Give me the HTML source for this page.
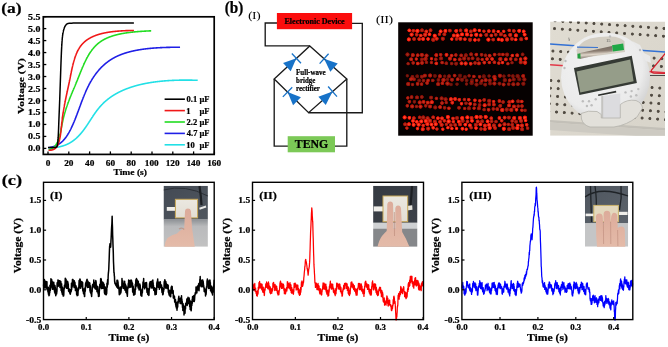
<!DOCTYPE html>
<html><head><meta charset="utf-8"><style>
html,body{margin:0;padding:0;background:#fff;width:668px;height:347px;overflow:hidden}
svg{display:block;filter:blur(0.35px)}
text{font-family:"Liberation Serif",serif;stroke:#000;stroke-width:0.22px}
</style></head><body>
<svg width="668" height="347" viewBox="0 0 668 347">
<rect width="668" height="347" fill="#fff"/>
<polyline points="48.34,147.74 48.59,147.75 48.83,147.75 49.08,147.76 49.32,147.76 49.57,147.76 49.81,147.76 50.05,147.76 50.29,147.76 50.53,147.76 50.76,147.75 51.00,147.75 51.24,147.74 51.47,147.73 51.70,147.73 51.94,147.72 52.17,147.71 52.40,147.70 52.63,147.69 52.86,147.67 53.08,147.66 53.31,147.64 53.53,147.63 53.76,147.61 53.98,147.59 54.21,147.58 54.43,147.56 54.65,147.54 54.87,147.51 55.09,147.49 55.30,147.47 55.52,147.44 55.74,147.42 55.95,147.39 56.16,147.37 56.38,147.34 56.59,147.31 56.80,147.28 57.01,147.25 57.22,147.22 57.43,147.18 57.64,147.15 57.84,147.11 58.05,147.08 58.25,147.04 58.46,147.01 58.66,146.97 58.86,146.93 59.06,146.89 59.26,146.85 59.46,146.81 59.66,146.76 59.86,146.72 60.06,146.68 60.25,146.63 60.45,146.58 60.64,146.54 60.84,146.49 61.03,146.44 61.22,146.39 61.41,146.34 61.60,146.29 61.79,146.24 61.98,146.18 62.17,146.13 62.35,146.08 62.54,146.02 62.72,145.97 62.91,145.91 63.09,145.85 63.27,145.79 63.45,145.73 63.64,145.67 63.82,145.61 64.00,145.55 64.17,145.49 64.35,145.42 64.53,145.36 64.71,145.30 64.88,145.23 65.06,145.16 65.23,145.10 65.40,145.03 65.58,144.96 65.75,144.89 65.92,144.82 66.09,144.75 66.26,144.68 66.43,144.60 66.59,144.53 66.76,144.46 66.93,144.38 67.09,144.31 67.26,144.23 67.42,144.15 67.59,144.08 67.75,144.00 67.91,143.92 68.07,143.84 68.23,143.76 68.39,143.68 68.55,143.60 68.71,143.52 68.87,143.43 69.03,143.35 69.19,143.26 69.34,143.18 69.50,143.09 69.65,143.01 69.81,142.92 69.96,142.83 70.11,142.74 70.26,142.65 70.41,142.56 70.57,142.47 70.72,142.38 70.87,142.29 71.01,142.20 71.16,142.11 71.31,142.01 71.46,141.92 71.60,141.82 71.75,141.73 71.89,141.63 72.04,141.54 72.18,141.44 72.33,141.34 72.47,141.24 72.61,141.14 72.75,141.04 72.89,140.94 73.03,140.84 73.17,140.74 73.31,140.64 73.45,140.54 73.59,140.43 73.73,140.33 73.86,140.23 74.00,140.12 74.14,140.02 74.27,139.91 74.41,139.80 74.54,139.70 74.67,139.59 74.81,139.48 74.94,139.37 75.07,139.26 75.20,139.15 75.34,139.04 75.47,138.93 75.60,138.82 75.73,138.71 75.85,138.60 75.98,138.49 76.11,138.37 76.24,138.26 76.37,138.15 76.49,138.03 76.62,137.92 76.74,137.80 76.87,137.68 76.99,137.57 77.12,137.45 77.24,137.33 77.37,137.22 77.49,137.10 77.61,136.98 77.73,136.86 77.85,136.74 77.97,136.62 78.10,136.50 78.22,136.38 78.34,136.26 78.45,136.13 78.57,136.01 78.69,135.89 78.81,135.77 78.93,135.64 79.05,135.52 79.16,135.39 79.28,135.27 79.39,135.15 79.51,135.02 79.63,134.89 79.74,134.77 79.85,134.64 79.97,134.51 80.08,134.39 80.20,134.26 80.31,134.13 80.42,134.00 80.53,133.87 80.65,133.74 80.76,133.61 80.87,133.48 80.98,133.35 81.09,133.22 81.20,133.09 81.31,132.96 81.42,132.83 81.53,132.70 81.64,132.56 81.75,132.43 81.85,132.30 81.96,132.17 82.07,132.03 82.18,131.90 82.28,131.76 82.39,131.63 82.50,131.50 82.60,131.36 82.71,131.23 82.81,131.09 82.92,130.95 83.03,130.82 83.13,130.68 83.23,130.54 83.34,130.41 83.44,130.27 83.55,130.13 83.65,130.00 83.75,129.86 83.86,129.72 83.96,129.58 84.06,129.44 84.16,129.30 84.27,129.16 84.37,129.02 84.47,128.88 84.57,128.74 84.67,128.60 84.77,128.46 84.87,128.32 84.97,128.18 85.07,128.04 85.17,127.90 85.27,127.76 85.37,127.62 85.47,127.48 85.57,127.34 85.67,127.19 85.77,127.05 85.87,126.91 85.97,126.77 86.07,126.62 86.16,126.48 86.26,126.34 86.36,126.19 86.46,126.05 86.56,125.91 86.65,125.76 86.75,125.62 86.85,125.48 86.95,125.33 87.04,125.19 87.14,125.04 87.24,124.90 87.33,124.76 87.43,124.61 87.53,124.47 87.62,124.32 87.72,124.18 87.81,124.03 87.91,123.89 88.01,123.74 88.10,123.60 88.20,123.45 88.29,123.30 88.39,123.16 88.48,123.01 88.58,122.87 88.68,122.72 88.77,122.58 88.87,122.43 88.96,122.28 89.06,122.14 89.15,121.99 89.25,121.85 89.34,121.70 89.44,121.55 89.53,121.41 89.63,121.26 89.72,121.12 89.82,120.97 89.91,120.82 90.01,120.68 90.10,120.53 90.20,120.38 90.29,120.24 90.39,120.09 90.48,119.95 90.58,119.80 90.67,119.65 90.77,119.51 90.86,119.36 90.96,119.21 91.05,119.07 91.15,118.92 91.24,118.78 91.34,118.63 91.43,118.48 91.53,118.34 91.62,118.19 91.72,118.05 91.81,117.90 91.91,117.75 92.00,117.61 92.10,117.46 92.19,117.32 92.29,117.17 92.39,117.03 92.48,116.88 92.58,116.74 92.67,116.59 92.77,116.45 92.87,116.30 92.96,116.16 93.06,116.01 93.16,115.87 93.25,115.72 93.35,115.58 93.45,115.43 93.54,115.29 93.64,115.15 93.74,115.00 93.83,114.86 93.93,114.71 94.03,114.57 94.13,114.43 94.23,114.28 94.32,114.14 94.42,114.00 94.52,113.86 94.62,113.71 94.72,113.57 94.82,113.43 94.92,113.29 95.01,113.14 95.11,113.00 95.21,112.86 95.31,112.72 95.41,112.58 95.51,112.44 95.61,112.30 95.72,112.16 95.82,112.02 95.92,111.88 96.02,111.74 96.12,111.60 96.22,111.46 96.32,111.32 96.43,111.18 96.53,111.04 96.63,110.90 96.73,110.76 96.84,110.63 96.94,110.49 97.04,110.35 97.15,110.21 97.25,110.08 97.36,109.94 97.46,109.80 97.57,109.67 97.67,109.53 97.78,109.40 97.88,109.26 97.99,109.12 98.09,108.99 98.20,108.86 98.31,108.72 98.42,108.59 98.52,108.45 98.63,108.32 98.74,108.19 98.85,108.06 98.96,107.92 99.07,107.79 99.18,107.66 99.28,107.53 99.39,107.40 99.51,107.27 99.62,107.14 99.73,107.01 99.84,106.88 99.95,106.75 100.06,106.62 100.18,106.49 100.29,106.36 100.40,106.23 100.52,106.11 100.63,105.98 100.74,105.85 100.86,105.72 100.97,105.60 101.09,105.47 101.20,105.35 101.32,105.22 101.44,105.10 101.55,104.97 101.67,104.85 101.79,104.73 101.91,104.60 102.03,104.48 102.15,104.36 102.26,104.24 102.38,104.12 102.50,103.99 102.62,103.87 102.74,103.75 102.87,103.63 102.99,103.51 103.11,103.39 103.23,103.27 103.35,103.16 103.48,103.04 103.60,102.92 103.72,102.80 103.85,102.68 103.97,102.57 104.10,102.45 104.22,102.33 104.35,102.22 104.47,102.10 104.60,101.99 104.72,101.87 104.85,101.76 104.98,101.64 105.10,101.53 105.23,101.42 105.36,101.30 105.49,101.19 105.62,101.08 105.75,100.97 105.88,100.86 106.01,100.74 106.14,100.63 106.27,100.52 106.40,100.41 106.53,100.30 106.66,100.19 106.79,100.08 106.93,99.98 107.06,99.87 107.19,99.76 107.33,99.65 107.46,99.54 107.59,99.44 107.73,99.33 107.86,99.22 108.00,99.12 108.13,99.01 108.27,98.91 108.41,98.80 108.54,98.70 108.68,98.59 108.82,98.49 108.95,98.39 109.09,98.28 109.23,98.18 109.37,98.08 109.51,97.98 109.65,97.87 109.79,97.77 109.93,97.67 110.07,97.57 110.21,97.47 110.35,97.37 110.49,97.27 110.63,97.17 110.77,97.07 110.92,96.97 111.06,96.87 111.20,96.77 111.34,96.68 111.49,96.58 111.63,96.48 111.78,96.39 111.92,96.29 112.07,96.19 112.21,96.10 112.36,96.00 112.50,95.91 112.65,95.81 112.80,95.72 112.94,95.62 113.09,95.53 113.24,95.44 113.39,95.34 113.53,95.25 113.68,95.16 113.83,95.07 113.98,94.97 114.13,94.88 114.28,94.79 114.43,94.70 114.58,94.61 114.73,94.52 114.88,94.43 115.04,94.34 115.19,94.25 115.34,94.16 115.49,94.07 115.65,93.99 115.80,93.90 115.95,93.81 116.11,93.72 116.26,93.64 116.42,93.55 116.57,93.46 116.73,93.38 116.88,93.29 117.04,93.21 117.19,93.12 117.35,93.04 117.51,92.95 117.66,92.87 117.82,92.78 117.98,92.70 118.14,92.62 118.29,92.53 118.45,92.45 118.61,92.37 118.77,92.29 118.93,92.21 119.09,92.13 119.25,92.04 119.41,91.96 119.57,91.88 119.73,91.80 119.90,91.72 120.06,91.64 120.22,91.57 120.38,91.49 120.55,91.41 120.71,91.33 120.87,91.25 121.04,91.18 121.20,91.10 121.36,91.02 121.53,90.95 121.69,90.87 121.86,90.79 122.02,90.72 122.19,90.64 122.36,90.57 122.52,90.49 122.69,90.42 122.86,90.34 123.02,90.27 123.19,90.20 123.36,90.12 123.53,90.05 123.70,89.98 123.87,89.91 124.04,89.83 124.21,89.76 124.37,89.69 124.55,89.62 124.72,89.55 124.89,89.48 125.06,89.41 125.23,89.34 125.40,89.27 125.57,89.20 125.74,89.13 125.92,89.06 126.09,89.00 126.26,88.93 126.44,88.86 126.61,88.79 126.78,88.72 126.96,88.66 127.13,88.59 127.31,88.53 127.48,88.46 127.66,88.39 127.83,88.33 128.01,88.26 128.19,88.20 128.36,88.13 128.54,88.07 128.72,88.01 128.90,87.94 129.07,87.88 129.25,87.82 129.43,87.75 129.61,87.69 129.79,87.63 129.97,87.57 130.15,87.51 130.33,87.44 130.51,87.38 130.69,87.32 130.87,87.26 131.05,87.20 131.23,87.14 131.41,87.08 131.59,87.02 131.78,86.96 131.96,86.91 132.14,86.85 132.32,86.79 132.51,86.73 132.69,86.67 132.88,86.62 133.06,86.56 133.24,86.50 133.43,86.45 133.61,86.39 133.80,86.33 133.99,86.28 134.17,86.22 134.36,86.17 134.54,86.11 134.73,86.06 134.92,86.01 135.10,85.95 135.29,85.90 135.48,85.84 135.67,85.79 135.86,85.74 136.04,85.69 136.23,85.63 136.42,85.58 136.61,85.53 136.80,85.48 136.99,85.43 137.18,85.38 137.37,85.33 137.56,85.28 137.76,85.23 137.95,85.18 138.14,85.13 138.33,85.08 138.52,85.03 138.71,84.98 138.91,84.93 139.10,84.88 139.29,84.84 139.49,84.79 139.68,84.74 139.88,84.69 140.07,84.65 140.26,84.60 140.46,84.55 140.65,84.51 140.85,84.46 141.05,84.42 141.24,84.37 141.44,84.33 141.63,84.28 141.83,84.24 142.03,84.19 142.23,84.15 142.42,84.11 142.62,84.06 142.82,84.02 143.02,83.98 143.22,83.93 143.41,83.89 143.61,83.85 143.81,83.81 144.01,83.77 144.21,83.73 144.41,83.68 144.61,83.64 144.81,83.60 145.01,83.56 145.22,83.52 145.42,83.48 145.62,83.44 145.82,83.40 146.02,83.37 146.22,83.33 146.43,83.29 146.63,83.25 146.83,83.21 147.04,83.17 147.24,83.14 147.44,83.10 147.65,83.06 147.85,83.03 148.06,82.99 148.26,82.95 148.47,82.92 148.67,82.88 148.88,82.85 149.09,82.81 149.29,82.78 149.50,82.74 149.71,82.71 149.91,82.67 150.12,82.64 150.33,82.60 150.53,82.57 150.74,82.54 150.95,82.51 151.16,82.47 151.37,82.44 151.58,82.41 151.79,82.38 152.00,82.34 152.20,82.31 152.41,82.28 152.62,82.25 152.84,82.22 153.05,82.19 153.26,82.16 153.47,82.13 153.68,82.10 153.89,82.07 154.10,82.04 154.31,82.01 154.53,81.98 154.74,81.95 154.95,81.93 155.17,81.90 155.38,81.87 155.59,81.84 155.81,81.81 156.02,81.79 156.23,81.76 156.45,81.73 156.66,81.71 156.88,81.68 157.09,81.65 157.31,81.63 157.52,81.60 157.74,81.58 157.96,81.55 158.17,81.53 158.39,81.50 158.61,81.48 158.82,81.45 159.04,81.43 159.26,81.41 159.47,81.38 159.69,81.36 159.91,81.34 160.13,81.31 160.35,81.29 160.57,81.27 160.79,81.25 161.00,81.23 161.22,81.20 161.44,81.18 161.66,81.16 161.88,81.14 162.10,81.12 162.33,81.10 162.55,81.08 162.77,81.06 162.99,81.04 163.21,81.02 163.43,81.00 163.65,80.98 163.88,80.96 164.10,80.94 164.32,80.92 164.54,80.91 164.77,80.89 164.99,80.87 165.21,80.85 165.44,80.83 165.66,80.82 165.89,80.80 166.11,80.78 166.33,80.77 166.56,80.75 166.78,80.73 167.01,80.72 167.23,80.70 167.46,80.69 167.69,80.67 167.91,80.66 168.14,80.64 168.36,80.63 168.59,80.61 168.82,80.60 169.05,80.58 169.27,80.57 169.50,80.56 169.73,80.54 169.96,80.53 170.18,80.52 170.41,80.50 170.64,80.49 170.87,80.48 171.10,80.47 171.33,80.46 171.56,80.44 171.79,80.43 172.02,80.42 172.25,80.41 172.48,80.40 172.71,80.39 172.94,80.38 173.17,80.37 173.40,80.36 173.63,80.35 173.86,80.34 174.10,80.33 174.33,80.32 174.56,80.31 174.79,80.30 175.02,80.29 175.26,80.28 175.49,80.28 175.72,80.27 175.96,80.26 176.19,80.25 176.42,80.25 176.66,80.24 176.89,80.23 177.13,80.22 177.36,80.22 177.59,80.21 177.83,80.20 178.06,80.20 178.30,80.19 178.54,80.19 178.77,80.18 179.01,80.18 179.24,80.17 179.48,80.17 179.72,80.16 179.95,80.16 180.19,80.15 180.43,80.15 180.66,80.14 180.90,80.14 181.14,80.14 181.38,80.13 181.61,80.13 181.85,80.13 182.09,80.12 182.33,80.12 182.57,80.12 182.81,80.12 183.05,80.12 183.28,80.11 183.52,80.11 183.76,80.11 184.00,80.11 184.24,80.11 184.48,80.11 184.72,80.11 184.97,80.11 185.21,80.10 185.45,80.10 185.69,80.10 185.93,80.10 186.17,80.10 186.41,80.11 186.65,80.11 186.90,80.11 187.14,80.11 187.38,80.11 187.62,80.11 187.87,80.11 188.11,80.11 188.35,80.12 188.60,80.12 188.84,80.12 189.08,80.12 189.33,80.13 189.57,80.13 189.81,80.13 190.06,80.13 190.30,80.14 190.55,80.14 190.79,80.15 191.04,80.15 191.28,80.15 191.53,80.16 191.77,80.16 192.02,80.17 192.27,80.17 192.51,80.18 192.76,80.18 193.00,80.19 193.25,80.19 193.50,80.20 193.74,80.20 193.99,80.21 194.24,80.21 194.49,80.22 194.73,80.23 194.98,80.23 195.23,80.24 195.48,80.25 195.73,80.25 195.97,80.26 196.22,80.27 196.47,80.28 196.72,80.28 196.97,80.29 197.22,80.30 197.47,80.31 197.72,80.32" fill="none" stroke="#22e0e6" stroke-width="1.6" stroke-linejoin="round"/>
<polyline points="48.80,147.60 49.03,147.57 49.26,147.54 49.48,147.51 49.71,147.47 49.93,147.44 50.15,147.40 50.37,147.36 50.58,147.32 50.80,147.28 51.01,147.24 51.22,147.19 51.44,147.14 51.65,147.10 51.85,147.05 52.06,147.00 52.27,146.94 52.47,146.89 52.67,146.83 52.87,146.78 53.07,146.72 53.27,146.66 53.47,146.60 53.66,146.54 53.86,146.47 54.05,146.41 54.24,146.34 54.43,146.27 54.62,146.21 54.81,146.13 54.99,146.06 55.18,145.99 55.36,145.92 55.54,145.84 55.72,145.76 55.90,145.68 56.08,145.60 56.26,145.52 56.43,145.44 56.61,145.36 56.78,145.27 56.95,145.19 57.12,145.10 57.29,145.01 57.46,144.92 57.63,144.83 57.79,144.74 57.96,144.65 58.12,144.55 58.28,144.46 58.44,144.36 58.60,144.26 58.76,144.16 58.92,144.06 59.08,143.96 59.23,143.86 59.38,143.76 59.54,143.65 59.69,143.55 59.84,143.44 59.99,143.33 60.14,143.22 60.29,143.12 60.43,143.00 60.58,142.89 60.72,142.78 60.87,142.67 61.01,142.55 61.15,142.43 61.29,142.32 61.43,142.20 61.57,142.08 61.71,141.96 61.85,141.84 61.98,141.72 62.12,141.59 62.25,141.47 62.38,141.35 62.51,141.22 62.65,141.09 62.78,140.97 62.91,140.84 63.03,140.71 63.16,140.58 63.29,140.45 63.41,140.32 63.54,140.18 63.66,140.05 63.79,139.92 63.91,139.78 64.03,139.64 64.15,139.51 64.27,139.37 64.39,139.23 64.51,139.09 64.63,138.95 64.74,138.81 64.86,138.67 64.97,138.53 65.09,138.38 65.20,138.24 65.32,138.10 65.43,137.95 65.54,137.80 65.65,137.66 65.76,137.51 65.87,137.36 65.98,137.21 66.09,137.06 66.19,136.91 66.30,136.76 66.41,136.61 66.51,136.46 66.62,136.31 66.72,136.15 66.83,136.00 66.93,135.85 67.03,135.69 67.13,135.53 67.24,135.38 67.34,135.22 67.44,135.06 67.54,134.91 67.64,134.75 67.73,134.59 67.83,134.43 67.93,134.27 68.03,134.11 68.12,133.95 68.22,133.79 68.32,133.62 68.41,133.46 68.50,133.30 68.60,133.14 68.69,132.97 68.79,132.81 68.88,132.64 68.97,132.48 69.06,132.31 69.15,132.15 69.25,131.98 69.34,131.81 69.43,131.65 69.52,131.48 69.61,131.31 69.70,131.14 69.79,130.97 69.87,130.80 69.96,130.63 70.05,130.47 70.14,130.30 70.23,130.12 70.31,129.95 70.40,129.78 70.49,129.61 70.57,129.44 70.66,129.27 70.74,129.10 70.83,128.92 70.91,128.75 71.00,128.58 71.08,128.41 71.17,128.23 71.25,128.06 71.34,127.89 71.42,127.71 71.50,127.54 71.58,127.36 71.67,127.19 71.75,127.01 71.83,126.84 71.91,126.66 72.00,126.48 72.08,126.31 72.16,126.13 72.24,125.96 72.32,125.78 72.40,125.60 72.48,125.42 72.56,125.25 72.64,125.07 72.72,124.89 72.80,124.71 72.88,124.53 72.96,124.35 73.04,124.18 73.11,124.00 73.19,123.82 73.27,123.64 73.35,123.46 73.43,123.28 73.50,123.10 73.58,122.92 73.66,122.74 73.73,122.56 73.81,122.37 73.89,122.19 73.96,122.01 74.04,121.83 74.11,121.65 74.19,121.47 74.27,121.28 74.34,121.10 74.42,120.92 74.49,120.74 74.57,120.55 74.64,120.37 74.72,120.19 74.79,120.01 74.86,119.82 74.94,119.64 75.01,119.45 75.09,119.27 75.16,119.09 75.23,118.90 75.31,118.72 75.38,118.53 75.45,118.35 75.53,118.16 75.60,117.98 75.67,117.79 75.74,117.61 75.82,117.42 75.89,117.24 75.96,117.05 76.03,116.87 76.10,116.68 76.18,116.50 76.25,116.31 76.32,116.12 76.39,115.94 76.46,115.75 76.53,115.56 76.60,115.38 76.67,115.19 76.75,115.00 76.82,114.82 76.89,114.63 76.96,114.44 77.03,114.26 77.10,114.07 77.17,113.88 77.24,113.70 77.31,113.51 77.38,113.32 77.45,113.13 77.52,112.95 77.59,112.76 77.66,112.57 77.73,112.38 77.80,112.19 77.87,112.01 77.94,111.82 78.01,111.63 78.08,111.44 78.15,111.25 78.22,111.07 78.29,110.88 78.36,110.69 78.43,110.50 78.49,110.31 78.56,110.13 78.63,109.94 78.70,109.75 78.77,109.56 78.84,109.37 78.91,109.18 78.98,108.99 79.05,108.81 79.12,108.62 79.19,108.43 79.26,108.24 79.32,108.05 79.39,107.86 79.46,107.68 79.53,107.49 79.60,107.30 79.67,107.11 79.74,106.92 79.81,106.73 79.88,106.54 79.95,106.36 80.02,106.17 80.09,105.98 80.15,105.79 80.22,105.60 80.29,105.41 80.36,105.23 80.43,105.04 80.50,104.85 80.57,104.66 80.64,104.47 80.71,104.29 80.78,104.10 80.85,103.91 80.92,103.72 80.99,103.53 81.06,103.35 81.13,103.16 81.20,102.97 81.27,102.78 81.34,102.59 81.41,102.41 81.48,102.22 81.55,102.03 81.62,101.84 81.69,101.66 81.76,101.47 81.83,101.28 81.90,101.10 81.97,100.91 82.04,100.72 82.11,100.54 82.18,100.35 82.26,100.16 82.33,99.98 82.40,99.79 82.47,99.60 82.54,99.42 82.61,99.23 82.68,99.05 82.76,98.86 82.83,98.67 82.90,98.49 82.97,98.30 83.04,98.12 83.12,97.93 83.19,97.75 83.26,97.56 83.34,97.38 83.41,97.19 83.48,97.01 83.55,96.83 83.63,96.64 83.70,96.46 83.78,96.27 83.85,96.09 83.92,95.91 84.00,95.72 84.07,95.54 84.15,95.36 84.22,95.17 84.30,94.99 84.37,94.81 84.45,94.62 84.52,94.44 84.60,94.26 84.67,94.08 84.75,93.90 84.82,93.71 84.90,93.53 84.98,93.35 85.05,93.17 85.13,92.99 85.21,92.81 85.28,92.63 85.36,92.45 85.44,92.27 85.52,92.09 85.60,91.91 85.67,91.73 85.75,91.55 85.83,91.37 85.91,91.19 85.99,91.01 86.07,90.84 86.15,90.66 86.23,90.48 86.31,90.30 86.39,90.13 86.47,89.95 86.55,89.77 86.63,89.59 86.71,89.42 86.79,89.24 86.87,89.07 86.95,88.89 87.04,88.71 87.12,88.54 87.20,88.36 87.28,88.19 87.37,88.01 87.45,87.84 87.54,87.67 87.62,87.49 87.70,87.32 87.79,87.15 87.87,86.97 87.96,86.80 88.04,86.63 88.13,86.46 88.21,86.28 88.30,86.11 88.39,85.94 88.47,85.77 88.56,85.60 88.65,85.43 88.73,85.26 88.82,85.09 88.91,84.92 89.00,84.75 89.09,84.58 89.18,84.41 89.27,84.24 89.35,84.08 89.44,83.91 89.53,83.74 89.62,83.57 89.72,83.41 89.81,83.24 89.90,83.07 89.99,82.91 90.08,82.74 90.17,82.58 90.26,82.41 90.36,82.25 90.45,82.08 90.54,81.92 90.64,81.75 90.73,81.59 90.82,81.42 90.92,81.26 91.01,81.10 91.11,80.94 91.20,80.77 91.30,80.61 91.40,80.45 91.49,80.29 91.59,80.13 91.69,79.97 91.78,79.81 91.88,79.65 91.98,79.49 92.08,79.33 92.17,79.17 92.27,79.01 92.37,78.85 92.47,78.69 92.57,78.53 92.67,78.38 92.77,78.22 92.87,78.06 92.97,77.91 93.08,77.75 93.18,77.59 93.28,77.44 93.38,77.28 93.48,77.13 93.59,76.97 93.69,76.82 93.79,76.67 93.90,76.51 94.00,76.36 94.11,76.21 94.21,76.05 94.32,75.90 94.42,75.75 94.53,75.60 94.64,75.45 94.74,75.29 94.85,75.14 94.96,74.99 95.06,74.84 95.17,74.69 95.28,74.55 95.39,74.40 95.50,74.25 95.61,74.10 95.72,73.95 95.83,73.80 95.94,73.66 96.05,73.51 96.16,73.36 96.27,73.22 96.38,73.07 96.50,72.93 96.61,72.78 96.72,72.64 96.84,72.49 96.95,72.35 97.06,72.21 97.18,72.06 97.29,71.92 97.41,71.78 97.52,71.64 97.64,71.49 97.76,71.35 97.87,71.21 97.99,71.07 98.11,70.93 98.23,70.79 98.34,70.65 98.46,70.51 98.58,70.38 98.70,70.24 98.82,70.10 98.94,69.96 99.06,69.82 99.18,69.69 99.30,69.55 99.43,69.42 99.55,69.28 99.67,69.14 99.79,69.01 99.92,68.88 100.04,68.74 100.16,68.61 100.29,68.47 100.41,68.34 100.54,68.21 100.66,68.08 100.79,67.95 100.92,67.81 101.04,67.68 101.17,67.55 101.30,67.42 101.43,67.29 101.55,67.16 101.68,67.04 101.81,66.91 101.94,66.78 102.07,66.65 102.20,66.52 102.33,66.40 102.46,66.27 102.60,66.15 102.73,66.02 102.86,65.89 102.99,65.77 103.13,65.65 103.26,65.52 103.39,65.40 103.53,65.28 103.66,65.15 103.80,65.03 103.94,64.91 104.07,64.79 104.21,64.67 104.35,64.55 104.48,64.43 104.62,64.31 104.76,64.19 104.90,64.07 105.04,63.95 105.18,63.83 105.32,63.71 105.46,63.60 105.60,63.48 105.74,63.37 105.88,63.25 106.02,63.13 106.17,63.02 106.31,62.90 106.45,62.79 106.60,62.68 106.74,62.56 106.89,62.45 107.03,62.34 107.18,62.23 107.33,62.12 107.47,62.01 107.62,61.90 107.77,61.79 107.92,61.68 108.06,61.57 108.21,61.46 108.36,61.35 108.51,61.24 108.66,61.13 108.81,61.03 108.97,60.92 109.12,60.82 109.27,60.71 109.42,60.61 109.57,60.50 109.73,60.40 109.88,60.29 110.04,60.19 110.19,60.09 110.35,59.99 110.50,59.88 110.66,59.78 110.82,59.68 110.97,59.58 111.13,59.48 111.29,59.38 111.45,59.28 111.61,59.19 111.77,59.09 111.93,58.99 112.09,58.89 112.25,58.80 112.41,58.70 112.57,58.61 112.74,58.51 112.90,58.42 113.06,58.32 113.23,58.23 113.39,58.14 113.56,58.04 113.72,57.95 113.89,57.86 114.06,57.77 114.22,57.68 114.39,57.59 114.56,57.50 114.73,57.41 114.90,57.32 115.07,57.23 115.24,57.15 115.41,57.06 115.58,56.97 115.75,56.89 115.92,56.80 116.09,56.72 116.27,56.63 116.44,56.55 116.62,56.46 116.79,56.38 116.96,56.30 117.14,56.22 117.32,56.13 117.49,56.05 117.67,55.97 117.85,55.89 118.02,55.81 118.20,55.73 118.38,55.65 118.56,55.58 118.74,55.50 118.92,55.42 119.10,55.34 119.28,55.27 119.46,55.19 119.65,55.12 119.83,55.04 120.01,54.97 120.20,54.89 120.38,54.82 120.56,54.74 120.75,54.67 120.93,54.60 121.12,54.53 121.31,54.46 121.49,54.39 121.68,54.31 121.87,54.24 122.05,54.18 122.24,54.11 122.43,54.04 122.62,53.97 122.81,53.90 123.00,53.83 123.19,53.77 123.38,53.70 123.57,53.63 123.77,53.57 123.96,53.50 124.15,53.44 124.35,53.37 124.54,53.31 124.73,53.25 124.93,53.18 125.12,53.12 125.32,53.06 125.51,53.00 125.71,52.93 125.91,52.87 126.10,52.81 126.30,52.75 126.50,52.69 126.70,52.63 126.90,52.58 127.09,52.52 127.29,52.46 127.49,52.40 127.69,52.34 127.90,52.29 128.10,52.23 128.30,52.17 128.50,52.12 128.70,52.06 128.91,52.01 129.11,51.95 129.31,51.90 129.52,51.85 129.72,51.79 129.92,51.74 130.13,51.69 130.34,51.64 130.54,51.58 130.75,51.53 130.95,51.48 131.16,51.43 131.37,51.38 131.58,51.33 131.78,51.28 131.99,51.23 132.20,51.18 132.41,51.14 132.62,51.09 132.83,51.04 133.04,50.99 133.25,50.95 133.46,50.90 133.68,50.85 133.89,50.81 134.10,50.76 134.31,50.72 134.53,50.67 134.74,50.63 134.95,50.59 135.17,50.54 135.38,50.50 135.60,50.46 135.81,50.41 136.03,50.37 136.24,50.33 136.46,50.29 136.68,50.25 136.89,50.21 137.11,50.17 137.33,50.13 137.55,50.09 137.76,50.05 137.98,50.01 138.20,49.97 138.42,49.93 138.64,49.89 138.86,49.86 139.08,49.82 139.30,49.78 139.52,49.75 139.74,49.71 139.97,49.67 140.19,49.64 140.41,49.60 140.63,49.57 140.86,49.53 141.08,49.50 141.30,49.46 141.53,49.43 141.75,49.40 141.98,49.36 142.20,49.33 142.43,49.30 142.65,49.27 142.88,49.24 143.10,49.20 143.33,49.17 143.56,49.14 143.78,49.11 144.01,49.08 144.24,49.05 144.47,49.02 144.70,48.99 144.92,48.96 145.15,48.93 145.38,48.91 145.61,48.88 145.84,48.85 146.07,48.82 146.30,48.80 146.53,48.77 146.76,48.74 146.99,48.72 147.23,48.69 147.46,48.66 147.69,48.64 147.92,48.61 148.16,48.59 148.39,48.56 148.62,48.54 148.86,48.52 149.09,48.49 149.32,48.47 149.56,48.44 149.79,48.42 150.03,48.40 150.26,48.38 150.50,48.35 150.73,48.33 150.97,48.31 151.21,48.29 151.44,48.27 151.68,48.25 151.92,48.23 152.15,48.21 152.39,48.19 152.63,48.17 152.87,48.15 153.10,48.13 153.34,48.11 153.58,48.09 153.82,48.07 154.06,48.05 154.30,48.03 154.54,48.02 154.78,48.00 155.02,47.98 155.26,47.96 155.50,47.95 155.74,47.93 155.98,47.91 156.22,47.90 156.47,47.88 156.71,47.87 156.95,47.85 157.19,47.84 157.44,47.82 157.68,47.81 157.92,47.79 158.16,47.78 158.41,47.76 158.65,47.75 158.90,47.74 159.14,47.72 159.38,47.71 159.63,47.70 159.87,47.68 160.12,47.67 160.36,47.66 160.61,47.65 160.86,47.63 161.10,47.62 161.35,47.61 161.59,47.60 161.84,47.59 162.09,47.58 162.33,47.57 162.58,47.56 162.83,47.55 163.08,47.54 163.32,47.53 163.57,47.52 163.82,47.51 164.07,47.50 164.32,47.49 164.57,47.48 164.81,47.47 165.06,47.46 165.31,47.45 165.56,47.45 165.81,47.44 166.06,47.43 166.31,47.42 166.56,47.42 166.81,47.41 167.06,47.40 167.31,47.39 167.56,47.39 167.82,47.38 168.07,47.37 168.32,47.37 168.57,47.36 168.82,47.36 169.07,47.35 169.33,47.35 169.58,47.34 169.83,47.33 170.08,47.33 170.34,47.32 170.59,47.32 170.84,47.32 171.09,47.31 171.35,47.31 171.60,47.30 171.85,47.30 172.11,47.29 172.36,47.29 172.62,47.29 172.87,47.28 173.13,47.28 173.38,47.28 173.63,47.28 173.89,47.27 174.14,47.27 174.40,47.27 174.65,47.26 174.91,47.26 175.17,47.26 175.42,47.26 175.68,47.26 175.93,47.25 176.19,47.25 176.45,47.25 176.70,47.25 176.96,47.25 177.21,47.25 177.47,47.25 177.73,47.25 177.98,47.25 178.24,47.25 178.50,47.24 178.76,47.24 179.01,47.24 179.27,47.24 179.53,47.24 179.79,47.24 180.04,47.24" fill="none" stroke="#1f1fe6" stroke-width="1.6" stroke-linejoin="round"/>
<polyline points="48.62,149.62 48.83,149.59 49.04,149.55 49.24,149.50 49.44,149.46 49.64,149.41 49.83,149.36 50.03,149.30 50.21,149.24 50.40,149.18 50.58,149.12 50.76,149.06 50.94,148.99 51.12,148.92 51.29,148.84 51.46,148.77 51.63,148.69 51.79,148.61 51.96,148.52 52.12,148.44 52.27,148.35 52.43,148.26 52.58,148.16 52.73,148.07 52.88,147.97 53.02,147.87 53.17,147.77 53.31,147.66 53.45,147.55 53.59,147.44 53.72,147.33 53.85,147.22 53.98,147.10 54.11,146.98 54.24,146.86 54.36,146.74 54.48,146.62 54.61,146.49 54.72,146.37 54.84,146.24 54.96,146.10 55.07,145.97 55.18,145.84 55.29,145.70 55.40,145.56 55.50,145.42 55.61,145.28 55.71,145.14 55.81,144.99 55.91,144.84 56.01,144.70 56.11,144.55 56.20,144.40 56.30,144.24 56.39,144.09 56.48,143.93 56.57,143.78 56.66,143.62 56.74,143.46 56.83,143.30 56.91,143.14 57.00,142.97 57.08,142.81 57.16,142.64 57.24,142.48 57.32,142.31 57.40,142.14 57.47,141.97 57.55,141.80 57.62,141.63 57.70,141.46 57.77,141.28 57.84,141.11 57.91,140.93 57.98,140.76 58.05,140.58 58.12,140.40 58.19,140.23 58.26,140.05 58.32,139.87 58.39,139.69 58.45,139.50 58.52,139.32 58.58,139.14 58.64,138.96 58.71,138.77 58.77,138.59 58.83,138.40 58.89,138.22 58.95,138.03 59.01,137.84 59.06,137.65 59.12,137.46 59.18,137.28 59.24,137.09 59.29,136.89 59.35,136.70 59.40,136.51 59.46,136.32 59.51,136.13 59.56,135.93 59.61,135.74 59.67,135.55 59.72,135.35 59.77,135.16 59.82,134.96 59.87,134.76 59.92,134.57 59.97,134.37 60.02,134.17 60.07,133.98 60.11,133.78 60.16,133.58 60.21,133.38 60.26,133.18 60.30,132.98 60.35,132.78 60.39,132.58 60.44,132.38 60.48,132.18 60.53,131.98 60.57,131.77 60.62,131.57 60.66,131.37 60.71,131.17 60.75,130.96 60.79,130.76 60.83,130.56 60.88,130.35 60.92,130.15 60.96,129.95 61.00,129.74 61.05,129.54 61.09,129.33 61.13,129.13 61.17,128.92 61.21,128.72 61.25,128.51 61.29,128.31 61.33,128.10 61.37,127.90 61.41,127.69 61.45,127.48 61.49,127.28 61.54,127.07 61.58,126.87 61.62,126.66 61.66,126.45 61.70,126.25 61.74,126.04 61.78,125.83 61.82,125.63 61.86,125.42 61.90,125.22 61.94,125.01 61.98,124.80 62.02,124.60 62.06,124.39 62.10,124.19 62.14,123.98 62.18,123.77 62.22,123.57 62.26,123.36 62.30,123.16 62.34,122.95 62.38,122.75 62.42,122.54 62.47,122.34 62.51,122.13 62.55,121.93 62.59,121.73 62.63,121.52 62.68,121.32 62.72,121.11 62.76,120.91 62.81,120.71 62.85,120.51 62.89,120.30 62.94,120.10 62.98,119.90 63.03,119.70 63.07,119.50 63.12,119.30 63.16,119.10 63.21,118.90 63.26,118.70 63.30,118.50 63.35,118.30 63.40,118.10 63.45,117.90 63.49,117.70 63.54,117.50 63.59,117.31 63.64,117.11 63.69,116.91 63.74,116.71 63.79,116.52 63.84,116.32 63.89,116.12 63.94,115.93 63.99,115.73 64.04,115.54 64.09,115.34 64.14,115.15 64.19,114.95 64.25,114.76 64.30,114.57 64.35,114.37 64.41,114.18 64.46,113.99 64.51,113.79 64.57,113.60 64.62,113.41 64.67,113.22 64.73,113.03 64.78,112.84 64.84,112.64 64.89,112.45 64.95,112.26 65.01,112.07 65.06,111.88 65.12,111.69 65.18,111.50 65.23,111.31 65.29,111.12 65.35,110.94 65.40,110.75 65.46,110.56 65.52,110.37 65.58,110.18 65.64,109.99 65.70,109.81 65.75,109.62 65.81,109.43 65.87,109.25 65.93,109.06 65.99,108.87 66.05,108.69 66.11,108.50 66.17,108.31 66.23,108.13 66.30,107.94 66.36,107.76 66.42,107.57 66.48,107.39 66.54,107.20 66.60,107.02 66.67,106.84 66.73,106.65 66.79,106.47 66.85,106.28 66.92,106.10 66.98,105.92 67.04,105.74 67.11,105.55 67.17,105.37 67.23,105.19 67.30,105.01 67.36,104.82 67.43,104.64 67.49,104.46 67.56,104.28 67.62,104.10 67.69,103.92 67.75,103.73 67.82,103.55 67.88,103.37 67.95,103.19 68.01,103.01 68.08,102.83 68.15,102.65 68.21,102.47 68.28,102.29 68.35,102.11 68.41,101.93 68.48,101.75 68.55,101.58 68.61,101.40 68.68,101.22 68.75,101.04 68.82,100.86 68.88,100.68 68.95,100.50 69.02,100.33 69.09,100.15 69.16,99.97 69.23,99.79 69.30,99.61 69.36,99.44 69.43,99.26 69.50,99.08 69.57,98.91 69.64,98.73 69.71,98.55 69.78,98.37 69.85,98.20 69.92,98.02 69.99,97.85 70.06,97.67 70.13,97.49 70.20,97.32 70.27,97.14 70.34,96.96 70.41,96.79 70.48,96.61 70.55,96.44 70.62,96.26 70.69,96.09 70.76,95.91 70.83,95.74 70.91,95.56 70.98,95.39 71.05,95.21 71.12,95.04 71.19,94.86 71.26,94.69 71.33,94.51 71.41,94.34 71.48,94.16 71.55,93.99 71.62,93.81 71.69,93.64 71.76,93.46 71.84,93.29 71.91,93.12 71.98,92.94 72.05,92.77 72.13,92.59 72.20,92.42 72.27,92.25 72.34,92.07 72.41,91.90 72.49,91.72 72.56,91.55 72.63,91.38 72.71,91.20 72.78,91.03 72.85,90.86 72.92,90.68 73.00,90.51 73.07,90.34 73.14,90.16 73.21,89.99 73.29,89.82 73.36,89.64 73.43,89.47 73.51,89.30 73.58,89.12 73.65,88.95 73.73,88.78 73.80,88.60 73.87,88.43 73.94,88.26 74.02,88.08 74.09,87.91 74.16,87.74 74.24,87.56 74.31,87.39 74.38,87.22 74.46,87.04 74.53,86.87 74.60,86.70 74.68,86.52 74.75,86.35 74.82,86.18 74.89,86.00 74.97,85.83 75.04,85.66 75.11,85.48 75.19,85.31 75.26,85.14 75.33,84.96 75.40,84.79 75.48,84.62 75.55,84.44 75.62,84.27 75.70,84.10 75.77,83.92 75.84,83.75 75.91,83.58 75.99,83.40 76.06,83.23 76.13,83.06 76.20,82.88 76.28,82.71 76.35,82.53 76.42,82.36 76.49,82.19 76.57,82.01 76.64,81.84 76.71,81.66 76.78,81.49 76.85,81.31 76.93,81.14 77.00,80.97 77.07,80.79 77.14,80.62 77.21,80.44 77.28,80.27 77.36,80.09 77.43,79.92 77.50,79.74 77.57,79.57 77.64,79.39 77.71,79.22 77.78,79.04 77.85,78.87 77.93,78.69 78.00,78.52 78.07,78.34 78.14,78.17 78.21,77.99 78.28,77.81 78.35,77.64 78.42,77.46 78.49,77.29 78.56,77.11 78.63,76.93 78.70,76.76 78.77,76.58 78.84,76.41 78.91,76.23 78.98,76.06 79.05,75.88 79.12,75.70 79.19,75.53 79.26,75.35 79.33,75.18 79.40,75.00 79.47,74.82 79.54,74.65 79.62,74.47 79.69,74.30 79.76,74.12 79.83,73.94 79.90,73.77 79.97,73.59 80.04,73.42 80.11,73.24 80.18,73.06 80.25,72.89 80.32,72.71 80.39,72.54 80.46,72.36 80.53,72.19 80.60,72.01 80.67,71.83 80.74,71.66 80.81,71.48 80.88,71.31 80.96,71.13 81.03,70.96 81.10,70.78 81.17,70.61 81.24,70.43 81.31,70.26 81.38,70.08 81.45,69.91 81.53,69.73 81.60,69.56 81.67,69.38 81.74,69.21 81.81,69.04 81.89,68.86 81.96,68.69 82.03,68.51 82.10,68.34 82.18,68.17 82.25,67.99 82.32,67.82 82.39,67.65 82.47,67.47 82.54,67.30 82.61,67.13 82.69,66.95 82.76,66.78 82.84,66.61 82.91,66.44 82.98,66.26 83.06,66.09 83.13,65.92 83.21,65.75 83.28,65.58 83.36,65.41 83.43,65.24 83.51,65.06 83.58,64.89 83.66,64.72 83.73,64.55 83.81,64.38 83.89,64.21 83.96,64.04 84.04,63.87 84.12,63.70 84.19,63.53 84.27,63.36 84.35,63.20 84.43,63.03 84.50,62.86 84.58,62.69 84.66,62.52 84.74,62.35 84.82,62.19 84.90,62.02 84.97,61.85 85.05,61.69 85.13,61.52 85.21,61.35 85.29,61.19 85.37,61.02 85.45,60.86 85.54,60.69 85.62,60.52 85.70,60.36 85.78,60.20 85.86,60.03 85.94,59.87 86.03,59.70 86.11,59.54 86.19,59.38 86.28,59.21 86.36,59.05 86.44,58.89 86.53,58.73 86.61,58.56 86.70,58.40 86.78,58.24 86.87,58.08 86.95,57.92 87.04,57.76 87.12,57.60 87.21,57.44 87.30,57.28 87.39,57.12 87.47,56.96 87.56,56.80 87.65,56.65 87.74,56.49 87.83,56.33 87.92,56.17 88.00,56.02 88.09,55.86 88.18,55.70 88.28,55.55 88.37,55.39 88.46,55.24 88.55,55.08 88.64,54.93 88.73,54.78 88.83,54.62 88.92,54.47 89.01,54.32 89.11,54.16 89.20,54.01 89.30,53.86 89.39,53.71 89.49,53.56 89.58,53.41 89.68,53.26 89.78,53.11 89.87,52.96 89.97,52.81 90.07,52.66 90.17,52.51 90.26,52.37 90.36,52.22 90.46,52.07 90.56,51.93 90.66,51.78 90.76,51.63 90.87,51.49 90.97,51.34 91.07,51.20 91.17,51.06 91.27,50.91 91.38,50.77 91.48,50.63 91.59,50.49 91.69,50.34 91.80,50.20 91.90,50.06 92.01,49.92 92.11,49.78 92.22,49.64 92.33,49.51 92.44,49.37 92.55,49.23 92.66,49.09 92.76,48.96 92.88,48.82 92.99,48.68 93.10,48.55 93.21,48.41 93.32,48.28 93.43,48.15 93.55,48.01 93.66,47.88 93.77,47.75 93.89,47.62 94.00,47.49 94.12,47.35 94.23,47.22 94.35,47.09 94.47,46.97 94.59,46.84 94.70,46.71 94.82,46.58 94.94,46.46 95.06,46.33 95.18,46.20 95.30,46.08 95.43,45.95 95.55,45.83 95.67,45.71 95.79,45.58 95.92,45.46 96.04,45.34 96.17,45.22 96.29,45.10 96.42,44.98 96.55,44.86 96.67,44.74 96.80,44.62 96.93,44.50 97.06,44.38 97.19,44.27 97.32,44.15 97.45,44.04 97.58,43.92 97.71,43.81 97.85,43.69 97.98,43.58 98.11,43.47 98.25,43.36 98.38,43.25 98.52,43.14 98.66,43.03 98.79,42.92 98.93,42.81 99.07,42.70 99.21,42.59 99.35,42.49 99.49,42.38 99.63,42.28 99.77,42.17 99.92,42.07 100.06,41.97 100.20,41.86 100.35,41.76 100.49,41.66 100.64,41.56 100.78,41.46 100.93,41.36 101.08,41.26 101.23,41.16 101.38,41.07 101.53,40.97 101.68,40.87 101.83,40.78 101.98,40.68 102.13,40.59 102.28,40.50 102.44,40.40 102.59,40.31 102.75,40.22 102.90,40.13 103.06,40.04 103.21,39.95 103.37,39.86 103.53,39.77 103.69,39.68 103.85,39.60 104.01,39.51 104.17,39.42 104.33,39.34 104.49,39.25 104.65,39.17 104.81,39.09 104.98,39.00 105.14,38.92 105.30,38.84 105.47,38.76 105.64,38.68 105.80,38.60 105.97,38.52 106.14,38.44 106.30,38.36 106.47,38.28 106.64,38.20 106.81,38.13 106.98,38.05 107.15,37.98 107.32,37.90 107.49,37.83 107.67,37.75 107.84,37.68 108.01,37.61 108.19,37.53 108.36,37.46 108.54,37.39 108.71,37.32 108.89,37.25 109.07,37.18 109.24,37.11 109.42,37.04 109.60,36.98 109.78,36.91 109.96,36.84 110.14,36.78 110.32,36.71 110.50,36.64 110.68,36.58 110.86,36.51 111.04,36.45 111.23,36.39 111.41,36.32 111.59,36.26 111.78,36.20 111.96,36.14 112.15,36.08 112.34,36.02 112.52,35.96 112.71,35.90 112.90,35.84 113.08,35.78 113.27,35.72 113.46,35.67 113.65,35.61 113.84,35.55 114.03,35.50 114.22,35.44 114.41,35.39 114.60,35.33 114.80,35.28 114.99,35.22 115.18,35.17 115.38,35.12 115.57,35.07 115.76,35.01 115.96,34.96 116.15,34.91 116.35,34.86 116.55,34.81 116.74,34.76 116.94,34.71 117.14,34.66 117.33,34.61 117.53,34.57 117.73,34.52 117.93,34.47 118.13,34.43 118.33,34.38 118.53,34.33 118.73,34.29 118.93,34.24 119.13,34.20 119.34,34.15 119.54,34.11 119.74,34.07 119.94,34.02 120.15,33.98 120.35,33.94 120.56,33.90 120.76,33.86 120.97,33.81 121.17,33.77 121.38,33.73 121.58,33.69 121.79,33.65 122.00,33.61 122.21,33.58 122.41,33.54 122.62,33.50 122.83,33.46 123.04,33.42 123.25,33.39 123.46,33.35 123.67,33.31 123.88,33.28 124.09,33.24 124.30,33.21 124.51,33.17 124.72,33.14 124.94,33.10 125.15,33.07 125.36,33.04 125.57,33.00 125.79,32.97 126.00,32.94 126.22,32.91 126.43,32.87 126.64,32.84 126.86,32.81 127.08,32.78 127.29,32.75 127.51,32.72 127.72,32.69 127.94,32.66 128.16,32.63 128.37,32.60 128.59,32.57 128.81,32.54 129.03,32.52 129.25,32.49 129.46,32.46 129.68,32.43 129.90,32.41 130.12,32.38 130.34,32.35 130.56,32.33 130.78,32.30 131.00,32.28 131.22,32.25 131.45,32.22 131.67,32.20 131.89,32.18 132.11,32.15 132.33,32.13 132.56,32.10 132.78,32.08 133.00,32.06 133.22,32.03 133.45,32.01 133.67,31.99 133.90,31.97 134.12,31.94 134.34,31.92 134.57,31.90 134.79,31.88 135.02,31.86 135.24,31.84 135.47,31.82 135.70,31.80 135.92,31.78 136.15,31.76 136.37,31.74 136.60,31.72 136.83,31.70 137.06,31.68 137.28,31.66 137.51,31.64 137.74,31.62 137.97,31.60 138.19,31.59 138.42,31.57 138.65,31.55 138.88,31.53 139.11,31.51 139.34,31.50 139.57,31.48 139.80,31.46 140.03,31.45 140.26,31.43 140.49,31.41 140.72,31.40 140.95,31.38 141.18,31.37 141.41,31.35 141.64,31.34 141.87,31.32 142.10,31.30 142.33,31.29 142.56,31.28 142.79,31.26 143.03,31.25 143.26,31.23 143.49,31.22 143.72,31.20 143.95,31.19 144.19,31.18 144.42,31.16 144.65,31.15 144.89,31.13 145.12,31.12 145.35,31.11 145.58,31.09 145.82,31.08 146.05,31.07 146.28,31.06 146.52,31.04 146.75,31.03 146.99,31.02 147.22,31.01 147.45,30.99 147.69,30.98 147.92,30.97 148.16,30.96 148.39,30.95 148.63,30.93 148.86,30.92 149.09,30.91 149.33,30.90 149.56,30.89 149.80,30.88 150.03,30.87 150.27,30.85 150.50,30.84 150.74,30.83 150.98,30.82 151.21,30.81" fill="none" stroke="#22dd22" stroke-width="1.6" stroke-linejoin="round"/>
<polyline points="48.55,150.25 48.79,150.26 49.02,150.26 49.25,150.27 49.48,150.26 49.70,150.26 49.92,150.25 50.14,150.24 50.35,150.22 50.56,150.21 50.77,150.18 50.97,150.16 51.17,150.13 51.37,150.10 51.56,150.06 51.75,150.02 51.93,149.98 52.12,149.94 52.30,149.89 52.48,149.84 52.65,149.79 52.82,149.73 52.99,149.67 53.16,149.61 53.32,149.54 53.48,149.47 53.64,149.40 53.79,149.33 53.94,149.25 54.09,149.17 54.24,149.09 54.38,149.00 54.52,148.92 54.66,148.83 54.79,148.73 54.93,148.64 55.06,148.54 55.19,148.44 55.31,148.34 55.44,148.23 55.56,148.13 55.68,148.02 55.79,147.91 55.91,147.79 56.02,147.67 56.13,147.56 56.24,147.44 56.34,147.31 56.44,147.19 56.55,147.06 56.64,146.93 56.74,146.80 56.84,146.67 56.93,146.53 57.02,146.40 57.11,146.26 57.20,146.12 57.29,145.98 57.37,145.83 57.45,145.69 57.53,145.54 57.61,145.39 57.69,145.24 57.77,145.09 57.84,144.93 57.91,144.78 57.99,144.62 58.06,144.46 58.12,144.30 58.19,144.14 58.26,143.98 58.32,143.82 58.38,143.65 58.45,143.48 58.51,143.32 58.57,143.15 58.63,142.98 58.68,142.81 58.74,142.64 58.79,142.46 58.85,142.29 58.90,142.11 58.95,141.94 59.01,141.76 59.06,141.58 59.11,141.40 59.15,141.22 59.20,141.04 59.25,140.86 59.30,140.68 59.34,140.50 59.39,140.32 59.43,140.13 59.48,139.95 59.52,139.76 59.56,139.58 59.60,139.39 59.65,139.21 59.69,139.02 59.73,138.83 59.77,138.64 59.81,138.45 59.85,138.26 59.88,138.07 59.92,137.88 59.96,137.69 59.99,137.50 60.03,137.31 60.07,137.12 60.10,136.92 60.14,136.73 60.17,136.53 60.20,136.34 60.24,136.14 60.27,135.95 60.30,135.75 60.33,135.56 60.37,135.36 60.40,135.16 60.43,134.97 60.46,134.77 60.49,134.57 60.52,134.37 60.55,134.17 60.58,133.97 60.60,133.77 60.63,133.57 60.66,133.37 60.69,133.17 60.71,132.97 60.74,132.77 60.77,132.57 60.79,132.36 60.82,132.16 60.84,131.96 60.87,131.76 60.90,131.55 60.92,131.35 60.94,131.15 60.97,130.94 60.99,130.74 61.02,130.53 61.04,130.33 61.06,130.12 61.09,129.92 61.11,129.71 61.13,129.51 61.16,129.30 61.18,129.10 61.20,128.89 61.22,128.69 61.25,128.48 61.27,128.27 61.29,128.07 61.31,127.86 61.33,127.65 61.35,127.45 61.38,127.24 61.40,127.03 61.42,126.83 61.44,126.62 61.46,126.41 61.48,126.20 61.50,126.00 61.52,125.79 61.54,125.58 61.57,125.38 61.59,125.17 61.61,124.96 61.63,124.75 61.65,124.55 61.67,124.34 61.69,124.13 61.71,123.93 61.74,123.72 61.76,123.51 61.78,123.31 61.80,123.10 61.82,122.89 61.84,122.69 61.86,122.48 61.89,122.27 61.91,122.07 61.93,121.86 61.95,121.65 61.98,121.45 62.00,121.24 62.02,121.04 62.04,120.83 62.07,120.63 62.09,120.42 62.11,120.22 62.14,120.01 62.16,119.81 62.18,119.60 62.21,119.40 62.23,119.20 62.26,118.99 62.28,118.79 62.31,118.59 62.33,118.38 62.36,118.18 62.39,117.98 62.41,117.78 62.44,117.57 62.46,117.37 62.49,117.17 62.52,116.97 62.54,116.77 62.57,116.57 62.60,116.37 62.63,116.17 62.65,115.97 62.68,115.76 62.71,115.56 62.74,115.36 62.77,115.17 62.80,114.97 62.83,114.77 62.85,114.57 62.88,114.37 62.91,114.17 62.94,113.97 62.97,113.77 63.00,113.57 63.03,113.38 63.06,113.18 63.09,112.98 63.12,112.78 63.16,112.59 63.19,112.39 63.22,112.19 63.25,111.99 63.28,111.80 63.31,111.60 63.34,111.40 63.38,111.21 63.41,111.01 63.44,110.82 63.47,110.62 63.51,110.42 63.54,110.23 63.57,110.03 63.60,109.84 63.64,109.64 63.67,109.45 63.70,109.25 63.74,109.06 63.77,108.86 63.81,108.67 63.84,108.48 63.87,108.28 63.91,108.09 63.94,107.89 63.98,107.70 64.01,107.51 64.05,107.31 64.08,107.12 64.12,106.93 64.15,106.73 64.19,106.54 64.22,106.35 64.26,106.16 64.29,105.96 64.33,105.77 64.37,105.58 64.40,105.39 64.44,105.19 64.47,105.00 64.51,104.81 64.55,104.62 64.58,104.43 64.62,104.23 64.66,104.04 64.69,103.85 64.73,103.66 64.77,103.47 64.80,103.28 64.84,103.09 64.88,102.90 64.92,102.71 64.95,102.52 64.99,102.32 65.03,102.13 65.07,101.94 65.11,101.75 65.14,101.56 65.18,101.37 65.22,101.18 65.26,100.99 65.30,100.80 65.34,100.61 65.37,100.42 65.41,100.23 65.45,100.04 65.49,99.85 65.53,99.67 65.57,99.48 65.61,99.29 65.65,99.10 65.68,98.91 65.72,98.72 65.76,98.53 65.80,98.34 65.84,98.15 65.88,97.96 65.92,97.77 65.96,97.59 66.00,97.40 66.04,97.21 66.08,97.02 66.12,96.83 66.16,96.64 66.20,96.45 66.24,96.27 66.28,96.08 66.32,95.89 66.36,95.70 66.40,95.51 66.44,95.32 66.48,95.14 66.52,94.95 66.56,94.76 66.60,94.57 66.64,94.38 66.68,94.20 66.72,94.01 66.76,93.82 66.80,93.63 66.84,93.44 66.88,93.26 66.92,93.07 66.96,92.88 67.00,92.69 67.04,92.51 67.08,92.32 67.12,92.13 67.16,91.94 67.20,91.76 67.25,91.57 67.29,91.38 67.33,91.19 67.37,91.00 67.41,90.82 67.45,90.63 67.49,90.44 67.53,90.25 67.57,90.07 67.61,89.88 67.65,89.69 67.69,89.50 67.73,89.32 67.77,89.13 67.81,88.94 67.85,88.75 67.89,88.56 67.94,88.38 67.98,88.19 68.02,88.00 68.06,87.81 68.10,87.63 68.14,87.44 68.18,87.25 68.22,87.06 68.26,86.87 68.30,86.69 68.34,86.50 68.38,86.31 68.42,86.12 68.46,85.93 68.50,85.75 68.54,85.56 68.58,85.37 68.62,85.18 68.66,84.99 68.70,84.81 68.74,84.62 68.78,84.43 68.82,84.24 68.86,84.05 68.90,83.86 68.94,83.68 68.98,83.49 69.02,83.30 69.06,83.11 69.10,82.92 69.14,82.73 69.18,82.54 69.22,82.35 69.26,82.17 69.30,81.98 69.33,81.79 69.37,81.60 69.41,81.41 69.45,81.22 69.49,81.03 69.53,80.84 69.57,80.65 69.61,80.46 69.65,80.27 69.68,80.08 69.72,79.89 69.76,79.70 69.80,79.51 69.84,79.32 69.88,79.13 69.91,78.94 69.95,78.75 69.99,78.56 70.03,78.37 70.07,78.18 70.10,77.99 70.14,77.80 70.18,77.61 70.22,77.42 70.26,77.23 70.29,77.04 70.33,76.85 70.37,76.66 70.41,76.47 70.44,76.28 70.48,76.09 70.52,75.90 70.56,75.71 70.60,75.52 70.63,75.33 70.67,75.14 70.71,74.94 70.75,74.75 70.78,74.56 70.82,74.37 70.86,74.18 70.90,73.99 70.94,73.80 70.98,73.61 71.01,73.42 71.05,73.23 71.09,73.04 71.13,72.85 71.17,72.66 71.21,72.47 71.24,72.28 71.28,72.09 71.32,71.91 71.36,71.72 71.40,71.53 71.44,71.34 71.48,71.15 71.52,70.96 71.56,70.77 71.60,70.58 71.64,70.39 71.68,70.20 71.72,70.02 71.75,69.83 71.80,69.64 71.84,69.45 71.88,69.26 71.92,69.08 71.96,68.89 72.00,68.70 72.04,68.51 72.08,68.33 72.12,68.14 72.16,67.95 72.20,67.77 72.25,67.58 72.29,67.39 72.33,67.21 72.37,67.02 72.41,66.84 72.46,66.65 72.50,66.46 72.54,66.28 72.59,66.09 72.63,65.91 72.67,65.73 72.72,65.54 72.76,65.36 72.81,65.17 72.85,64.99 72.90,64.81 72.94,64.62 72.99,64.44 73.03,64.26 73.08,64.07 73.12,63.89 73.17,63.71 73.22,63.53 73.26,63.35 73.31,63.17 73.36,62.98 73.40,62.80 73.45,62.62 73.50,62.44 73.55,62.26 73.60,62.08 73.65,61.90 73.70,61.73 73.74,61.55 73.79,61.37 73.84,61.19 73.90,61.01 73.95,60.83 74.00,60.66 74.05,60.48 74.10,60.30 74.15,60.13 74.20,59.95 74.26,59.78 74.31,59.60 74.36,59.43 74.42,59.25 74.47,59.08 74.53,58.90 74.58,58.73 74.64,58.56 74.69,58.38 74.75,58.21 74.80,58.04 74.86,57.87 74.92,57.70 74.97,57.53 75.03,57.35 75.09,57.18 75.15,57.02 75.21,56.85 75.27,56.68 75.33,56.51 75.39,56.34 75.45,56.17 75.51,56.01 75.57,55.84 75.63,55.67 75.69,55.51 75.76,55.34 75.82,55.17 75.88,55.01 75.95,54.85 76.01,54.68 76.08,54.52 76.14,54.36 76.21,54.19 76.27,54.03 76.34,53.87 76.41,53.71 76.47,53.55 76.54,53.39 76.61,53.23 76.68,53.07 76.75,52.91 76.82,52.75 76.89,52.59 76.96,52.44 77.03,52.28 77.10,52.12 77.18,51.97 77.25,51.81 77.32,51.66 77.40,51.50 77.47,51.35 77.55,51.20 77.62,51.04 77.70,50.89 77.78,50.74 77.85,50.59 77.93,50.44 78.01,50.29 78.09,50.14 78.17,49.99 78.25,49.84 78.33,49.70 78.41,49.55 78.49,49.40 78.57,49.26 78.66,49.11 78.74,48.97 78.82,48.82 78.91,48.68 78.99,48.54 79.08,48.39 79.17,48.25 79.25,48.11 79.34,47.97 79.43,47.83 79.52,47.69 79.61,47.55 79.70,47.41 79.79,47.28 79.88,47.14 79.97,47.00 80.07,46.87 80.16,46.73 80.25,46.60 80.35,46.46 80.44,46.33 80.54,46.20 80.63,46.07 80.73,45.94 80.83,45.81 80.93,45.68 81.03,45.55 81.13,45.42 81.23,45.29 81.33,45.16 81.43,45.04 81.53,44.91 81.64,44.79 81.74,44.66 81.85,44.54 81.95,44.42 82.06,44.30 82.17,44.17 82.27,44.05 82.38,43.93 82.49,43.82 82.60,43.70 82.71,43.58 82.82,43.46 82.93,43.35 83.05,43.23 83.16,43.12 83.27,43.00 83.39,42.89 83.50,42.77 83.62,42.66 83.74,42.55 83.86,42.44 83.97,42.33 84.09,42.22 84.21,42.11 84.33,42.00 84.45,41.90 84.57,41.79 84.70,41.68 84.82,41.58 84.94,41.47 85.07,41.37 85.19,41.27 85.32,41.16 85.44,41.06 85.57,40.96 85.70,40.86 85.82,40.76 85.95,40.66 86.08,40.56 86.21,40.46 86.34,40.36 86.47,40.27 86.61,40.17 86.74,40.07 86.87,39.98 87.01,39.88 87.14,39.79 87.27,39.70 87.41,39.60 87.55,39.51 87.68,39.42 87.82,39.33 87.96,39.24 88.10,39.15 88.24,39.06 88.38,38.97 88.52,38.89 88.66,38.80 88.80,38.71 88.94,38.63 89.09,38.54 89.23,38.46 89.37,38.37 89.52,38.29 89.66,38.21 89.81,38.12 89.96,38.04 90.10,37.96 90.25,37.88 90.40,37.80 90.55,37.72 90.70,37.64 90.85,37.56 91.00,37.48 91.15,37.41 91.30,37.33 91.45,37.25 91.60,37.18 91.76,37.10 91.91,37.03 92.07,36.96 92.22,36.88 92.38,36.81 92.53,36.74 92.69,36.67 92.85,36.59 93.00,36.52 93.16,36.45 93.32,36.38 93.48,36.32 93.64,36.25 93.80,36.18 93.96,36.11 94.12,36.05 94.28,35.98 94.45,35.91 94.61,35.85 94.77,35.78 94.94,35.72 95.10,35.66 95.27,35.59 95.43,35.53 95.60,35.47 95.77,35.41 95.93,35.34 96.10,35.28 96.27,35.22 96.44,35.16 96.61,35.10 96.78,35.05 96.95,34.99 97.12,34.93 97.29,34.87 97.46,34.82 97.63,34.76 97.80,34.70 97.98,34.65 98.15,34.59 98.32,34.54 98.50,34.49 98.67,34.43 98.85,34.38 99.02,34.33 99.20,34.28 99.38,34.22 99.55,34.17 99.73,34.12 99.91,34.07 100.09,34.02 100.27,33.97 100.45,33.92 100.63,33.88 100.81,33.83 100.99,33.78 101.17,33.73 101.35,33.69 101.53,33.64 101.72,33.60 101.90,33.55 102.08,33.51 102.27,33.46 102.45,33.42 102.64,33.37 102.82,33.33 103.01,33.29 103.19,33.24 103.38,33.20 103.56,33.16 103.75,33.12 103.94,33.08 104.13,33.04 104.32,33.00 104.50,32.96 104.69,32.92 104.88,32.88 105.07,32.84 105.26,32.81 105.45,32.77 105.65,32.73 105.84,32.70 106.03,32.66 106.22,32.62 106.41,32.59 106.61,32.55 106.80,32.52 107.00,32.48 107.19,32.45 107.38,32.42 107.58,32.38 107.77,32.35 107.97,32.32 108.17,32.28 108.36,32.25 108.56,32.22 108.76,32.19 108.95,32.16 109.15,32.13 109.35,32.10 109.55,32.07 109.75,32.04 109.95,32.01 110.15,31.98 110.35,31.95 110.55,31.93 110.75,31.90 110.95,31.87 111.15,31.84 111.35,31.82 111.55,31.79 111.76,31.77 111.96,31.74 112.16,31.71 112.36,31.69 112.57,31.66 112.77,31.64 112.98,31.62 113.18,31.59 113.38,31.57 113.59,31.55 113.80,31.52 114.00,31.50 114.21,31.48 114.41,31.46 114.62,31.43 114.83,31.41 115.03,31.39 115.24,31.37 115.45,31.35 115.66,31.33 115.87,31.31 116.07,31.29 116.28,31.27 116.49,31.25 116.70,31.23 116.91,31.22 117.12,31.20 117.33,31.18 117.54,31.16 117.75,31.14 117.96,31.13 118.18,31.11 118.39,31.09 118.60,31.08 118.81,31.06 119.02,31.04 119.24,31.03 119.45,31.01 119.66,31.00 119.88,30.98 120.09,30.97 120.30,30.95 120.52,30.94 120.73,30.93 120.95,30.91 121.16,30.90 121.38,30.89 121.59,30.87 121.81,30.86 122.02,30.85 122.24,30.83 122.45,30.82 122.67,30.81 122.89,30.80 123.10,30.79 123.32,30.78 123.54,30.76 123.75,30.75 123.97,30.74 124.19,30.73 124.41,30.72 124.63,30.71 124.84,30.70 125.06,30.69 125.28,30.68 125.50,30.67 125.72,30.66 125.94,30.66 126.16,30.65 126.38,30.64 126.60,30.63 126.82,30.62 127.04,30.61 127.26,30.61 127.48,30.60 127.70,30.59 127.92,30.58 128.14,30.58 128.36,30.57 128.58,30.56 128.81,30.56 129.03,30.55 129.25,30.54 129.47,30.54 129.69,30.53 129.92,30.52 130.14,30.52 130.36,30.51 130.58,30.51 130.81,30.50 131.03,30.50 131.25,30.49 131.48,30.49 131.70,30.48 131.92,30.48 132.15,30.47 132.37,30.47 132.59,30.46 132.82,30.46 133.04,30.45 133.27,30.45 133.49,30.45 133.71,30.44 133.94,30.44" fill="none" stroke="#f01818" stroke-width="1.6" stroke-linejoin="round"/>
<polyline points="48.00,147.60 48.28,147.60 48.55,147.60 48.82,147.60 49.08,147.60 49.34,147.60 49.60,147.60 49.86,147.60 50.11,147.59 50.36,147.59 50.60,147.59 50.85,147.59 51.09,147.59 51.32,147.58 51.56,147.58 51.79,147.58 52.02,147.58 52.24,147.57 52.47,147.57 52.69,147.56 52.90,147.56 53.12,147.56 53.33,147.55 53.54,147.55 53.75,147.54 53.95,147.53 54.15,147.53 54.35,147.52 54.55,147.52 54.74,147.51 54.94,147.50 55.13,147.49 55.33,147.47 55.53,147.43 55.73,147.37 55.92,147.31 56.11,147.24 56.29,147.16 56.45,147.08 56.59,146.99 56.71,146.89 56.80,146.80 56.87,146.70 56.94,146.58 57.01,146.45 57.07,146.30 57.13,146.14 57.18,145.97 57.23,145.78 57.28,145.59 57.33,145.39 57.37,145.18 57.41,144.97 57.45,144.76 57.49,144.54 57.52,144.31 57.56,144.09 57.59,143.87 57.62,143.65 57.65,143.44 57.67,143.23 57.70,143.02 57.72,142.82 57.75,142.62 57.77,142.41 57.79,142.20 57.81,142.00 57.84,141.79 57.86,141.58 57.88,141.37 57.90,141.15 57.92,140.94 57.94,140.72 57.95,140.51 57.97,140.29 57.99,140.07 58.01,139.86 58.02,139.64 58.04,139.42 58.05,139.20 58.07,138.97 58.08,138.75 58.10,138.53 58.11,138.31 58.13,138.09 58.14,137.86 58.15,137.64 58.17,137.42 58.18,137.19 58.19,136.97 58.20,136.75 58.22,136.52 58.23,136.30 58.24,136.08 58.25,135.85 58.27,135.63 58.28,135.41 58.29,135.19 58.30,134.97 58.31,134.75 58.33,134.52 58.34,134.30 58.35,134.08 58.36,133.86 58.37,133.64 58.38,133.41 58.39,133.19 58.40,132.97 58.41,132.75 58.42,132.52 58.43,132.30 58.44,132.07 58.45,131.85 58.46,131.63 58.47,131.40 58.48,131.18 58.49,130.95 58.50,130.73 58.51,130.50 58.52,130.28 58.53,130.06 58.54,129.83 58.55,129.60 58.56,129.38 58.56,129.15 58.57,128.93 58.58,128.70 58.59,128.48 58.60,128.25 58.61,128.03 58.61,127.80 58.62,127.57 58.63,127.35 58.64,127.12 58.65,126.90 58.66,126.67 58.66,126.44 58.67,126.22 58.68,125.99 58.69,125.76 58.70,125.54 58.70,125.31 58.71,125.08 58.72,124.86 58.73,124.63 58.74,124.41 58.74,124.18 58.75,123.95 58.76,123.73 58.77,123.50 58.78,123.27 58.78,123.05 58.79,122.82 58.80,122.60 58.81,122.37 58.82,122.14 58.83,121.92 58.83,121.69 58.84,121.47 58.85,121.24 58.86,121.01 58.87,120.79 58.88,120.56 58.89,120.34 58.90,120.11 58.90,119.89 58.91,119.66 58.92,119.44 58.93,119.21 58.94,118.99 58.95,118.76 58.96,118.54 58.97,118.31 58.98,118.09 58.99,117.86 59.00,117.64 59.00,117.41 59.01,117.19 59.02,116.96 59.03,116.74 59.04,116.51 59.05,116.29 59.06,116.06 59.07,115.84 59.08,115.61 59.09,115.39 59.10,115.16 59.10,114.94 59.11,114.71 59.12,114.49 59.13,114.27 59.14,114.04 59.15,113.82 59.16,113.59 59.17,113.37 59.18,113.14 59.19,112.92 59.20,112.69 59.21,112.47 59.22,112.24 59.22,112.02 59.23,111.79 59.24,111.57 59.25,111.34 59.26,111.12 59.27,110.89 59.28,110.67 59.29,110.44 59.30,110.22 59.31,109.99 59.32,109.77 59.33,109.54 59.33,109.32 59.34,109.09 59.35,108.87 59.36,108.64 59.37,108.42 59.38,108.19 59.39,107.97 59.40,107.74 59.41,107.52 59.42,107.29 59.43,107.07 59.43,106.84 59.44,106.62 59.45,106.39 59.46,106.17 59.47,105.94 59.48,105.72 59.49,105.49 59.50,105.27 59.51,105.04 59.51,104.82 59.52,104.59 59.53,104.37 59.54,104.14 59.55,103.92 59.56,103.69 59.57,103.47 59.58,103.24 59.59,103.02 59.59,102.79 59.60,102.57 59.61,102.34 59.62,102.11 59.63,101.89 59.64,101.66 59.65,101.44 59.65,101.21 59.66,100.99 59.67,100.76 59.68,100.54 59.69,100.31 59.70,100.09 59.71,99.86 59.71,99.63 59.72,99.41 59.73,99.18 59.74,98.96 59.75,98.73 59.76,98.51 59.76,98.28 59.77,98.05 59.78,97.83 59.79,97.60 59.80,97.38 59.80,97.15 59.81,96.93 59.82,96.70 59.83,96.47 59.84,96.25 59.85,96.02 59.85,95.80 59.86,95.57 59.87,95.34 59.88,95.12 59.89,94.89 59.89,94.67 59.90,94.44 59.91,94.21 59.92,93.99 59.93,93.76 59.93,93.53 59.94,93.31 59.95,93.08 59.96,92.86 59.96,92.63 59.97,92.40 59.98,92.18 59.99,91.95 60.00,91.73 60.00,91.50 60.01,91.27 60.02,91.05 60.03,90.82 60.04,90.59 60.04,90.37 60.05,90.14 60.06,89.92 60.07,89.69 60.07,89.46 60.08,89.24 60.09,89.01 60.10,88.78 60.11,88.56 60.11,88.33 60.12,88.11 60.13,87.88 60.14,87.65 60.14,87.43 60.15,87.20 60.16,86.97 60.17,86.75 60.18,86.52 60.18,86.30 60.19,86.07 60.20,85.84 60.21,85.62 60.21,85.39 60.22,85.16 60.23,84.94 60.24,84.71 60.24,84.48 60.25,84.26 60.26,84.03 60.27,83.81 60.28,83.58 60.28,83.35 60.29,83.13 60.30,82.90 60.31,82.67 60.31,82.45 60.32,82.22 60.33,82.00 60.34,81.77 60.35,81.54 60.35,81.32 60.36,81.09 60.37,80.87 60.38,80.64 60.39,80.41 60.39,80.19 60.40,79.96 60.41,79.73 60.42,79.51 60.43,79.28 60.43,79.06 60.44,78.83 60.45,78.60 60.46,78.38 60.46,78.15 60.47,77.92 60.48,77.70 60.49,77.47 60.49,77.25 60.50,77.02 60.51,76.79 60.52,76.57 60.53,76.34 60.53,76.11 60.54,75.89 60.55,75.66 60.56,75.43 60.56,75.21 60.57,74.98 60.58,74.75 60.59,74.53 60.59,74.30 60.60,74.07 60.61,73.85 60.62,73.62 60.62,73.39 60.63,73.17 60.64,72.94 60.65,72.71 60.65,72.49 60.66,72.26 60.67,72.03 60.68,71.81 60.68,71.58 60.69,71.36 60.70,71.13 60.71,70.90 60.71,70.68 60.72,70.45 60.73,70.22 60.74,70.00 60.74,69.77 60.75,69.54 60.76,69.32 60.77,69.09 60.78,68.86 60.78,68.64 60.79,68.41 60.80,68.19 60.81,67.96 60.81,67.73 60.82,67.51 60.83,67.28 60.84,67.05 60.85,66.83 60.85,66.60 60.86,66.38 60.87,66.15 60.88,65.92 60.89,65.70 60.89,65.47 60.90,65.25 60.91,65.02 60.92,64.79 60.93,64.57 60.93,64.34 60.94,64.12 60.95,63.89 60.96,63.67 60.97,63.44 60.98,63.21 60.98,62.99 60.99,62.76 61.00,62.54 61.01,62.31 61.02,62.09 61.03,61.86 61.04,61.64 61.04,61.41 61.05,61.19 61.06,60.96 61.07,60.74 61.08,60.51 61.09,60.29 61.10,60.06 61.11,59.84 61.12,59.61 61.12,59.39 61.13,59.16 61.14,58.94 61.15,58.71 61.16,58.49 61.17,58.26 61.18,58.04 61.19,57.81 61.20,57.59 61.21,57.36 61.22,57.14 61.22,56.91 61.23,56.69 61.24,56.46 61.25,56.24 61.26,56.01 61.27,55.78 61.28,55.56 61.29,55.33 61.30,55.11 61.31,54.88 61.32,54.66 61.33,54.43 61.34,54.21 61.35,53.99 61.36,53.76 61.37,53.54 61.37,53.31 61.38,53.09 61.39,52.86 61.40,52.64 61.41,52.41 61.42,52.19 61.43,51.96 61.44,51.74 61.46,51.52 61.47,51.29 61.48,51.07 61.49,50.84 61.50,50.62 61.51,50.40 61.52,50.17 61.53,49.95 61.54,49.73 61.55,49.50 61.56,49.28 61.57,49.06 61.58,48.84 61.60,48.61 61.61,48.39 61.62,48.17 61.63,47.95 61.64,47.73 61.66,47.50 61.67,47.28 61.68,47.06 61.69,46.84 61.70,46.62 61.72,46.40 61.73,46.18 61.74,45.96 61.76,45.74 61.77,45.52 61.78,45.30 61.80,45.08 61.81,44.86 61.82,44.64 61.84,44.42 61.85,44.20 61.86,43.98 61.88,43.76 61.89,43.54 61.91,43.32 61.92,43.10 61.94,42.88 61.95,42.66 61.97,42.44 61.98,42.22 62.00,42.00 62.01,41.78 62.03,41.56 62.04,41.34 62.06,41.12 62.08,40.90 62.09,40.68 62.11,40.46 62.13,40.25 62.15,40.03 62.16,39.81 62.18,39.59 62.20,39.38 62.22,39.16 62.24,38.94 62.26,38.73 62.28,38.51 62.30,38.30 62.32,38.09 62.34,37.87 62.36,37.66 62.38,37.45 62.40,37.24 62.42,37.03 62.45,36.82 62.47,36.61 62.49,36.40 62.52,36.19 62.54,35.99 62.57,35.78 62.59,35.57 62.62,35.37 62.64,35.17 62.67,34.96 62.70,34.76 62.73,34.55 62.76,34.35 62.79,34.15 62.82,33.95 62.86,33.74 62.89,33.54 62.92,33.34 62.96,33.14 63.00,32.94 63.04,32.74 63.07,32.55 63.11,32.35 63.15,32.15 63.19,31.96 63.24,31.76 63.28,31.57 63.32,31.38 63.37,31.18 63.41,30.99 63.46,30.81 63.50,30.62 63.55,30.43 63.60,30.25 63.64,30.06 63.69,29.88 63.74,29.70 63.79,29.52 63.84,29.35 63.90,29.17 63.95,28.99 64.01,28.81 64.06,28.63 64.12,28.45 64.18,28.28 64.24,28.10 64.31,27.93 64.37,27.75 64.44,27.58 64.51,27.41 64.58,27.24 64.65,27.07 64.72,26.91 64.80,26.75 64.87,26.59 64.95,26.43 65.03,26.28 65.11,26.13 65.19,25.98 65.28,25.84 65.37,25.70 65.46,25.56 65.55,25.43 65.64,25.30 65.74,25.17 65.85,25.04 65.95,24.90 66.07,24.77 66.18,24.65 66.30,24.52 66.42,24.40 66.55,24.29 66.68,24.18 66.82,24.08 66.96,23.98 67.10,23.89 67.24,23.81 67.39,23.74 67.54,23.68 67.70,23.63 67.87,23.57 68.05,23.52 68.24,23.47 68.43,23.42 68.63,23.38 68.84,23.34 69.04,23.30 69.25,23.27 69.46,23.24 69.68,23.22 69.89,23.21 70.10,23.20 70.31,23.19 70.53,23.18 70.74,23.17 70.97,23.16 71.19,23.16 71.42,23.15 71.64,23.14 71.87,23.14 72.11,23.13 72.34,23.13 72.57,23.12 72.81,23.12 73.04,23.12 73.28,23.11 73.52,23.11 73.75,23.11 73.99,23.10 74.22,23.10 74.46,23.10 74.69,23.10 74.92,23.10 75.15,23.10 75.39,23.10 75.62,23.10 75.85,23.10 76.08,23.10 76.31,23.10 76.54,23.10 76.77,23.10 77.00,23.10 77.23,23.10 77.47,23.10 77.70,23.10 77.93,23.10 78.16,23.10 78.39,23.10 78.62,23.10 78.85,23.10 79.09,23.10 79.32,23.10 79.55,23.10 79.78,23.10 80.01,23.10 80.24,23.10 80.47,23.10 80.70,23.10 80.94,23.10 81.17,23.10 81.40,23.10 81.63,23.10 81.86,23.10 82.09,23.10 82.33,23.10 82.56,23.10 82.79,23.10 83.02,23.10 83.25,23.10 83.48,23.10 83.72,23.10 83.95,23.10 84.18,23.10 84.41,23.10 84.64,23.10 84.87,23.10 85.11,23.10 85.34,23.10 85.57,23.10 85.80,23.10 86.03,23.10 86.26,23.10 86.50,23.10 86.73,23.10 86.96,23.10 87.19,23.10 87.42,23.10 87.66,23.10 87.89,23.10 88.12,23.10 88.35,23.10 88.58,23.10 88.82,23.10 89.05,23.10 89.28,23.10 89.51,23.10 89.74,23.10 89.98,23.10 90.21,23.10 90.44,23.10 90.67,23.10 90.91,23.10 91.14,23.10 91.37,23.10 91.60,23.10 91.84,23.10 92.07,23.10 92.30,23.10 92.53,23.10 92.77,23.10 93.00,23.10 93.23,23.10 93.46,23.10 93.70,23.10 93.93,23.10 94.16,23.10 94.39,23.10 94.63,23.10 94.86,23.10 95.09,23.10 95.32,23.10 95.56,23.10 95.79,23.10 96.02,23.10 96.25,23.10 96.49,23.10 96.72,23.10 96.95,23.10 97.19,23.10 97.42,23.10 97.65,23.10 97.89,23.10 98.12,23.10 98.35,23.10 98.58,23.10 98.82,23.10 99.05,23.10 99.28,23.10 99.52,23.10 99.75,23.10 99.98,23.10 100.22,23.10 100.45,23.10 100.68,23.10 100.92,23.10 101.15,23.10 101.38,23.10 101.62,23.10 101.85,23.10 102.08,23.10 102.32,23.10 102.55,23.10 102.78,23.10 103.02,23.10 103.25,23.10 103.48,23.10 103.72,23.10 103.95,23.10 104.19,23.10 104.42,23.10 104.65,23.10 104.89,23.10 105.12,23.10 105.35,23.10 105.59,23.10 105.82,23.10 106.06,23.10 106.29,23.10 106.52,23.10 106.76,23.10 106.99,23.10 107.23,23.10 107.46,23.10 107.69,23.10 107.93,23.10 108.16,23.10 108.40,23.10 108.63,23.10 108.87,23.10 109.10,23.10 109.33,23.10 109.57,23.10 109.80,23.10 110.04,23.10 110.27,23.10 110.51,23.10 110.74,23.10 110.98,23.10 111.21,23.10 111.44,23.10 111.68,23.10 111.91,23.10 112.15,23.10 112.38,23.10 112.62,23.10 112.85,23.10 113.09,23.10 113.32,23.10 113.56,23.10 113.79,23.10 114.03,23.10 114.26,23.10 114.50,23.10 114.73,23.10 114.97,23.10 115.20,23.10 115.44,23.10 115.67,23.10 115.91,23.10 116.14,23.10 116.38,23.10 116.62,23.10 116.85,23.10 117.09,23.10 117.32,23.10 117.56,23.10 117.79,23.10 118.03,23.10 118.26,23.10 118.50,23.10 118.74,23.10 118.97,23.10 119.21,23.10 119.44,23.10 119.68,23.10 119.91,23.10 120.15,23.10 120.39,23.10 120.62,23.10 120.86,23.10 121.09,23.10 121.33,23.10 121.57,23.10 121.80,23.10 122.04,23.10 122.28,23.10 122.51,23.10 122.75,23.10 122.98,23.10 123.22,23.10 123.46,23.10 123.69,23.10 123.93,23.10 124.17,23.10 124.40,23.10 124.64,23.10 124.88,23.10 125.11,23.10 125.35,23.10 125.59,23.10 125.82,23.10 126.06,23.10 126.30,23.10 126.53,23.10 126.77,23.10 127.01,23.10 127.25,23.10 127.48,23.10 127.72,23.10 127.96,23.10 128.19,23.10 128.43,23.10 128.67,23.10 128.91,23.10 129.14,23.10 129.38,23.10 129.62,23.10 129.86,23.10 130.09,23.10 130.33,23.10 130.57,23.10 130.81,23.10 131.04,23.10 131.28,23.10 131.52,23.10 131.76,23.10 132.00,23.10 132.23,23.10 132.47,23.10 132.71,23.10 132.95,23.10 133.19,23.10 133.42,23.10 133.66,23.10 133.90,23.10" fill="none" stroke="#000" stroke-width="1.5" stroke-linejoin="round"/>
<rect x="43.3" y="16.8" width="170.89999999999998" height="137.6" fill="none" stroke="#000" stroke-width="1.7"/>
<line x1="43.3" y1="148.40" x2="46.3" y2="148.40" stroke="#000" stroke-width="1.3"/>
<text x="23.72" y="151.43" font-size="8.40" font-weight="bold" fill="#000" transform="scale(1.1800,1)">0.0</text>
<line x1="43.3" y1="136.42" x2="46.3" y2="136.42" stroke="#000" stroke-width="1.3"/>
<text x="23.71" y="139.45" font-size="8.40" font-weight="bold" fill="#000" transform="scale(1.1800,1)">0.5</text>
<line x1="43.3" y1="124.44" x2="46.3" y2="124.44" stroke="#000" stroke-width="1.3"/>
<text x="23.72" y="127.47" font-size="8.40" font-weight="bold" fill="#000" transform="scale(1.1800,1)">1.0</text>
<line x1="43.3" y1="112.46" x2="46.3" y2="112.46" stroke="#000" stroke-width="1.3"/>
<text x="23.71" y="115.47" font-size="8.40" font-weight="bold" fill="#000" transform="scale(1.1800,1)">1.5</text>
<line x1="43.3" y1="100.48" x2="46.3" y2="100.48" stroke="#000" stroke-width="1.3"/>
<text x="23.72" y="103.51" font-size="8.40" font-weight="bold" fill="#000" transform="scale(1.1800,1)">2.0</text>
<line x1="43.3" y1="88.50" x2="46.3" y2="88.50" stroke="#000" stroke-width="1.3"/>
<text x="23.71" y="91.52" font-size="8.40" font-weight="bold" fill="#000" transform="scale(1.1800,1)">2.5</text>
<line x1="43.3" y1="76.52" x2="46.3" y2="76.52" stroke="#000" stroke-width="1.3"/>
<text x="23.72" y="79.55" font-size="8.40" font-weight="bold" fill="#000" transform="scale(1.1800,1)">3.0</text>
<line x1="43.3" y1="64.54" x2="46.3" y2="64.54" stroke="#000" stroke-width="1.3"/>
<text x="23.71" y="67.56" font-size="8.40" font-weight="bold" fill="#000" transform="scale(1.1800,1)">3.5</text>
<line x1="43.3" y1="52.56" x2="46.3" y2="52.56" stroke="#000" stroke-width="1.3"/>
<text x="23.72" y="55.59" font-size="8.40" font-weight="bold" fill="#000" transform="scale(1.1800,1)">4.0</text>
<line x1="43.3" y1="40.58" x2="46.3" y2="40.58" stroke="#000" stroke-width="1.3"/>
<text x="23.71" y="43.58" font-size="8.40" font-weight="bold" fill="#000" transform="scale(1.1800,1)">4.5</text>
<line x1="43.3" y1="28.60" x2="46.3" y2="28.60" stroke="#000" stroke-width="1.3"/>
<text x="23.72" y="31.63" font-size="8.40" font-weight="bold" fill="#000" transform="scale(1.1800,1)">5.0</text>
<line x1="43.3" y1="16.62" x2="46.3" y2="16.62" stroke="#000" stroke-width="1.3"/>
<text x="23.71" y="19.61" font-size="8.40" font-weight="bold" fill="#000" transform="scale(1.1800,1)">5.5</text>
<line x1="48.00" y1="154.4" x2="48.00" y2="151.4" stroke="#000" stroke-width="1.3"/>
<text x="42.29" y="165.92" font-size="8.60" font-weight="bold" fill="#000" transform="scale(1.0800,1)">0</text>
<line x1="68.80" y1="154.4" x2="68.80" y2="151.4" stroke="#000" stroke-width="1.3"/>
<text x="59.39" y="165.92" font-size="8.60" font-weight="bold" fill="#000" transform="scale(1.0800,1)">20</text>
<line x1="89.60" y1="154.4" x2="89.60" y2="151.4" stroke="#000" stroke-width="1.3"/>
<text x="78.77" y="165.92" font-size="8.60" font-weight="bold" fill="#000" transform="scale(1.0800,1)">40</text>
<line x1="110.40" y1="154.4" x2="110.40" y2="151.4" stroke="#000" stroke-width="1.3"/>
<text x="97.94" y="165.92" font-size="8.60" font-weight="bold" fill="#000" transform="scale(1.0800,1)">60</text>
<line x1="131.20" y1="154.4" x2="131.20" y2="151.4" stroke="#000" stroke-width="1.3"/>
<text x="117.20" y="165.92" font-size="8.60" font-weight="bold" fill="#000" transform="scale(1.0800,1)">80</text>
<line x1="152.00" y1="154.4" x2="152.00" y2="151.4" stroke="#000" stroke-width="1.3"/>
<text x="134.11" y="165.92" font-size="8.60" font-weight="bold" fill="#000" transform="scale(1.0800,1)">100</text>
<line x1="172.80" y1="154.4" x2="172.80" y2="151.4" stroke="#000" stroke-width="1.3"/>
<text x="153.37" y="165.92" font-size="8.60" font-weight="bold" fill="#000" transform="scale(1.0800,1)">120</text>
<line x1="193.60" y1="154.4" x2="193.60" y2="151.4" stroke="#000" stroke-width="1.3"/>
<text x="172.63" y="165.92" font-size="8.60" font-weight="bold" fill="#000" transform="scale(1.0800,1)">140</text>
<line x1="214.40" y1="154.4" x2="214.40" y2="151.4" stroke="#000" stroke-width="1.3"/>
<text x="191.89" y="165.92" font-size="8.60" font-weight="bold" fill="#000" transform="scale(1.0800,1)">160</text>
<text x="101.01" y="174.79" font-size="8.49" font-weight="bold" fill="#000" transform="scale(1.1242,1)">Time (s)</text>
<g transform="translate(0,0)">
</g>
<text x="1.19" y="13.19" font-size="15.55" font-weight="bold" fill="#000" transform="scale(1.1214,1)">(a)</text>
<line x1="164.6" y1="99.20" x2="184.9" y2="99.20" stroke="#000" stroke-width="1.6"/>
<text x="166.59" y="102.25" font-size="7.60" font-weight="bold" fill="#000" transform="scale(1.1200,1)">0.1</text>
<text x="178.08" y="102.18" font-size="7.60" font-weight="bold" fill="#000" transform="scale(1.1200,1)">µF</text>
<line x1="164.6" y1="110.60" x2="184.9" y2="110.60" stroke="#f01818" stroke-width="1.6"/>
<text x="166.27" y="113.62" font-size="7.60" font-weight="bold" fill="#000" transform="scale(1.1200,1)">1</text>
<text x="178.08" y="113.58" font-size="7.60" font-weight="bold" fill="#000" transform="scale(1.1200,1)">µF</text>
<line x1="164.6" y1="122.00" x2="184.9" y2="122.00" stroke="#22dd22" stroke-width="1.6"/>
<text x="166.56" y="125.03" font-size="7.60" font-weight="bold" fill="#000" transform="scale(1.1200,1)">2.2</text>
<text x="178.08" y="124.98" font-size="7.60" font-weight="bold" fill="#000" transform="scale(1.1200,1)">µF</text>
<line x1="164.6" y1="133.40" x2="184.9" y2="133.40" stroke="#1f1fe6" stroke-width="1.6"/>
<text x="166.77" y="136.40" font-size="7.60" font-weight="bold" fill="#000" transform="scale(1.1200,1)">4.7</text>
<text x="178.08" y="136.38" font-size="7.60" font-weight="bold" fill="#000" transform="scale(1.1200,1)">µF</text>
<line x1="164.6" y1="144.80" x2="184.9" y2="144.80" stroke="#22e0e6" stroke-width="1.6"/>
<text x="166.27" y="147.85" font-size="7.60" font-weight="bold" fill="#000" transform="scale(1.1200,1)">10</text>
<text x="178.08" y="147.78" font-size="7.60" font-weight="bold" fill="#000" transform="scale(1.1200,1)">µF</text>
<text x="0" y="0" font-size="8.97" font-weight="bold" fill="#000" transform="translate(23.82,113.93) rotate(-90) scale(1.2898,1)">Voltage (V)</text>
<text x="237.25" y="12.57" font-size="16.10" font-weight="bold" fill="#000" transform="scale(0.9472,1)">(b)</text>
<text x="193.78" y="19.16" font-size="9.59" font-weight="normal" fill="#000" transform="scale(1.2811,1)" style="stroke-width:0.08px">(I)</text>
<text x="282.25" y="22.66" font-size="9.59" font-weight="normal" fill="#000" transform="scale(1.3320,1)" style="stroke-width:0.08px">(II)</text>
<polyline points="277,23.0 265.2,23.0 265.2,45.9 309.8,45.9" fill="none" stroke="#1a1a1a" stroke-width="1.35"/>
<polyline points="352,23.4 362.3,23.4 362.3,112.7 308.6,112.7" fill="none" stroke="#1a1a1a" stroke-width="1.35"/>
<polygon points="309.8,45.9 346.8,79.0 308.6,112.7 274.2,79.0" fill="none" stroke="#1a1a1a" stroke-width="1.35" stroke-linejoin="miter"/>
<polyline points="274.2,79.0 274.2,146.1 288,146.1" fill="none" stroke="#1a1a1a" stroke-width="1.35"/>
<polyline points="346.8,79.0 346.8,146.1 335,146.1" fill="none" stroke="#1a1a1a" stroke-width="1.35"/>
<rect x="276.9" y="13.0" width="75.2" height="16.2" fill="#fb0d0d"/>
<text x="269.74" y="24.33" font-size="7.67" font-weight="bold" fill="#000" transform="scale(1.0546,1)">Electronic Device</text>
<rect x="287.7" y="136.2" width="47.3" height="16.1" fill="#7cc957"/>
<text x="294.82" y="148.39" font-size="11.76" font-weight="bold" fill="#000">TENG</text>
<polygon points="296.40,58.36 283.06,63.11 290.69,71.31" fill="#1772c8"/>
<line x1="291.84" y1="53.45" x2="300.96" y2="63.27" stroke="#1772c8" stroke-width="1.3"/>
<polygon points="324.11,58.70 330.29,71.74 337.76,63.40" fill="#1772c8"/>
<line x1="319.64" y1="63.69" x2="328.58" y2="53.71" stroke="#1772c8" stroke-width="1.3"/>
<polygon points="287.56,92.09 293.07,105.32 300.91,97.32" fill="#1772c8"/>
<line x1="282.87" y1="96.87" x2="292.25" y2="87.30" stroke="#1772c8" stroke-width="1.3"/>
<polygon points="332.55,91.57 318.35,96.63 325.76,105.03" fill="#1772c8"/>
<line x1="328.12" y1="86.55" x2="336.98" y2="96.59" stroke="#1772c8" stroke-width="1.3"/>
<text x="309.31" y="75.00" font-size="7.30" font-weight="bold" fill="#000" transform="scale(0.9572,1)">Full-wave</text>
<text x="313.29" y="82.60" font-size="7.30" font-weight="bold" fill="#000" transform="scale(0.9452,1)">bridge</text>
<text x="309.32" y="91.50" font-size="7.30" font-weight="bold" fill="#000" transform="scale(0.9570,1)">rectifier</text>
<defs><radialGradient id="led"><stop offset="0" stop-color="#ff5a3a"/><stop offset="0.5" stop-color="#ff2412"/><stop offset="0.78" stop-color="#e01004" stop-opacity="0.9"/><stop offset="1" stop-color="#900000" stop-opacity="0"/></radialGradient></defs>
<rect x="398.2" y="22.3" width="134.5" height="113.4" fill="#060101"/>
<g><circle cx="409.3" cy="30.4" r="2.3" fill="url(#led)" opacity="1.00"/><circle cx="413.3" cy="30.7" r="2.3" fill="url(#led)" opacity="0.78"/><circle cx="417.4" cy="30.9" r="2.6" fill="url(#led)" opacity="1.00"/><circle cx="422.0" cy="30.3" r="2.4" fill="url(#led)" opacity="0.67"/><circle cx="426.3" cy="31.5" r="2.4" fill="url(#led)" opacity="0.88"/><circle cx="430.5" cy="30.3" r="2.4" fill="url(#led)" opacity="0.74"/><circle cx="440.6" cy="31.4" r="2.4" fill="url(#led)" opacity="1.00"/><circle cx="445.4" cy="30.9" r="2.4" fill="url(#led)" opacity="1.00"/><circle cx="449.9" cy="30.6" r="2.3" fill="url(#led)" opacity="0.72"/><circle cx="456.2" cy="30.9" r="2.4" fill="url(#led)" opacity="0.94"/><circle cx="460.5" cy="30.4" r="2.3" fill="url(#led)" opacity="0.69"/><circle cx="466.2" cy="30.5" r="2.5" fill="url(#led)" opacity="0.95"/><circle cx="470.8" cy="31.4" r="2.4" fill="url(#led)" opacity="0.72"/><circle cx="474.6" cy="30.3" r="2.5" fill="url(#led)" opacity="0.94"/><circle cx="479.3" cy="30.4" r="2.1" fill="url(#led)" opacity="1.00"/><circle cx="483.9" cy="31.2" r="2.1" fill="url(#led)" opacity="0.82"/><circle cx="488.8" cy="31.1" r="2.3" fill="url(#led)" opacity="0.89"/><circle cx="493.6" cy="31.1" r="2.3" fill="url(#led)" opacity="0.88"/><circle cx="498.2" cy="31.5" r="2.1" fill="url(#led)" opacity="0.99"/><circle cx="503.7" cy="31.3" r="2.1" fill="url(#led)" opacity="0.93"/><circle cx="509.2" cy="30.4" r="2.2" fill="url(#led)" opacity="0.81"/><circle cx="513.8" cy="30.9" r="2.3" fill="url(#led)" opacity="0.77"/><circle cx="519.2" cy="30.8" r="2.4" fill="url(#led)" opacity="1.00"/><circle cx="523.7" cy="31.4" r="2.3" fill="url(#led)" opacity="1.00"/><circle cx="411.6" cy="34.6" r="2.5" fill="url(#led)" opacity="0.95"/><circle cx="416.7" cy="34.7" r="2.3" fill="url(#led)" opacity="0.74"/><circle cx="420.8" cy="35.5" r="2.2" fill="url(#led)" opacity="0.92"/><circle cx="425.2" cy="34.7" r="2.6" fill="url(#led)" opacity="0.86"/><circle cx="429.5" cy="34.3" r="2.3" fill="url(#led)" opacity="0.99"/><circle cx="434.7" cy="35.7" r="2.5" fill="url(#led)" opacity="1.00"/><circle cx="439.4" cy="34.2" r="2.1" fill="url(#led)" opacity="0.76"/><circle cx="444.4" cy="34.3" r="2.4" fill="url(#led)" opacity="0.72"/><circle cx="453.8" cy="35.5" r="2.4" fill="url(#led)" opacity="0.92"/><circle cx="457.5" cy="35.5" r="2.6" fill="url(#led)" opacity="1.00"/><circle cx="462.0" cy="34.4" r="2.4" fill="url(#led)" opacity="1.00"/><circle cx="467.0" cy="34.4" r="2.5" fill="url(#led)" opacity="1.00"/><circle cx="471.2" cy="35.2" r="2.1" fill="url(#led)" opacity="0.95"/><circle cx="476.3" cy="34.7" r="2.5" fill="url(#led)" opacity="1.00"/><circle cx="480.7" cy="35.2" r="2.2" fill="url(#led)" opacity="0.90"/><circle cx="486.3" cy="34.9" r="2.4" fill="url(#led)" opacity="0.70"/><circle cx="491.4" cy="35.5" r="2.3" fill="url(#led)" opacity="0.82"/><circle cx="495.7" cy="34.7" r="2.3" fill="url(#led)" opacity="0.69"/><circle cx="500.9" cy="34.3" r="2.5" fill="url(#led)" opacity="0.71"/><circle cx="504.9" cy="35.7" r="2.2" fill="url(#led)" opacity="0.79"/><circle cx="510.2" cy="34.9" r="2.5" fill="url(#led)" opacity="0.82"/><circle cx="515.9" cy="35.4" r="2.5" fill="url(#led)" opacity="0.95"/><circle cx="524.6" cy="34.6" r="2.4" fill="url(#led)" opacity="0.99"/><circle cx="408.8" cy="39.4" r="2.5" fill="url(#led)" opacity="1.00"/><circle cx="414.1" cy="39.0" r="2.4" fill="url(#led)" opacity="0.73"/><circle cx="419.2" cy="39.1" r="2.3" fill="url(#led)" opacity="0.84"/><circle cx="423.1" cy="39.0" r="2.4" fill="url(#led)" opacity="0.97"/><circle cx="428.1" cy="39.0" r="2.2" fill="url(#led)" opacity="0.99"/><circle cx="433.3" cy="39.7" r="2.6" fill="url(#led)" opacity="0.71"/><circle cx="436.7" cy="38.7" r="2.4" fill="url(#led)" opacity="0.85"/><circle cx="442.8" cy="38.7" r="2.5" fill="url(#led)" opacity="0.68"/><circle cx="451.8" cy="39.1" r="2.1" fill="url(#led)" opacity="1.00"/><circle cx="456.5" cy="39.0" r="2.2" fill="url(#led)" opacity="0.71"/><circle cx="460.4" cy="38.7" r="2.5" fill="url(#led)" opacity="0.87"/><circle cx="464.9" cy="39.2" r="2.2" fill="url(#led)" opacity="0.88"/><circle cx="470.0" cy="39.7" r="2.5" fill="url(#led)" opacity="0.73"/><circle cx="474.9" cy="39.9" r="2.2" fill="url(#led)" opacity="1.00"/><circle cx="478.7" cy="39.9" r="2.1" fill="url(#led)" opacity="0.79"/><circle cx="488.4" cy="39.6" r="2.5" fill="url(#led)" opacity="0.99"/><circle cx="493.2" cy="39.6" r="2.3" fill="url(#led)" opacity="0.73"/><circle cx="498.6" cy="39.4" r="2.3" fill="url(#led)" opacity="1.00"/><circle cx="501.9" cy="39.9" r="2.4" fill="url(#led)" opacity="1.00"/><circle cx="507.1" cy="39.4" r="2.6" fill="url(#led)" opacity="0.85"/><circle cx="511.9" cy="38.9" r="2.4" fill="url(#led)" opacity="0.74"/><circle cx="515.8" cy="39.6" r="2.1" fill="url(#led)" opacity="1.00"/><circle cx="521.2" cy="39.2" r="2.5" fill="url(#led)" opacity="0.69"/><circle cx="526.3" cy="38.5" r="2.3" fill="url(#led)" opacity="0.93"/><circle cx="407.5" cy="54.5" r="2.5" fill="url(#led)" opacity="0.59"/><circle cx="412.8" cy="55.1" r="2.5" fill="url(#led)" opacity="0.69"/><circle cx="417.7" cy="55.2" r="2.3" fill="url(#led)" opacity="0.72"/><circle cx="421.9" cy="54.9" r="2.5" fill="url(#led)" opacity="0.70"/><circle cx="426.5" cy="55.6" r="2.5" fill="url(#led)" opacity="0.68"/><circle cx="436.3" cy="55.1" r="2.4" fill="url(#led)" opacity="0.76"/><circle cx="440.7" cy="54.7" r="2.2" fill="url(#led)" opacity="0.68"/><circle cx="446.5" cy="54.8" r="2.4" fill="url(#led)" opacity="0.86"/><circle cx="451.6" cy="55.6" r="2.3" fill="url(#led)" opacity="0.77"/><circle cx="455.8" cy="55.0" r="2.2" fill="url(#led)" opacity="0.67"/><circle cx="461.2" cy="55.4" r="2.3" fill="url(#led)" opacity="0.65"/><circle cx="465.8" cy="55.3" r="2.5" fill="url(#led)" opacity="0.54"/><circle cx="471.1" cy="54.3" r="2.4" fill="url(#led)" opacity="0.61"/><circle cx="476.3" cy="54.6" r="2.3" fill="url(#led)" opacity="0.71"/><circle cx="481.6" cy="54.7" r="2.3" fill="url(#led)" opacity="0.61"/><circle cx="485.5" cy="55.3" r="2.2" fill="url(#led)" opacity="0.57"/><circle cx="489.6" cy="55.7" r="2.4" fill="url(#led)" opacity="0.74"/><circle cx="494.6" cy="54.6" r="2.3" fill="url(#led)" opacity="0.70"/><circle cx="499.2" cy="54.4" r="2.2" fill="url(#led)" opacity="0.58"/><circle cx="502.9" cy="54.5" r="2.2" fill="url(#led)" opacity="0.69"/><circle cx="507.1" cy="54.6" r="2.5" fill="url(#led)" opacity="0.59"/><circle cx="512.3" cy="55.5" r="2.2" fill="url(#led)" opacity="0.85"/><circle cx="517.2" cy="55.3" r="2.4" fill="url(#led)" opacity="0.80"/><circle cx="522.6" cy="54.4" r="2.3" fill="url(#led)" opacity="0.53"/><circle cx="411.2" cy="59.3" r="2.4" fill="url(#led)" opacity="0.73"/><circle cx="416.3" cy="59.0" r="2.1" fill="url(#led)" opacity="0.78"/><circle cx="421.9" cy="59.4" r="2.3" fill="url(#led)" opacity="0.55"/><circle cx="425.5" cy="58.9" r="2.6" fill="url(#led)" opacity="0.62"/><circle cx="431.5" cy="58.8" r="2.1" fill="url(#led)" opacity="0.80"/><circle cx="435.8" cy="59.3" r="2.2" fill="url(#led)" opacity="0.62"/><circle cx="441.1" cy="58.4" r="2.5" fill="url(#led)" opacity="0.56"/><circle cx="449.9" cy="58.6" r="2.5" fill="url(#led)" opacity="0.74"/><circle cx="454.8" cy="59.6" r="2.2" fill="url(#led)" opacity="0.79"/><circle cx="459.7" cy="59.4" r="2.4" fill="url(#led)" opacity="0.66"/><circle cx="464.2" cy="58.5" r="2.5" fill="url(#led)" opacity="0.62"/><circle cx="468.6" cy="58.7" r="2.3" fill="url(#led)" opacity="0.55"/><circle cx="472.6" cy="58.3" r="2.3" fill="url(#led)" opacity="0.60"/><circle cx="477.8" cy="59.1" r="2.4" fill="url(#led)" opacity="0.55"/><circle cx="482.2" cy="59.5" r="2.1" fill="url(#led)" opacity="0.73"/><circle cx="487.0" cy="59.0" r="2.3" fill="url(#led)" opacity="0.79"/><circle cx="492.1" cy="59.0" r="2.3" fill="url(#led)" opacity="0.87"/><circle cx="500.3" cy="59.1" r="2.6" fill="url(#led)" opacity="0.73"/><circle cx="505.8" cy="59.4" r="2.4" fill="url(#led)" opacity="0.81"/><circle cx="510.7" cy="59.0" r="2.2" fill="url(#led)" opacity="0.74"/><circle cx="515.8" cy="59.4" r="2.3" fill="url(#led)" opacity="0.62"/><circle cx="520.6" cy="59.1" r="2.2" fill="url(#led)" opacity="0.81"/><circle cx="525.4" cy="58.5" r="2.5" fill="url(#led)" opacity="0.85"/><circle cx="408.1" cy="63.7" r="2.1" fill="url(#led)" opacity="0.58"/><circle cx="413.2" cy="62.9" r="2.2" fill="url(#led)" opacity="0.65"/><circle cx="417.8" cy="63.5" r="2.3" fill="url(#led)" opacity="0.80"/><circle cx="422.0" cy="62.9" r="2.4" fill="url(#led)" opacity="0.70"/><circle cx="426.4" cy="62.3" r="2.2" fill="url(#led)" opacity="0.57"/><circle cx="431.4" cy="62.6" r="2.1" fill="url(#led)" opacity="0.64"/><circle cx="436.3" cy="63.4" r="2.3" fill="url(#led)" opacity="0.84"/><circle cx="442.1" cy="62.6" r="2.2" fill="url(#led)" opacity="0.68"/><circle cx="446.3" cy="63.3" r="2.3" fill="url(#led)" opacity="0.57"/><circle cx="451.7" cy="63.6" r="2.2" fill="url(#led)" opacity="0.55"/><circle cx="456.1" cy="63.7" r="2.4" fill="url(#led)" opacity="0.54"/><circle cx="461.5" cy="63.4" r="2.4" fill="url(#led)" opacity="0.88"/><circle cx="465.6" cy="63.5" r="2.5" fill="url(#led)" opacity="0.88"/><circle cx="470.7" cy="63.7" r="2.3" fill="url(#led)" opacity="0.86"/><circle cx="475.1" cy="63.0" r="2.3" fill="url(#led)" opacity="0.66"/><circle cx="478.9" cy="63.4" r="2.4" fill="url(#led)" opacity="0.76"/><circle cx="484.3" cy="62.6" r="2.3" fill="url(#led)" opacity="0.79"/><circle cx="489.3" cy="62.5" r="2.2" fill="url(#led)" opacity="0.77"/><circle cx="494.4" cy="62.3" r="2.3" fill="url(#led)" opacity="0.73"/><circle cx="498.8" cy="63.1" r="2.2" fill="url(#led)" opacity="0.77"/><circle cx="502.5" cy="62.6" r="2.2" fill="url(#led)" opacity="0.88"/><circle cx="507.9" cy="63.7" r="2.1" fill="url(#led)" opacity="0.71"/><circle cx="512.0" cy="62.7" r="2.1" fill="url(#led)" opacity="0.53"/><circle cx="520.8" cy="62.2" r="2.6" fill="url(#led)" opacity="0.68"/><circle cx="525.1" cy="62.6" r="2.6" fill="url(#led)" opacity="0.84"/><circle cx="407.3" cy="75.8" r="2.1" fill="url(#led)" opacity="0.44"/><circle cx="412.4" cy="76.8" r="2.3" fill="url(#led)" opacity="0.50"/><circle cx="417.2" cy="76.3" r="2.4" fill="url(#led)" opacity="0.43"/><circle cx="421.9" cy="76.7" r="2.4" fill="url(#led)" opacity="0.55"/><circle cx="424.9" cy="75.6" r="2.4" fill="url(#led)" opacity="0.63"/><circle cx="430.2" cy="75.5" r="2.5" fill="url(#led)" opacity="0.68"/><circle cx="434.9" cy="75.9" r="2.4" fill="url(#led)" opacity="0.41"/><circle cx="439.9" cy="76.2" r="2.5" fill="url(#led)" opacity="0.65"/><circle cx="444.7" cy="76.2" r="2.1" fill="url(#led)" opacity="0.42"/><circle cx="449.1" cy="76.2" r="2.4" fill="url(#led)" opacity="0.52"/><circle cx="454.6" cy="75.6" r="2.3" fill="url(#led)" opacity="0.64"/><circle cx="460.0" cy="75.7" r="2.5" fill="url(#led)" opacity="0.41"/><circle cx="464.9" cy="77.0" r="2.4" fill="url(#led)" opacity="0.42"/><circle cx="469.1" cy="75.8" r="2.1" fill="url(#led)" opacity="0.55"/><circle cx="473.9" cy="76.5" r="2.2" fill="url(#led)" opacity="0.66"/><circle cx="479.6" cy="76.8" r="2.2" fill="url(#led)" opacity="0.63"/><circle cx="483.8" cy="76.4" r="2.6" fill="url(#led)" opacity="0.42"/><circle cx="489.1" cy="76.0" r="2.1" fill="url(#led)" opacity="0.48"/><circle cx="494.4" cy="76.9" r="2.6" fill="url(#led)" opacity="0.65"/><circle cx="499.9" cy="75.7" r="2.5" fill="url(#led)" opacity="0.65"/><circle cx="503.9" cy="76.2" r="2.2" fill="url(#led)" opacity="0.44"/><circle cx="509.0" cy="75.6" r="2.1" fill="url(#led)" opacity="0.48"/><circle cx="512.8" cy="76.1" r="2.3" fill="url(#led)" opacity="0.46"/><circle cx="517.6" cy="76.1" r="2.6" fill="url(#led)" opacity="0.47"/><circle cx="523.2" cy="76.0" r="2.4" fill="url(#led)" opacity="0.65"/><circle cx="410.9" cy="79.2" r="2.3" fill="url(#led)" opacity="0.67"/><circle cx="414.0" cy="79.3" r="2.3" fill="url(#led)" opacity="0.57"/><circle cx="419.2" cy="80.5" r="2.4" fill="url(#led)" opacity="0.44"/><circle cx="423.5" cy="80.6" r="2.3" fill="url(#led)" opacity="0.55"/><circle cx="428.1" cy="80.4" r="2.2" fill="url(#led)" opacity="0.68"/><circle cx="432.8" cy="80.4" r="2.2" fill="url(#led)" opacity="0.58"/><circle cx="438.4" cy="79.9" r="2.3" fill="url(#led)" opacity="0.48"/><circle cx="443.5" cy="79.9" r="2.6" fill="url(#led)" opacity="0.67"/><circle cx="447.5" cy="79.3" r="2.3" fill="url(#led)" opacity="0.42"/><circle cx="452.0" cy="79.7" r="2.4" fill="url(#led)" opacity="0.63"/><circle cx="457.7" cy="79.2" r="2.3" fill="url(#led)" opacity="0.67"/><circle cx="462.0" cy="79.7" r="2.5" fill="url(#led)" opacity="0.48"/><circle cx="466.6" cy="80.4" r="2.3" fill="url(#led)" opacity="0.44"/><circle cx="471.9" cy="80.4" r="2.5" fill="url(#led)" opacity="0.42"/><circle cx="476.7" cy="80.4" r="2.1" fill="url(#led)" opacity="0.65"/><circle cx="482.0" cy="80.6" r="2.1" fill="url(#led)" opacity="0.60"/><circle cx="485.7" cy="80.1" r="2.4" fill="url(#led)" opacity="0.66"/><circle cx="489.8" cy="80.5" r="2.4" fill="url(#led)" opacity="0.55"/><circle cx="494.9" cy="79.3" r="2.3" fill="url(#led)" opacity="0.65"/><circle cx="504.8" cy="80.1" r="2.6" fill="url(#led)" opacity="0.50"/><circle cx="509.7" cy="80.3" r="2.3" fill="url(#led)" opacity="0.63"/><circle cx="513.7" cy="79.4" r="2.5" fill="url(#led)" opacity="0.49"/><circle cx="519.3" cy="79.3" r="2.5" fill="url(#led)" opacity="0.42"/><circle cx="524.4" cy="79.4" r="2.5" fill="url(#led)" opacity="0.54"/><circle cx="408.2" cy="84.0" r="2.6" fill="url(#led)" opacity="0.63"/><circle cx="412.6" cy="84.6" r="2.1" fill="url(#led)" opacity="0.55"/><circle cx="417.6" cy="83.9" r="2.3" fill="url(#led)" opacity="0.66"/><circle cx="421.6" cy="84.1" r="2.2" fill="url(#led)" opacity="0.65"/><circle cx="427.1" cy="83.0" r="2.3" fill="url(#led)" opacity="0.67"/><circle cx="438.1" cy="84.1" r="2.5" fill="url(#led)" opacity="0.64"/><circle cx="442.4" cy="83.2" r="2.3" fill="url(#led)" opacity="0.68"/><circle cx="447.5" cy="83.5" r="2.6" fill="url(#led)" opacity="0.66"/><circle cx="451.0" cy="84.5" r="2.2" fill="url(#led)" opacity="0.41"/><circle cx="457.0" cy="84.2" r="2.1" fill="url(#led)" opacity="0.43"/><circle cx="466.5" cy="84.0" r="2.1" fill="url(#led)" opacity="0.47"/><circle cx="471.6" cy="83.1" r="2.6" fill="url(#led)" opacity="0.45"/><circle cx="476.5" cy="84.5" r="2.5" fill="url(#led)" opacity="0.50"/><circle cx="480.9" cy="83.0" r="2.5" fill="url(#led)" opacity="0.45"/><circle cx="485.2" cy="84.6" r="2.4" fill="url(#led)" opacity="0.51"/><circle cx="490.0" cy="83.6" r="2.3" fill="url(#led)" opacity="0.48"/><circle cx="494.4" cy="83.5" r="2.5" fill="url(#led)" opacity="0.64"/><circle cx="499.5" cy="83.6" r="2.4" fill="url(#led)" opacity="0.53"/><circle cx="503.6" cy="84.5" r="2.4" fill="url(#led)" opacity="0.63"/><circle cx="508.7" cy="84.1" r="2.2" fill="url(#led)" opacity="0.54"/><circle cx="513.4" cy="84.3" r="2.5" fill="url(#led)" opacity="0.59"/><circle cx="517.9" cy="84.1" r="2.4" fill="url(#led)" opacity="0.58"/><circle cx="523.4" cy="83.7" r="2.5" fill="url(#led)" opacity="0.50"/><circle cx="407.8" cy="97.9" r="2.1" fill="url(#led)" opacity="0.68"/><circle cx="411.6" cy="97.1" r="2.3" fill="url(#led)" opacity="0.62"/><circle cx="417.0" cy="97.4" r="2.4" fill="url(#led)" opacity="0.59"/><circle cx="421.8" cy="97.0" r="2.3" fill="url(#led)" opacity="0.56"/><circle cx="431.1" cy="97.6" r="2.4" fill="url(#led)" opacity="0.57"/><circle cx="436.4" cy="98.4" r="2.2" fill="url(#led)" opacity="0.66"/><circle cx="441.6" cy="98.4" r="2.5" fill="url(#led)" opacity="0.61"/><circle cx="445.6" cy="99.3" r="2.5" fill="url(#led)" opacity="0.60"/><circle cx="450.9" cy="99.2" r="2.5" fill="url(#led)" opacity="0.93"/><circle cx="455.1" cy="99.0" r="2.4" fill="url(#led)" opacity="0.91"/><circle cx="459.3" cy="99.7" r="2.3" fill="url(#led)" opacity="0.86"/><circle cx="464.4" cy="99.5" r="2.2" fill="url(#led)" opacity="0.71"/><circle cx="468.8" cy="99.7" r="2.2" fill="url(#led)" opacity="0.86"/><circle cx="474.9" cy="100.3" r="2.2" fill="url(#led)" opacity="0.87"/><circle cx="479.8" cy="100.8" r="2.2" fill="url(#led)" opacity="0.81"/><circle cx="484.2" cy="99.9" r="2.3" fill="url(#led)" opacity="0.69"/><circle cx="489.2" cy="100.9" r="2.6" fill="url(#led)" opacity="0.64"/><circle cx="493.7" cy="101.5" r="2.1" fill="url(#led)" opacity="0.84"/><circle cx="499.4" cy="101.0" r="2.3" fill="url(#led)" opacity="0.75"/><circle cx="503.1" cy="102.0" r="2.3" fill="url(#led)" opacity="0.64"/><circle cx="509.3" cy="102.0" r="2.4" fill="url(#led)" opacity="0.72"/><circle cx="512.6" cy="101.4" r="2.3" fill="url(#led)" opacity="0.91"/><circle cx="518.1" cy="101.3" r="2.4" fill="url(#led)" opacity="0.61"/><circle cx="521.8" cy="101.5" r="2.2" fill="url(#led)" opacity="0.80"/><circle cx="409.4" cy="101.7" r="2.3" fill="url(#led)" opacity="0.66"/><circle cx="414.4" cy="101.8" r="2.2" fill="url(#led)" opacity="0.50"/><circle cx="419.7" cy="102.4" r="2.5" fill="url(#led)" opacity="0.72"/><circle cx="423.6" cy="101.9" r="2.3" fill="url(#led)" opacity="0.76"/><circle cx="427.8" cy="102.6" r="2.4" fill="url(#led)" opacity="0.77"/><circle cx="431.8" cy="102.2" r="2.5" fill="url(#led)" opacity="0.88"/><circle cx="442.0" cy="103.1" r="2.3" fill="url(#led)" opacity="0.69"/><circle cx="446.2" cy="102.6" r="2.1" fill="url(#led)" opacity="0.61"/><circle cx="452.3" cy="102.7" r="2.3" fill="url(#led)" opacity="0.86"/><circle cx="461.5" cy="103.7" r="2.2" fill="url(#led)" opacity="0.92"/><circle cx="466.0" cy="103.3" r="2.2" fill="url(#led)" opacity="0.58"/><circle cx="470.2" cy="103.8" r="2.3" fill="url(#led)" opacity="0.86"/><circle cx="474.7" cy="104.4" r="2.3" fill="url(#led)" opacity="0.65"/><circle cx="479.6" cy="105.0" r="2.3" fill="url(#led)" opacity="0.56"/><circle cx="484.6" cy="105.3" r="2.5" fill="url(#led)" opacity="0.88"/><circle cx="489.1" cy="104.5" r="2.3" fill="url(#led)" opacity="0.68"/><circle cx="493.9" cy="104.6" r="2.3" fill="url(#led)" opacity="0.73"/><circle cx="500.3" cy="105.8" r="2.4" fill="url(#led)" opacity="0.66"/><circle cx="509.0" cy="105.5" r="2.3" fill="url(#led)" opacity="0.83"/><circle cx="514.0" cy="106.5" r="2.4" fill="url(#led)" opacity="0.77"/><circle cx="518.2" cy="106.2" r="2.2" fill="url(#led)" opacity="0.64"/><circle cx="522.0" cy="106.1" r="2.3" fill="url(#led)" opacity="0.66"/><circle cx="407.3" cy="105.8" r="2.2" fill="url(#led)" opacity="0.68"/><circle cx="412.2" cy="106.4" r="2.5" fill="url(#led)" opacity="0.71"/><circle cx="416.5" cy="106.5" r="2.2" fill="url(#led)" opacity="0.56"/><circle cx="420.5" cy="106.6" r="2.5" fill="url(#led)" opacity="0.75"/><circle cx="425.7" cy="105.8" r="2.2" fill="url(#led)" opacity="0.60"/><circle cx="430.1" cy="106.5" r="2.4" fill="url(#led)" opacity="0.71"/><circle cx="435.3" cy="107.4" r="2.5" fill="url(#led)" opacity="0.56"/><circle cx="440.1" cy="107.1" r="2.4" fill="url(#led)" opacity="0.75"/><circle cx="444.6" cy="107.8" r="2.3" fill="url(#led)" opacity="0.57"/><circle cx="448.9" cy="108.3" r="2.2" fill="url(#led)" opacity="0.76"/><circle cx="459.0" cy="107.8" r="2.3" fill="url(#led)" opacity="0.62"/><circle cx="464.7" cy="108.5" r="2.1" fill="url(#led)" opacity="0.64"/><circle cx="469.0" cy="108.3" r="2.5" fill="url(#led)" opacity="0.56"/><circle cx="474.1" cy="108.2" r="2.1" fill="url(#led)" opacity="0.71"/><circle cx="478.9" cy="108.3" r="2.5" fill="url(#led)" opacity="0.61"/><circle cx="484.1" cy="109.6" r="2.2" fill="url(#led)" opacity="0.59"/><circle cx="488.6" cy="109.7" r="2.3" fill="url(#led)" opacity="0.74"/><circle cx="493.3" cy="108.9" r="2.2" fill="url(#led)" opacity="0.65"/><circle cx="497.3" cy="109.1" r="2.4" fill="url(#led)" opacity="0.67"/><circle cx="502.2" cy="110.0" r="2.6" fill="url(#led)" opacity="0.88"/><circle cx="506.7" cy="109.5" r="2.6" fill="url(#led)" opacity="0.58"/><circle cx="511.3" cy="109.8" r="2.6" fill="url(#led)" opacity="0.71"/><circle cx="516.5" cy="109.7" r="2.3" fill="url(#led)" opacity="0.89"/><circle cx="521.8" cy="110.2" r="2.1" fill="url(#led)" opacity="0.73"/><circle cx="525.0" cy="110.4" r="2.2" fill="url(#led)" opacity="0.56"/><circle cx="404.6" cy="117.4" r="2.5" fill="url(#led)" opacity="1.00"/><circle cx="409.4" cy="117.8" r="2.3" fill="url(#led)" opacity="1.00"/><circle cx="413.8" cy="118.2" r="2.4" fill="url(#led)" opacity="0.75"/><circle cx="419.6" cy="117.3" r="2.2" fill="url(#led)" opacity="0.67"/><circle cx="423.3" cy="117.5" r="2.6" fill="url(#led)" opacity="0.65"/><circle cx="427.6" cy="118.3" r="2.5" fill="url(#led)" opacity="0.71"/><circle cx="433.2" cy="117.3" r="2.3" fill="url(#led)" opacity="0.76"/><circle cx="437.9" cy="118.2" r="2.3" fill="url(#led)" opacity="0.96"/><circle cx="442.0" cy="118.3" r="2.3" fill="url(#led)" opacity="0.91"/><circle cx="447.9" cy="117.0" r="2.5" fill="url(#led)" opacity="1.00"/><circle cx="453.0" cy="118.4" r="2.2" fill="url(#led)" opacity="0.88"/><circle cx="457.0" cy="118.0" r="2.5" fill="url(#led)" opacity="0.66"/><circle cx="462.2" cy="118.1" r="2.5" fill="url(#led)" opacity="0.98"/><circle cx="467.4" cy="117.4" r="2.5" fill="url(#led)" opacity="1.00"/><circle cx="471.6" cy="118.0" r="2.4" fill="url(#led)" opacity="0.80"/><circle cx="476.6" cy="117.0" r="2.6" fill="url(#led)" opacity="1.00"/><circle cx="480.6" cy="117.0" r="2.5" fill="url(#led)" opacity="0.84"/><circle cx="485.7" cy="116.9" r="2.5" fill="url(#led)" opacity="0.96"/><circle cx="491.3" cy="118.2" r="2.3" fill="url(#led)" opacity="0.83"/><circle cx="499.4" cy="118.0" r="2.3" fill="url(#led)" opacity="0.91"/><circle cx="504.6" cy="117.6" r="2.4" fill="url(#led)" opacity="0.84"/><circle cx="508.9" cy="117.6" r="2.4" fill="url(#led)" opacity="0.69"/><circle cx="514.2" cy="118.0" r="2.5" fill="url(#led)" opacity="0.93"/><circle cx="519.9" cy="118.0" r="2.6" fill="url(#led)" opacity="0.94"/><circle cx="524.9" cy="117.7" r="2.6" fill="url(#led)" opacity="1.00"/><circle cx="413.0" cy="120.9" r="2.3" fill="url(#led)" opacity="1.00"/><circle cx="416.8" cy="121.8" r="2.2" fill="url(#led)" opacity="1.00"/><circle cx="421.3" cy="121.4" r="2.5" fill="url(#led)" opacity="1.00"/><circle cx="425.8" cy="121.0" r="2.5" fill="url(#led)" opacity="1.00"/><circle cx="429.9" cy="120.7" r="2.5" fill="url(#led)" opacity="0.79"/><circle cx="434.8" cy="121.6" r="2.5" fill="url(#led)" opacity="0.72"/><circle cx="440.1" cy="121.8" r="2.4" fill="url(#led)" opacity="0.82"/><circle cx="444.3" cy="120.8" r="2.2" fill="url(#led)" opacity="0.82"/><circle cx="448.6" cy="121.4" r="2.6" fill="url(#led)" opacity="1.00"/><circle cx="453.3" cy="121.7" r="2.2" fill="url(#led)" opacity="0.89"/><circle cx="458.8" cy="121.7" r="2.3" fill="url(#led)" opacity="1.00"/><circle cx="462.5" cy="120.8" r="2.6" fill="url(#led)" opacity="0.66"/><circle cx="467.5" cy="121.6" r="2.3" fill="url(#led)" opacity="0.75"/><circle cx="472.0" cy="120.8" r="2.3" fill="url(#led)" opacity="1.00"/><circle cx="477.7" cy="121.5" r="2.4" fill="url(#led)" opacity="0.80"/><circle cx="482.1" cy="121.4" r="2.5" fill="url(#led)" opacity="0.67"/><circle cx="487.6" cy="121.4" r="2.4" fill="url(#led)" opacity="1.00"/><circle cx="491.6" cy="121.4" r="2.3" fill="url(#led)" opacity="0.68"/><circle cx="496.0" cy="121.6" r="2.2" fill="url(#led)" opacity="0.66"/><circle cx="501.7" cy="120.7" r="2.2" fill="url(#led)" opacity="0.83"/><circle cx="512.2" cy="121.0" r="2.2" fill="url(#led)" opacity="0.73"/><circle cx="516.0" cy="121.7" r="2.4" fill="url(#led)" opacity="0.66"/><circle cx="521.0" cy="120.9" r="2.5" fill="url(#led)" opacity="0.74"/><circle cx="525.6" cy="120.5" r="2.2" fill="url(#led)" opacity="0.99"/><circle cx="405.1" cy="124.3" r="2.4" fill="url(#led)" opacity="0.70"/><circle cx="408.9" cy="124.2" r="2.4" fill="url(#led)" opacity="0.98"/><circle cx="413.6" cy="124.8" r="2.4" fill="url(#led)" opacity="1.00"/><circle cx="418.6" cy="124.6" r="2.5" fill="url(#led)" opacity="1.00"/><circle cx="423.2" cy="125.4" r="2.2" fill="url(#led)" opacity="0.87"/><circle cx="427.4" cy="124.1" r="2.5" fill="url(#led)" opacity="0.96"/><circle cx="431.5" cy="124.5" r="2.4" fill="url(#led)" opacity="1.00"/><circle cx="435.7" cy="124.2" r="2.5" fill="url(#led)" opacity="0.98"/><circle cx="441.6" cy="124.8" r="2.5" fill="url(#led)" opacity="0.80"/><circle cx="446.4" cy="124.3" r="2.1" fill="url(#led)" opacity="0.69"/><circle cx="450.8" cy="125.2" r="2.3" fill="url(#led)" opacity="0.70"/><circle cx="455.2" cy="125.0" r="2.3" fill="url(#led)" opacity="0.72"/><circle cx="460.0" cy="124.4" r="2.4" fill="url(#led)" opacity="0.79"/><circle cx="465.3" cy="124.6" r="2.3" fill="url(#led)" opacity="1.00"/><circle cx="469.9" cy="125.3" r="2.3" fill="url(#led)" opacity="1.00"/><circle cx="475.8" cy="124.9" r="2.5" fill="url(#led)" opacity="0.71"/><circle cx="480.4" cy="124.4" r="2.4" fill="url(#led)" opacity="0.99"/><circle cx="484.9" cy="125.6" r="2.5" fill="url(#led)" opacity="0.87"/><circle cx="489.1" cy="125.0" r="2.5" fill="url(#led)" opacity="1.00"/><circle cx="493.9" cy="125.5" r="2.6" fill="url(#led)" opacity="0.72"/><circle cx="499.7" cy="125.3" r="2.4" fill="url(#led)" opacity="0.88"/><circle cx="504.5" cy="124.3" r="2.5" fill="url(#led)" opacity="0.77"/><circle cx="508.4" cy="124.4" r="2.2" fill="url(#led)" opacity="0.69"/><circle cx="512.2" cy="124.8" r="2.4" fill="url(#led)" opacity="0.67"/><circle cx="517.9" cy="125.4" r="2.2" fill="url(#led)" opacity="0.99"/><circle cx="521.9" cy="125.5" r="2.5" fill="url(#led)" opacity="0.83"/><circle cx="526.7" cy="124.8" r="2.2" fill="url(#led)" opacity="0.89"/><circle cx="406.9" cy="128.1" r="2.1" fill="url(#led)" opacity="0.76"/><circle cx="417.5" cy="128.6" r="2.2" fill="url(#led)" opacity="0.95"/><circle cx="422.7" cy="129.2" r="2.5" fill="url(#led)" opacity="0.91"/><circle cx="428.2" cy="128.6" r="2.5" fill="url(#led)" opacity="0.78"/><circle cx="433.2" cy="127.8" r="2.2" fill="url(#led)" opacity="0.99"/><circle cx="436.9" cy="129.0" r="2.1" fill="url(#led)" opacity="0.80"/><circle cx="442.8" cy="129.2" r="2.1" fill="url(#led)" opacity="0.95"/><circle cx="447.9" cy="127.7" r="2.1" fill="url(#led)" opacity="1.00"/><circle cx="451.9" cy="128.5" r="2.1" fill="url(#led)" opacity="0.99"/><circle cx="456.6" cy="128.4" r="2.1" fill="url(#led)" opacity="1.00"/><circle cx="462.4" cy="128.7" r="2.3" fill="url(#led)" opacity="1.00"/><circle cx="466.2" cy="129.2" r="2.1" fill="url(#led)" opacity="0.98"/><circle cx="471.1" cy="127.7" r="2.2" fill="url(#led)" opacity="0.70"/><circle cx="476.0" cy="128.1" r="2.2" fill="url(#led)" opacity="1.00"/><circle cx="481.0" cy="128.9" r="2.2" fill="url(#led)" opacity="0.69"/><circle cx="484.9" cy="129.1" r="2.4" fill="url(#led)" opacity="0.84"/><circle cx="489.7" cy="127.9" r="2.6" fill="url(#led)" opacity="1.00"/><circle cx="495.1" cy="128.1" r="2.4" fill="url(#led)" opacity="0.72"/><circle cx="503.8" cy="128.7" r="2.5" fill="url(#led)" opacity="1.00"/><circle cx="509.1" cy="129.1" r="2.5" fill="url(#led)" opacity="0.67"/><circle cx="513.1" cy="127.9" r="2.5" fill="url(#led)" opacity="0.66"/><circle cx="517.3" cy="128.0" r="2.6" fill="url(#led)" opacity="0.99"/><circle cx="522.1" cy="129.2" r="2.5" fill="url(#led)" opacity="0.68"/><circle cx="527.6" cy="128.1" r="2.2" fill="url(#led)" opacity="0.66"/></g>
<defs><clipPath id="cp1"><rect x="550.1" y="21.5" width="114.90" height="114.30"/></clipPath><linearGradient id="bbg" x1="0" y1="0" x2="1" y2="1"><stop offset="0" stop-color="#e0dcd2"/><stop offset="1" stop-color="#d8d4ca"/></linearGradient><radialGradient id="ringg" cx="0.42" cy="0.38" r="0.62"><stop offset="0" stop-color="#f3f3f3"/><stop offset="0.8" stop-color="#ebebeb"/><stop offset="1" stop-color="#d6d6d6"/></radialGradient><radialGradient id="holeg"><stop offset="0" stop-color="#4a443c"/><stop offset="0.6" stop-color="#5c564d"/><stop offset="1" stop-color="#8a8479" stop-opacity="0"/></radialGradient></defs>
<g clip-path="url(#cp1)">
<rect x="550.1" y="21.5" width="114.90" height="114.30" fill="url(#bbg)"/>
<g transform="rotate(4.0 552 21.5)">
<circle cx="555.0" cy="20.6" r="2.0" fill="url(#holeg)"/><circle cx="562.8" cy="20.6" r="2.0" fill="url(#holeg)"/><circle cx="570.6" cy="20.6" r="2.0" fill="url(#holeg)"/><circle cx="578.4" cy="20.6" r="2.0" fill="url(#holeg)"/><circle cx="586.2" cy="20.6" r="2.0" fill="url(#holeg)"/><circle cx="594.0" cy="20.6" r="2.0" fill="url(#holeg)"/><circle cx="601.8" cy="20.6" r="2.0" fill="url(#holeg)"/><circle cx="609.6" cy="20.6" r="2.0" fill="url(#holeg)"/><circle cx="617.4" cy="20.6" r="2.0" fill="url(#holeg)"/><circle cx="625.2" cy="20.6" r="2.0" fill="url(#holeg)"/><circle cx="633.0" cy="20.6" r="2.0" fill="url(#holeg)"/><circle cx="640.8" cy="20.6" r="2.0" fill="url(#holeg)"/><circle cx="648.6" cy="20.6" r="2.0" fill="url(#holeg)"/><circle cx="656.4" cy="20.6" r="2.0" fill="url(#holeg)"/><circle cx="664.2" cy="20.6" r="2.0" fill="url(#holeg)"/><circle cx="672.0" cy="20.6" r="2.0" fill="url(#holeg)"/><circle cx="555.0" cy="28.4" r="2.0" fill="url(#holeg)"/><circle cx="562.8" cy="28.4" r="2.0" fill="url(#holeg)"/><circle cx="570.6" cy="28.4" r="2.0" fill="url(#holeg)"/><circle cx="578.4" cy="28.4" r="2.0" fill="url(#holeg)"/><circle cx="586.2" cy="28.4" r="2.0" fill="url(#holeg)"/><circle cx="594.0" cy="28.4" r="2.0" fill="url(#holeg)"/><circle cx="601.8" cy="28.4" r="2.0" fill="url(#holeg)"/><circle cx="609.6" cy="28.4" r="2.0" fill="url(#holeg)"/><circle cx="617.4" cy="28.4" r="2.0" fill="url(#holeg)"/><circle cx="625.2" cy="28.4" r="2.0" fill="url(#holeg)"/><circle cx="633.0" cy="28.4" r="2.0" fill="url(#holeg)"/><circle cx="640.8" cy="28.4" r="2.0" fill="url(#holeg)"/><circle cx="648.6" cy="28.4" r="2.0" fill="url(#holeg)"/><circle cx="656.4" cy="28.4" r="2.0" fill="url(#holeg)"/><circle cx="664.2" cy="28.4" r="2.0" fill="url(#holeg)"/><circle cx="672.0" cy="28.4" r="2.0" fill="url(#holeg)"/><circle cx="555.0" cy="50.9" r="2.0" fill="url(#holeg)"/><circle cx="562.8" cy="50.9" r="2.0" fill="url(#holeg)"/><circle cx="570.6" cy="50.9" r="2.0" fill="url(#holeg)"/><circle cx="578.4" cy="50.9" r="2.0" fill="url(#holeg)"/><circle cx="586.2" cy="50.9" r="2.0" fill="url(#holeg)"/><circle cx="594.0" cy="50.9" r="2.0" fill="url(#holeg)"/><circle cx="601.8" cy="50.9" r="2.0" fill="url(#holeg)"/><circle cx="609.6" cy="50.9" r="2.0" fill="url(#holeg)"/><circle cx="617.4" cy="50.9" r="2.0" fill="url(#holeg)"/><circle cx="625.2" cy="50.9" r="2.0" fill="url(#holeg)"/><circle cx="633.0" cy="50.9" r="2.0" fill="url(#holeg)"/><circle cx="640.8" cy="50.9" r="2.0" fill="url(#holeg)"/><circle cx="648.6" cy="50.9" r="2.0" fill="url(#holeg)"/><circle cx="656.4" cy="50.9" r="2.0" fill="url(#holeg)"/><circle cx="664.2" cy="50.9" r="2.0" fill="url(#holeg)"/><circle cx="672.0" cy="50.9" r="2.0" fill="url(#holeg)"/><circle cx="555.0" cy="58.7" r="2.0" fill="url(#holeg)"/><circle cx="562.8" cy="58.7" r="2.0" fill="url(#holeg)"/><circle cx="570.6" cy="58.7" r="2.0" fill="url(#holeg)"/><circle cx="578.4" cy="58.7" r="2.0" fill="url(#holeg)"/><circle cx="586.2" cy="58.7" r="2.0" fill="url(#holeg)"/><circle cx="594.0" cy="58.7" r="2.0" fill="url(#holeg)"/><circle cx="601.8" cy="58.7" r="2.0" fill="url(#holeg)"/><circle cx="609.6" cy="58.7" r="2.0" fill="url(#holeg)"/><circle cx="617.4" cy="58.7" r="2.0" fill="url(#holeg)"/><circle cx="625.2" cy="58.7" r="2.0" fill="url(#holeg)"/><circle cx="633.0" cy="58.7" r="2.0" fill="url(#holeg)"/><circle cx="640.8" cy="58.7" r="2.0" fill="url(#holeg)"/><circle cx="648.6" cy="58.7" r="2.0" fill="url(#holeg)"/><circle cx="656.4" cy="58.7" r="2.0" fill="url(#holeg)"/><circle cx="664.2" cy="58.7" r="2.0" fill="url(#holeg)"/><circle cx="672.0" cy="58.7" r="2.0" fill="url(#holeg)"/><circle cx="555.0" cy="80.4" r="2.0" fill="url(#holeg)"/><circle cx="562.8" cy="80.4" r="2.0" fill="url(#holeg)"/><circle cx="570.6" cy="80.4" r="2.0" fill="url(#holeg)"/><circle cx="578.4" cy="80.4" r="2.0" fill="url(#holeg)"/><circle cx="586.2" cy="80.4" r="2.0" fill="url(#holeg)"/><circle cx="594.0" cy="80.4" r="2.0" fill="url(#holeg)"/><circle cx="601.8" cy="80.4" r="2.0" fill="url(#holeg)"/><circle cx="609.6" cy="80.4" r="2.0" fill="url(#holeg)"/><circle cx="617.4" cy="80.4" r="2.0" fill="url(#holeg)"/><circle cx="625.2" cy="80.4" r="2.0" fill="url(#holeg)"/><circle cx="633.0" cy="80.4" r="2.0" fill="url(#holeg)"/><circle cx="640.8" cy="80.4" r="2.0" fill="url(#holeg)"/><circle cx="648.6" cy="80.4" r="2.0" fill="url(#holeg)"/><circle cx="656.4" cy="80.4" r="2.0" fill="url(#holeg)"/><circle cx="664.2" cy="80.4" r="2.0" fill="url(#holeg)"/><circle cx="672.0" cy="80.4" r="2.0" fill="url(#holeg)"/><circle cx="555.0" cy="88.1" r="2.0" fill="url(#holeg)"/><circle cx="562.8" cy="88.1" r="2.0" fill="url(#holeg)"/><circle cx="570.6" cy="88.1" r="2.0" fill="url(#holeg)"/><circle cx="578.4" cy="88.1" r="2.0" fill="url(#holeg)"/><circle cx="586.2" cy="88.1" r="2.0" fill="url(#holeg)"/><circle cx="594.0" cy="88.1" r="2.0" fill="url(#holeg)"/><circle cx="601.8" cy="88.1" r="2.0" fill="url(#holeg)"/><circle cx="609.6" cy="88.1" r="2.0" fill="url(#holeg)"/><circle cx="617.4" cy="88.1" r="2.0" fill="url(#holeg)"/><circle cx="625.2" cy="88.1" r="2.0" fill="url(#holeg)"/><circle cx="633.0" cy="88.1" r="2.0" fill="url(#holeg)"/><circle cx="640.8" cy="88.1" r="2.0" fill="url(#holeg)"/><circle cx="648.6" cy="88.1" r="2.0" fill="url(#holeg)"/><circle cx="656.4" cy="88.1" r="2.0" fill="url(#holeg)"/><circle cx="664.2" cy="88.1" r="2.0" fill="url(#holeg)"/><circle cx="672.0" cy="88.1" r="2.0" fill="url(#holeg)"/><circle cx="555.0" cy="95.9" r="2.0" fill="url(#holeg)"/><circle cx="562.8" cy="95.9" r="2.0" fill="url(#holeg)"/><circle cx="570.6" cy="95.9" r="2.0" fill="url(#holeg)"/><circle cx="578.4" cy="95.9" r="2.0" fill="url(#holeg)"/><circle cx="586.2" cy="95.9" r="2.0" fill="url(#holeg)"/><circle cx="594.0" cy="95.9" r="2.0" fill="url(#holeg)"/><circle cx="601.8" cy="95.9" r="2.0" fill="url(#holeg)"/><circle cx="609.6" cy="95.9" r="2.0" fill="url(#holeg)"/><circle cx="617.4" cy="95.9" r="2.0" fill="url(#holeg)"/><circle cx="625.2" cy="95.9" r="2.0" fill="url(#holeg)"/><circle cx="633.0" cy="95.9" r="2.0" fill="url(#holeg)"/><circle cx="640.8" cy="95.9" r="2.0" fill="url(#holeg)"/><circle cx="648.6" cy="95.9" r="2.0" fill="url(#holeg)"/><circle cx="656.4" cy="95.9" r="2.0" fill="url(#holeg)"/><circle cx="664.2" cy="95.9" r="2.0" fill="url(#holeg)"/><circle cx="672.0" cy="95.9" r="2.0" fill="url(#holeg)"/><circle cx="555.0" cy="103.7" r="2.0" fill="url(#holeg)"/><circle cx="562.8" cy="103.7" r="2.0" fill="url(#holeg)"/><circle cx="570.6" cy="103.7" r="2.0" fill="url(#holeg)"/><circle cx="578.4" cy="103.7" r="2.0" fill="url(#holeg)"/><circle cx="586.2" cy="103.7" r="2.0" fill="url(#holeg)"/><circle cx="594.0" cy="103.7" r="2.0" fill="url(#holeg)"/><circle cx="601.8" cy="103.7" r="2.0" fill="url(#holeg)"/><circle cx="609.6" cy="103.7" r="2.0" fill="url(#holeg)"/><circle cx="617.4" cy="103.7" r="2.0" fill="url(#holeg)"/><circle cx="625.2" cy="103.7" r="2.0" fill="url(#holeg)"/><circle cx="633.0" cy="103.7" r="2.0" fill="url(#holeg)"/><circle cx="640.8" cy="103.7" r="2.0" fill="url(#holeg)"/><circle cx="648.6" cy="103.7" r="2.0" fill="url(#holeg)"/><circle cx="656.4" cy="103.7" r="2.0" fill="url(#holeg)"/><circle cx="664.2" cy="103.7" r="2.0" fill="url(#holeg)"/><circle cx="672.0" cy="103.7" r="2.0" fill="url(#holeg)"/><circle cx="555.0" cy="111.5" r="2.0" fill="url(#holeg)"/><circle cx="562.8" cy="111.5" r="2.0" fill="url(#holeg)"/><circle cx="570.6" cy="111.5" r="2.0" fill="url(#holeg)"/><circle cx="578.4" cy="111.5" r="2.0" fill="url(#holeg)"/><circle cx="586.2" cy="111.5" r="2.0" fill="url(#holeg)"/><circle cx="594.0" cy="111.5" r="2.0" fill="url(#holeg)"/><circle cx="601.8" cy="111.5" r="2.0" fill="url(#holeg)"/><circle cx="609.6" cy="111.5" r="2.0" fill="url(#holeg)"/><circle cx="617.4" cy="111.5" r="2.0" fill="url(#holeg)"/><circle cx="625.2" cy="111.5" r="2.0" fill="url(#holeg)"/><circle cx="633.0" cy="111.5" r="2.0" fill="url(#holeg)"/><circle cx="640.8" cy="111.5" r="2.0" fill="url(#holeg)"/><circle cx="648.6" cy="111.5" r="2.0" fill="url(#holeg)"/><circle cx="656.4" cy="111.5" r="2.0" fill="url(#holeg)"/><circle cx="664.2" cy="111.5" r="2.0" fill="url(#holeg)"/><circle cx="672.0" cy="111.5" r="2.0" fill="url(#holeg)"/>
<rect x="540" y="43.4" width="140" height="1.4" fill="#3170d4"/>
<rect x="540" y="64.0" width="140" height="1.5" fill="#e23848"/>
<rect x="540" y="119.8" width="140" height="2.6" fill="#c3c0b8"/>
<rect x="540" y="122.4" width="140" height="7.5" fill="#cdcac2"/>
<text x="569" y="39.5" font-size="4.5" fill="#555" font-family="Liberation Sans" style="stroke:none">5</text>
</g>
<path d="M666,52.5 Q659,61 651.5,70 Q650.5,72.6 654,73.2 L666,73.4" fill="none" stroke="#d21f2c" stroke-width="1.3"/>
<path d="M650,75.5 L666,75.5" fill="none" stroke="#3a3a3a" stroke-width="0.9"/>
<circle cx="605.5" cy="77.2" r="44.5" fill="url(#ringg)"/>
<path d="M632,41 L640,45 L644,53 L650,56 L651,63 L646,61 Z" fill="#e9e9e9"/>
<path d="M577.5,58.4 L576.5,50 Q580,42 590,38.5 Q603,35.5 615,36.8 Q622,38.5 624.5,41.5 L625,52 Z" fill="#d3cec3"/>
<path d="M577,47.2 L598,47.5" stroke="#3a74d0" stroke-width="1.2"/>
<text x="606" y="42" font-size="4.5" fill="#555" font-family="Liberation Sans" style="stroke:none">15</text>
<defs><linearGradient id="xtal" x1="0" y1="0" x2="0.15" y2="1"><stop offset="0" stop-color="#6e645c"/><stop offset="0.45" stop-color="#8a7c70"/><stop offset="0.7" stop-color="#e0d6ca"/><stop offset="1" stop-color="#7d746c"/></linearGradient></defs>
<path d="M579,53.2 L612,46.0 L612.6,51.8 L579.6,59.0 Z" fill="url(#xtal)"/>
<path d="M612,45.3 L623.2,43.6 L624,50 L612.8,51.6 Z" fill="#1fa846"/>
<path d="M577.5,53.8 L580.4,53.6 L580.6,58.4 L577.6,58.6 Z" fill="#22a040"/>
<polygon points="573.9,68 631.8,55.8 636.9,82.9 579.4,94.9" fill="#353a34"/>
<polygon points="576.6,71.4 630.2,59.6 633.6,81.3 580.3,92.5" fill="#959d89"/>
<polygon points="598,94.5 616,90.8 616.3,92.4 598.3,96.1" fill="#2e302d"/>
<circle cx="565.5" cy="61" r="1.2" fill="#bdbdbd"/>
<circle cx="564.5" cy="68" r="1.2" fill="#bdbdbd"/>
<circle cx="582.8" cy="101.2" r="1.2" fill="#bdbdbd"/>
<circle cx="589" cy="101.2" r="1.2" fill="#bdbdbd"/>
<circle cx="595.7" cy="99.2" r="1.2" fill="#bdbdbd"/>
<circle cx="586.9" cy="106" r="1.2" fill="#bdbdbd"/>
<circle cx="591.6" cy="105.3" r="1.2" fill="#bdbdbd"/>
<circle cx="625.5" cy="92.4" r="1.2" fill="#bdbdbd"/>
<circle cx="631.6" cy="91.1" r="1.2" fill="#bdbdbd"/>
<circle cx="638.3" cy="89.1" r="1.2" fill="#bdbdbd"/>
<circle cx="630.9" cy="96.5" r="1.2" fill="#bdbdbd"/>
<circle cx="636.3" cy="95.2" r="1.2" fill="#bdbdbd"/>
<circle cx="610" cy="36.5" r="1.2" fill="#bdbdbd"/>
<circle cx="640" cy="50" r="1.2" fill="#bdbdbd"/>
<path d="M601.3,96.2 L620.3,93.6 L620.3,120 L601.3,120 Z" fill="#dcdcdf"/>
<path d="M601.3,96.2 L603.2,96 L603.2,120 L601.3,120 Z" fill="#c4c3c0"/>
<path d="M581,113.5 Q588,110 597,111.5 L601.3,114.5 L601.3,118 L620.3,118 L620.3,104.5 Q627,99 636,100.5 Q642,103 642.5,108 L637,117 Q627,125 614,127 L590,127 Q583,125 581.5,119 Z" fill="#e2e0da" stroke="#b4b2ac" stroke-width="0.8"/>
</g>
<text x="1.32" y="184.67" font-size="14.23" font-weight="bold" fill="#000" transform="scale(1.2862,1)">(c)</text>
<polyline points="43.60,286.39 43.77,282.42 43.93,281.30 44.10,286.48 44.27,285.78 44.43,279.51 44.60,288.11 44.77,287.81 44.93,280.79 45.10,284.00 45.27,286.53 45.43,285.24 45.60,283.56 45.77,287.05 45.93,287.91 46.10,281.60 46.27,282.96 46.43,284.65 46.60,282.39 46.77,284.96 46.94,281.76 47.10,289.67 47.27,286.93 47.44,288.01 47.60,289.84 47.77,288.12 47.94,291.90 48.10,287.39 48.27,287.36 48.44,294.17 48.60,291.32 48.77,293.49 48.94,295.78 49.10,288.74 49.27,292.91 49.44,294.89 49.60,289.29 49.77,292.75 49.94,285.37 50.10,290.23 50.27,290.39 50.44,287.45 50.60,284.94 50.77,282.95 50.94,278.63 51.10,280.43 51.27,283.77 51.44,287.08 51.60,286.39 51.77,279.73 51.94,284.98 52.10,283.27 52.27,289.09 52.44,289.28 52.61,281.88 52.77,283.84 52.94,286.13 53.11,285.91 53.27,287.90 53.44,287.17 53.61,288.97 53.77,282.32 53.94,286.21 54.11,289.88 54.27,285.08 54.44,290.53 54.61,292.16 54.77,287.70 54.94,285.42 55.11,293.59 55.27,287.03 55.44,293.09 55.61,294.52 55.77,295.66 55.94,293.51 56.11,290.06 56.27,292.28 56.44,289.05 56.61,294.03 56.77,292.13 56.94,291.38 57.11,283.53 57.27,282.49 57.44,286.57 57.61,284.41 57.77,284.55 57.94,280.08 58.11,286.15 58.28,286.15 58.44,283.60 58.61,285.38 58.78,280.51 58.94,281.93 59.11,284.18 59.28,283.40 59.44,283.24 59.61,282.32 59.78,280.81 59.94,287.47 60.11,283.06 60.28,287.29 60.44,284.85 60.61,281.99 60.78,281.39 60.94,283.12 61.11,290.39 61.28,288.18 61.44,290.54 61.61,283.81 61.78,292.15 61.94,291.74 62.11,291.15 62.28,294.13 62.44,287.29 62.61,289.74 62.78,294.58 62.94,291.91 63.11,295.96 63.28,291.24 63.44,294.48 63.61,295.97 63.78,294.71 63.95,289.87 64.11,287.80 64.28,289.08 64.45,285.24 64.61,286.53 64.78,287.34 64.95,284.70 65.11,283.27 65.28,278.18 65.45,285.33 65.61,285.96 65.78,282.18 65.95,279.01 66.11,279.94 66.28,282.16 66.45,288.22 66.61,281.63 66.78,282.80 66.95,287.57 67.11,284.58 67.28,288.22 67.45,281.27 67.61,282.25 67.78,281.79 67.95,282.79 68.11,287.89 68.28,284.11 68.45,289.65 68.61,291.26 68.78,289.60 68.95,289.23 69.11,291.57 69.28,289.07 69.45,289.47 69.62,293.06 69.78,290.09 69.95,292.91 70.12,289.97 70.28,294.31 70.45,289.82 70.62,293.02 70.78,291.60 70.95,289.64 71.12,290.09 71.28,291.17 71.45,283.28 71.62,289.84 71.78,286.27 71.95,283.29 72.12,287.08 72.28,285.48 72.45,279.46 72.62,279.76 72.78,281.30 72.95,279.42 73.12,281.15 73.28,285.72 73.45,282.69 73.62,285.76 73.78,282.12 73.95,285.65 74.12,287.56 74.28,280.82 74.45,282.37 74.62,281.96 74.78,283.97 74.95,282.57 75.12,286.09 75.29,285.51 75.45,290.62 75.62,286.81 75.79,285.37 75.95,286.99 76.12,286.73 76.29,289.96 76.45,287.01 76.62,294.46 76.79,288.12 76.95,293.03 77.12,295.80 77.29,291.34 77.45,293.07 77.62,293.30 77.79,289.31 77.95,295.26 78.12,290.00 78.29,290.60 78.45,288.27 78.62,287.34 78.79,289.28 78.95,284.61 79.12,280.42 79.29,285.81 79.45,286.67 79.62,286.28 79.79,283.06 79.95,278.88 80.12,287.76 80.29,279.67 80.45,284.20 80.62,288.34 80.79,285.72 80.96,287.66 81.12,282.92 81.29,284.40 81.46,286.32 81.62,286.56 81.79,281.45 81.96,282.50 82.12,285.55 82.29,286.28 82.46,283.93 82.62,282.45 82.79,290.95 82.96,290.87 83.12,289.61 83.29,288.70 83.46,293.07 83.62,293.83 83.79,293.11 83.96,292.07 84.12,289.35 84.29,290.98 84.46,296.52 84.62,296.45 84.79,292.55 84.96,288.47 85.12,287.61 85.29,291.33 85.46,285.25 85.62,283.31 85.79,286.55 85.96,282.22 86.12,284.41 86.29,285.37 86.46,281.05 86.63,285.08 86.79,280.23 86.96,279.44 87.13,279.33 87.29,284.11 87.46,287.60 87.63,281.15 87.79,281.97 87.96,281.22 88.13,284.44 88.29,283.41 88.46,285.93 88.63,287.33 88.79,286.23 88.96,282.43 89.13,286.32 89.29,283.32 89.46,285.59 89.63,286.87 89.79,283.08 89.96,290.89 90.13,288.77 90.29,292.10 90.46,285.73 90.63,290.15 90.79,292.04 90.96,293.74 91.13,290.41 91.29,292.47 91.46,295.35 91.63,296.39 91.79,293.46 91.96,291.42 92.13,291.61 92.30,287.35 92.46,286.18 92.63,284.60 92.80,284.40 92.96,285.87 93.13,284.42 93.30,284.52 93.46,283.76 93.63,286.51 93.80,279.90 93.96,285.26 94.13,287.63 94.30,284.20 94.46,282.35 94.63,285.11 94.80,286.01 94.96,283.78 95.13,287.99 95.30,288.94 95.46,283.41 95.63,283.63 95.80,280.62 95.96,284.76 96.13,281.72 96.30,289.22 96.46,289.51 96.63,285.15 96.80,289.31 96.96,291.47 97.13,291.68 97.30,289.98 97.46,290.91 97.63,289.44 97.80,286.72 97.97,291.77 98.13,293.88 98.30,290.76 98.47,296.44 98.63,293.39 98.80,294.28 98.97,293.74 99.13,296.19 99.30,291.30 99.47,289.84 99.63,287.55 99.80,284.25 99.97,288.34 100.13,284.13 100.30,284.72 100.47,285.54 100.63,278.87 100.80,279.86 100.97,278.48 101.13,279.87 101.30,279.45 101.47,286.83 101.63,288.56 101.80,287.41 101.97,285.78 102.13,283.67 102.30,285.75 102.47,284.60 102.63,282.00 102.80,288.16 102.97,282.61 103.13,288.26 103.30,286.91 103.47,282.93 103.64,283.79 103.80,286.82 103.97,288.29 104.14,284.41 104.30,290.05 104.47,292.84 104.64,291.41 104.80,293.85 104.97,287.57 105.14,294.12 105.30,286.94 105.47,294.40 105.64,293.86 105.80,291.37 105.97,293.94 106.14,293.04 106.30,294.83 106.47,291.60 106.64,293.66 106.80,290.68 106.97,283.13 107.14,287.49 107.30,286.57 107.47,282.04 107.64,279.56 107.80,284.59 107.97,283.69 108.14,277.06 108.30,274.12 108.47,272.10 108.64,270.99 108.80,268.32 108.97,263.59 109.14,260.13 109.31,254.48 109.47,249.93 109.64,246.24 109.81,245.70 109.97,243.81 110.14,245.32 110.31,246.56 110.47,247.00 110.64,247.11 110.81,244.35 110.97,240.61 111.14,238.03 111.31,234.30 111.47,230.35 111.64,227.10 111.81,225.18 111.97,221.67 112.14,216.21 112.31,223.42 112.47,227.28 112.64,235.12 112.81,239.14 112.97,244.19 113.14,248.39 113.31,253.39 113.47,261.22 113.64,264.80 113.81,269.10 113.97,272.95 114.14,272.66 114.31,275.81 114.47,276.49 114.64,281.41 114.81,282.34 114.98,283.57 115.14,282.76 115.31,283.21 115.48,283.88 115.64,284.87 115.81,284.56 115.98,285.36 116.14,283.83 116.31,285.69 116.48,285.97 116.64,286.93 116.81,286.66 116.98,280.16 117.14,285.67 117.31,280.91 117.48,283.73 117.64,280.25 117.81,288.21 117.98,281.83 118.14,284.05 118.31,286.58 118.48,285.80 118.64,286.30 118.81,289.25 118.98,287.93 119.14,292.24 119.31,294.70 119.48,289.29 119.64,291.59 119.81,287.98 119.98,294.18 120.14,289.53 120.31,287.95 120.48,288.34 120.65,286.90 120.81,292.99 120.98,291.86 121.15,289.83 121.31,287.41 121.48,288.23 121.65,286.78 121.81,287.05 121.98,278.49 122.15,283.41 122.31,281.04 122.48,282.74 122.65,280.94 122.81,281.00 122.98,285.46 123.15,284.27 123.31,288.44 123.48,286.68 123.65,287.18 123.81,286.29 123.98,285.94 124.15,283.22 124.31,285.23 124.48,285.29 124.65,281.33 124.81,289.29 124.98,290.04 125.15,290.41 125.31,283.92 125.48,286.64 125.65,286.63 125.81,285.18 125.98,292.36 126.15,286.35 126.32,292.78 126.48,290.66 126.65,289.53 126.82,288.93 126.98,294.27 127.15,292.45 127.32,296.34 127.48,293.78 127.65,287.14 127.82,286.91 127.98,288.77 128.15,285.73 128.32,283.36 128.48,287.19 128.65,280.08 128.82,283.83 128.98,285.87 129.15,282.02 129.32,281.49 129.48,280.74 129.65,281.34 129.82,287.42 129.98,282.64 130.15,280.59 130.32,282.85 130.48,280.13 130.65,284.25 130.82,281.36 130.98,287.12 131.15,280.27 131.32,284.39 131.48,280.34 131.65,285.43 131.82,283.38 131.99,282.03 132.15,284.01 132.32,285.57 132.49,283.34 132.65,291.92 132.82,292.31 132.99,289.04 133.15,286.10 133.32,288.98 133.49,292.89 133.65,295.10 133.82,292.54 133.99,292.59 134.15,293.01 134.32,291.95 134.49,294.82 134.65,288.99 134.82,293.68 134.99,294.27 135.15,290.96 135.32,284.30 135.49,289.64 135.65,287.13 135.82,279.97 135.99,284.19 136.15,279.19 136.32,286.11 136.49,278.61 136.65,284.77 136.82,285.81 136.99,281.55 137.15,279.86 137.32,280.70 137.49,282.82 137.66,281.59 137.82,280.72 137.99,284.60 138.16,288.05 138.32,281.46 138.49,285.44 138.66,286.30 138.82,284.73 138.99,289.39 139.16,289.97 139.32,288.48 139.49,285.92 139.66,285.14 139.82,283.95 139.99,285.85 140.16,285.16 140.32,288.53 140.49,288.04 140.66,289.87 140.82,294.63 140.99,295.59 141.16,289.71 141.32,294.98 141.49,289.92 141.66,292.83 141.82,296.26 141.99,290.54 142.16,290.65 142.32,292.96 142.49,289.84 142.66,288.22 142.82,286.66 142.99,281.93 143.16,285.86 143.33,283.06 143.49,281.61 143.66,278.52 143.83,286.26 143.99,287.12 144.16,286.46 144.33,286.77 144.49,287.87 144.66,288.80 144.83,287.41 144.99,287.13 145.16,284.63 145.33,282.81 145.49,285.01 145.66,286.75 145.83,287.33 145.99,286.09 146.16,287.39 146.33,285.31 146.49,282.48 146.66,284.44 146.83,290.03 146.99,292.29 147.16,292.53 147.33,289.79 147.49,290.98 147.66,288.61 147.83,294.40 147.99,293.40 148.16,290.07 148.33,291.33 148.49,291.96 148.66,288.73 148.83,295.51 149.00,294.32 149.16,290.28 149.33,289.22 149.50,284.27 149.66,283.10 149.83,285.10 150.00,282.27 150.16,281.78 150.33,286.20 150.50,281.63 150.66,283.94 150.83,283.91 151.00,286.13 151.16,288.03 151.33,281.15 151.50,282.69 151.66,282.67 151.83,286.89 152.00,285.61 152.16,287.68 152.33,283.49 152.50,281.22 152.66,281.40 152.83,280.03 153.00,286.35 153.16,282.78 153.33,288.50 153.50,285.42 153.66,290.20 153.83,287.22 154.00,287.64 154.16,290.06 154.33,290.50 154.50,287.85 154.67,290.58 154.83,291.84 155.00,294.82 155.17,293.75 155.33,289.03 155.50,288.50 155.67,294.08 155.83,289.67 156.00,289.31 156.17,294.36 156.33,292.87 156.50,288.10 156.67,290.15 156.83,282.83 157.00,286.60 157.17,281.90 157.33,281.12 157.50,284.90 157.67,278.90 157.83,283.64 158.00,286.01 158.17,287.25 158.33,284.38 158.50,283.24 158.67,287.18 158.83,282.20 159.00,287.40 159.17,282.17 159.33,289.35 159.50,286.75 159.67,287.39 159.83,284.77 160.00,285.73 160.17,285.37 160.34,281.76 160.50,284.82 160.67,285.09 160.84,287.67 161.00,284.68 161.17,287.75 161.34,286.01 161.50,284.93 161.67,288.26 161.84,290.34 162.00,292.39 162.17,287.15 162.34,288.92 162.50,289.22 162.67,294.81 162.84,293.05 163.00,289.04 163.17,294.29 163.34,288.57 163.50,289.90 163.67,291.31 163.84,288.23 164.00,289.50 164.17,282.89 164.34,281.26 164.50,286.79 164.67,283.86 164.84,279.64 165.00,284.96 165.17,282.38 165.34,281.06 165.50,283.62 165.67,288.12 165.84,281.51 166.01,282.98 166.17,284.57 166.34,286.42 166.51,283.81 166.67,285.52 166.84,287.53 167.01,287.52 167.17,288.51 167.34,287.66 167.51,287.58 167.67,284.68 167.84,285.98 168.01,286.73 168.17,285.25 168.34,292.26 168.51,290.26 168.67,293.31 168.84,290.88 169.01,294.31 169.17,294.98 169.34,294.92 169.51,292.64 169.67,290.26 169.84,295.61 170.01,291.63 170.17,296.49 170.34,295.82 170.51,293.76 170.67,296.79 170.84,292.81 171.01,290.81 171.17,287.39 171.34,293.08 171.51,286.25 171.68,288.14 171.84,288.00 172.01,293.04 172.18,286.60 172.34,292.80 172.51,291.15 172.68,292.55 172.84,290.31 173.01,293.64 173.18,290.64 173.34,298.02 173.51,294.68 173.68,295.44 173.84,296.20 174.01,295.61 174.18,296.49 174.34,298.93 174.51,296.46 174.68,301.98 174.84,298.92 175.01,300.01 175.18,302.82 175.34,300.17 175.51,299.78 175.68,305.26 175.84,304.03 176.01,306.82 176.18,302.69 176.34,308.04 176.51,306.96 176.68,305.34 176.84,305.93 177.01,310.21 177.18,302.02 177.35,308.20 177.51,304.19 177.68,306.89 177.85,302.27 178.01,303.41 178.18,302.64 178.35,300.41 178.51,298.34 178.68,297.60 178.85,296.36 179.01,300.07 179.18,301.59 179.35,300.70 179.51,300.76 179.68,298.42 179.85,300.26 180.01,301.47 180.18,303.44 180.35,299.21 180.51,303.44 180.68,299.76 180.85,297.83 181.01,297.99 181.18,302.31 181.35,300.58 181.51,295.66 181.68,303.76 181.85,298.92 182.01,302.00 182.18,301.16 182.35,304.21 182.51,307.50 182.68,304.46 182.85,310.56 183.02,303.53 183.18,304.53 183.35,309.24 183.52,308.40 183.68,309.14 183.85,305.84 184.02,314.88 184.18,312.95 184.35,312.00 184.52,308.41 184.68,308.62 184.85,310.59 185.02,313.27 185.18,306.42 185.35,307.40 185.52,308.95 185.68,303.38 185.85,303.94 186.02,304.45 186.18,304.47 186.35,302.14 186.52,304.67 186.68,303.66 186.85,298.88 187.02,303.35 187.18,305.41 187.35,302.66 187.52,298.90 187.68,298.82 187.85,299.71 188.02,297.31 188.18,298.20 188.35,298.76 188.52,300.68 188.69,303.41 188.85,298.88 189.02,300.32 189.19,298.08 189.35,304.57 189.52,300.08 189.69,306.70 189.85,300.67 190.02,300.71 190.19,309.48 190.35,307.27 190.52,301.27 190.69,301.75 190.85,304.82 191.02,309.86 191.19,310.81 191.35,308.46 191.52,302.23 191.69,302.96 191.85,305.48 192.02,301.48 192.19,299.35 192.35,303.18 192.52,296.86 192.69,301.16 192.85,299.79 193.02,301.34 193.19,299.73 193.35,296.11 193.52,301.08 193.69,296.47 193.85,300.44 194.02,295.59 194.19,301.53 194.36,300.85 194.52,300.01 194.69,297.22 194.86,295.05 195.02,295.17 195.19,293.60 195.36,292.60 195.52,292.45 195.69,293.00 195.86,293.68 196.02,287.00 196.19,290.62 196.36,287.89 196.52,292.82 196.69,290.39 196.86,292.83 197.02,290.55 197.19,286.90 197.36,289.75 197.52,285.97 197.69,290.02 197.86,287.40 198.02,287.32 198.19,286.77 198.36,289.26 198.52,285.28 198.69,283.66 198.86,284.14 199.02,290.84 199.19,286.12 199.36,286.15 199.52,282.63 199.69,286.07 199.86,279.57 200.03,281.40 200.19,276.57 200.36,285.06 200.53,281.86 200.69,282.36 200.86,279.88 201.03,281.13 201.19,286.83 201.36,286.06 201.53,282.68 201.69,285.33 201.86,286.43 202.03,280.22 202.19,280.79 202.36,284.88 202.53,283.27 202.69,279.89 202.86,286.84 203.03,280.97 203.19,281.60 203.36,283.69 203.53,284.74 203.69,285.55 203.86,287.45 204.03,287.64 204.19,291.59 204.36,288.64 204.53,288.24 204.69,290.64 204.86,289.43 205.03,292.08 205.19,289.17 205.36,290.24 205.53,296.07 205.70,289.75 205.86,293.55 206.03,294.49 206.20,292.98 206.36,289.94 206.53,286.84 206.70,287.37 206.86,287.21 207.03,280.84 207.20,283.83 207.36,279.02 207.53,284.61 207.70,281.01 207.86,284.41 208.03,280.28 208.20,282.77 208.36,282.82 208.53,288.56 208.70,282.70 208.86,286.19 209.03,282.65 209.20,281.37 209.36,287.47 209.53,288.17 209.70,281.39 209.86,279.91 210.03,280.74 210.20,285.58 210.36,282.64 210.53,290.46 210.70,290.84 210.86,287.04 211.03,288.40 211.20,286.16 211.37,291.93 211.53,290.59 211.70,286.31 211.87,292.92 212.03,292.41 212.20,291.09 212.37,287.74 212.53,295.02 212.70,290.57 212.87,292.59 213.03,291.96 213.20,292.17 213.37,289.16 213.53,287.00 213.70,287.20 213.87,284.93 214.03,282.59 214.20,279.79" fill="none" stroke="#000000" stroke-width="1.5" stroke-linejoin="round"/>
<polyline points="252.80,288.37 252.97,288.06 253.13,284.22 253.30,287.86 253.46,290.07 253.63,286.00 253.80,288.01 253.96,286.70 254.13,287.35 254.30,289.19 254.46,284.71 254.63,286.31 254.79,283.47 254.96,291.01 255.13,287.51 255.29,289.11 255.46,289.58 255.62,288.10 255.79,292.01 255.96,291.32 256.12,293.51 256.29,291.00 256.45,292.34 256.62,295.54 256.79,294.54 256.95,293.67 257.12,292.89 257.29,296.12 257.45,292.32 257.62,290.57 257.78,293.31 257.95,294.23 258.12,292.61 258.28,287.12 258.45,287.61 258.61,289.34 258.78,288.23 258.95,282.68 259.11,283.16 259.28,282.89 259.45,286.92 259.61,281.26 259.78,287.05 259.94,286.86 260.11,288.07 260.28,283.28 260.44,285.73 260.61,286.36 260.77,287.26 260.94,285.15 261.11,286.69 261.27,286.58 261.44,288.64 261.60,283.92 261.77,289.61 261.94,284.06 262.10,284.41 262.27,287.68 262.44,290.74 262.60,291.01 262.77,292.12 262.93,288.53 263.10,291.34 263.27,287.04 263.43,292.00 263.60,292.63 263.76,290.69 263.93,289.61 264.10,292.38 264.26,295.54 264.43,295.16 264.60,291.15 264.76,290.44 264.93,288.15 265.09,290.17 265.26,287.45 265.43,287.19 265.59,286.98 265.76,283.88 265.92,287.42 266.09,287.38 266.26,286.18 266.42,285.70 266.59,281.99 266.75,283.21 266.92,284.16 267.09,283.27 267.25,287.40 267.42,283.43 267.59,283.73 267.75,288.66 267.92,286.87 268.08,286.91 268.25,287.58 268.42,281.97 268.58,286.27 268.75,283.08 268.91,285.25 269.08,289.68 269.25,287.59 269.41,285.89 269.58,289.85 269.74,290.50 269.91,292.48 270.08,289.95 270.24,286.87 270.41,293.82 270.58,287.99 270.74,290.56 270.91,293.17 271.07,289.21 271.24,289.64 271.41,289.51 271.57,293.21 271.74,293.32 271.90,291.15 272.07,288.73 272.24,291.46 272.40,290.52 272.57,288.73 272.74,290.10 272.90,283.17 273.07,285.21 273.23,284.76 273.40,283.32 273.57,282.30 273.73,283.17 273.90,286.30 274.06,287.19 274.23,287.40 274.40,286.46 274.56,284.81 274.73,290.51 274.89,286.23 275.06,284.29 275.23,286.49 275.39,287.62 275.56,286.82 275.73,286.67 275.89,286.16 276.06,290.33 276.22,285.77 276.39,287.95 276.56,290.48 276.72,286.47 276.89,290.56 277.05,288.40 277.22,292.20 277.39,290.79 277.55,293.64 277.72,293.36 277.89,293.37 278.05,295.02 278.22,290.79 278.38,293.32 278.55,294.09 278.72,292.46 278.88,294.57 279.05,292.73 279.21,291.15 279.38,289.78 279.55,290.05 279.71,286.43 279.88,284.36 280.04,282.61 280.21,284.69 280.38,281.33 280.54,281.08 280.71,282.99 280.88,287.01 281.04,283.84 281.21,285.36 281.37,284.73 281.54,288.38 281.71,283.30 281.87,287.99 282.04,283.36 282.20,288.34 282.37,286.77 282.54,285.06 282.70,287.76 282.87,286.69 283.04,285.07 283.20,285.02 283.37,284.14 283.53,287.23 283.70,285.03 283.87,290.31 284.03,288.76 284.20,288.39 284.36,293.70 284.53,289.03 284.70,289.14 284.86,291.33 285.03,289.23 285.19,291.06 285.36,293.87 285.53,290.94 285.69,293.07 285.86,291.69 286.03,288.96 286.19,290.29 286.36,288.98 286.52,287.59 286.69,290.77 286.86,290.98 287.02,289.39 287.19,285.71 287.35,281.58 287.52,285.34 287.69,281.97 287.85,286.68 288.02,287.91 288.19,286.64 288.35,283.83 288.52,283.37 288.68,286.62 288.85,287.86 289.02,284.63 289.18,286.99 289.35,287.65 289.51,284.35 289.68,288.79 289.85,283.68 290.01,282.55 290.18,288.97 290.34,284.42 290.51,290.47 290.68,290.08 290.84,289.51 291.01,284.95 291.18,292.48 291.34,290.03 291.51,290.56 291.67,292.88 291.84,287.70 292.01,293.38 292.17,289.06 292.34,291.90 292.50,291.11 292.67,290.98 292.84,291.64 293.00,290.67 293.17,289.82 293.33,294.35 293.50,293.67 293.67,290.21 293.83,291.50 294.00,286.82 294.17,283.27 294.33,285.60 294.50,287.38 294.66,287.34 294.83,284.48 295.00,283.46 295.16,283.15 295.33,284.03 295.49,286.68 295.66,283.98 295.83,286.31 295.99,285.28 296.16,290.04 296.33,286.16 296.49,288.46 296.66,287.56 296.82,286.92 296.99,284.92 297.16,289.12 297.32,285.04 297.49,287.88 297.65,289.73 297.82,285.15 297.99,287.95 298.15,290.82 298.32,292.80 298.48,290.68 298.65,288.74 298.82,291.04 298.98,292.74 299.15,294.71 299.32,294.27 299.48,290.56 299.65,295.48 299.81,289.79 299.98,291.38 300.15,293.46 300.31,294.46 300.48,292.05 300.64,287.33 300.81,292.12 300.98,289.99 301.14,289.70 301.31,284.04 301.48,281.79 301.64,284.21 301.81,285.83 301.97,280.91 302.14,283.90 302.31,281.66 302.47,286.50 302.64,286.08 302.80,285.73 302.97,284.74 303.14,283.82 303.30,282.51 303.47,282.61 303.63,281.22 303.80,277.86 303.97,276.77 304.13,274.84 304.30,272.47 304.47,270.96 304.63,270.12 304.80,266.57 304.96,266.59 305.13,264.73 305.30,261.71 305.46,260.01 305.63,259.69 305.79,259.49 305.96,261.86 306.13,261.89 306.29,261.70 306.46,262.75 306.63,264.38 306.79,265.02 306.96,266.46 307.12,268.62 307.29,268.26 307.46,269.98 307.62,271.14 307.79,271.42 307.95,273.49 308.12,275.17 308.29,273.92 308.45,272.28 308.62,270.19 308.78,268.93 308.95,268.66 309.12,267.12 309.28,266.84 309.45,264.10 309.62,262.38 309.78,259.06 309.95,252.90 310.11,248.97 310.28,242.18 310.45,237.33 310.61,231.72 310.78,228.93 310.94,225.62 311.11,221.09 311.28,218.73 311.44,213.33 311.61,211.22 311.78,207.82 311.94,209.63 312.11,211.22 312.27,215.68 312.44,217.70 312.61,221.18 312.77,222.66 312.94,229.46 313.10,235.17 313.27,239.84 313.44,246.50 313.60,253.50 313.77,257.47 313.93,264.15 314.10,267.11 314.27,269.41 314.43,273.07 314.60,275.34 314.77,279.11 314.93,282.87 315.10,283.17 315.26,283.15 315.43,287.49 315.60,284.24 315.76,284.07 315.93,282.88 316.09,285.59 316.26,286.97 316.43,284.47 316.59,283.44 316.76,286.72 316.92,289.56 317.09,284.89 317.26,287.05 317.42,285.83 317.59,289.66 317.76,284.27 317.92,286.93 318.09,283.41 318.25,288.08 318.42,289.92 318.59,288.15 318.75,285.68 318.92,286.37 319.08,286.03 319.25,291.10 319.42,288.89 319.58,292.97 319.75,292.21 319.92,293.93 320.08,290.08 320.25,288.54 320.41,291.02 320.58,291.25 320.75,289.71 320.91,294.08 321.08,292.63 321.24,290.87 321.41,295.02 321.58,290.87 321.74,294.68 321.91,291.53 322.07,291.90 322.24,289.00 322.41,289.55 322.57,289.44 322.74,285.81 322.91,285.62 323.07,282.97 323.24,288.02 323.40,283.86 323.57,288.23 323.74,285.42 323.90,289.02 324.07,283.10 324.23,286.24 324.40,286.40 324.57,289.20 324.73,284.09 324.90,287.80 325.07,286.50 325.23,284.56 325.40,284.22 325.56,287.17 325.73,289.98 325.90,284.04 326.06,289.84 326.23,291.98 326.39,288.28 326.56,286.91 326.73,293.20 326.89,294.07 327.06,289.96 327.22,291.06 327.39,293.47 327.56,293.89 327.72,290.54 327.89,296.13 328.06,294.75 328.22,294.03 328.39,290.93 328.55,294.11 328.72,295.59 328.89,289.64 329.05,288.96 329.22,291.91 329.38,286.53 329.55,286.09 329.72,286.64 329.88,284.33 330.05,284.26 330.22,282.02 330.38,281.13 330.55,285.81 330.71,287.90 330.88,286.35 331.05,285.27 331.21,288.25 331.38,289.23 331.54,288.75 331.71,283.87 331.88,284.61 332.04,288.60 332.21,287.27 332.37,287.50 332.54,288.75 332.71,284.01 332.87,288.20 333.04,286.85 333.21,288.75 333.37,291.61 333.54,292.27 333.70,288.26 333.87,289.04 334.04,290.42 334.20,292.92 334.37,292.37 334.53,291.61 334.70,294.19 334.87,291.95 335.03,290.62 335.20,295.61 335.37,290.33 335.53,292.98 335.70,289.07 335.86,288.34 336.03,293.84 336.20,288.45 336.36,290.45 336.53,286.37 336.69,283.18 336.86,285.52 337.03,283.55 337.19,283.22 337.36,286.56 337.52,285.27 337.69,286.53 337.86,285.60 338.02,284.17 338.19,288.99 338.36,286.25 338.52,286.80 338.69,287.54 338.85,284.09 339.02,287.40 339.19,283.96 339.35,289.11 339.52,286.49 339.68,288.98 339.85,284.16 340.02,285.84 340.18,289.85 340.35,289.46 340.51,291.70 340.68,286.84 340.85,287.32 341.01,287.84 341.18,290.43 341.35,293.15 341.51,292.40 341.68,291.27 341.84,293.35 342.01,296.24 342.18,293.07 342.34,296.03 342.51,294.91 342.67,290.54 342.84,291.45 343.01,289.12 343.17,288.82 343.34,287.88 343.51,289.66 343.67,285.29 343.84,288.83 344.00,288.92 344.17,285.90 344.34,287.22 344.50,283.48 344.67,286.75 344.83,288.75 345.00,283.89 345.17,283.30 345.33,285.01 345.50,283.41 345.66,284.62 345.83,283.10 346.00,284.76 346.16,283.64 346.33,283.50 346.50,288.42 346.66,286.83 346.83,285.00 346.99,287.34 347.16,283.97 347.33,290.42 347.49,290.38 347.66,289.62 347.82,290.06 347.99,286.91 348.16,293.31 348.32,287.97 348.49,287.21 348.66,294.25 348.82,288.15 348.99,290.80 349.15,294.93 349.32,290.25 349.49,295.55 349.65,293.60 349.82,294.31 349.98,292.91 350.15,293.65 350.32,291.05 350.48,288.51 350.65,288.09 350.81,286.41 350.98,282.68 351.15,282.27 351.31,287.01 351.48,282.53 351.65,282.45 351.81,281.89 351.98,286.24 352.14,282.92 352.31,285.97 352.48,286.99 352.64,286.89 352.81,287.76 352.97,285.71 353.14,286.72 353.31,284.19 353.47,286.76 353.64,289.67 353.81,289.13 353.97,287.52 354.14,287.59 354.30,285.61 354.47,287.61 354.64,291.12 354.80,290.84 354.97,289.85 355.13,288.42 355.30,289.35 355.47,290.03 355.63,292.93 355.80,290.87 355.96,293.50 356.13,295.18 356.30,290.42 356.46,291.33 356.63,289.03 356.80,290.70 356.96,294.18 357.13,295.08 357.29,291.35 357.46,290.91 357.63,288.33 357.79,288.02 357.96,289.14 358.12,288.23 358.29,285.59 358.46,283.42 358.62,286.42 358.79,286.86 358.96,286.80 359.12,283.70 359.29,284.04 359.45,286.32 359.62,289.61 359.79,283.29 359.95,283.90 360.12,287.91 360.28,289.67 360.45,286.08 360.62,288.15 360.78,286.87 360.95,286.92 361.11,287.81 361.28,283.98 361.45,288.08 361.61,290.61 361.78,287.73 361.95,286.13 362.11,291.56 362.28,289.88 362.44,291.43 362.61,289.80 362.78,292.78 362.94,293.69 363.11,289.03 363.27,290.72 363.44,291.99 363.61,292.38 363.77,290.43 363.94,296.44 364.10,293.08 364.27,291.00 364.44,293.47 364.60,286.18 364.77,286.84 364.94,285.02 365.10,282.39 365.27,284.28 365.43,281.31 365.60,284.97 365.77,281.07 365.93,284.31 366.10,282.89 366.26,287.19 366.43,286.11 366.60,286.02 366.76,286.75 366.93,283.89 367.10,287.08 367.26,284.03 367.43,289.35 367.59,288.22 367.76,288.32 367.93,288.63 368.09,285.87 368.26,289.46 368.42,285.62 368.59,284.72 368.76,285.02 368.92,291.69 369.09,290.93 369.25,289.94 369.42,293.18 369.59,289.01 369.75,291.10 369.92,291.67 370.09,294.06 370.25,294.92 370.42,289.72 370.58,292.04 370.75,294.08 370.92,290.18 371.08,295.24 371.25,292.58 371.41,294.25 371.58,288.08 371.75,286.25 371.91,289.11 372.08,284.10 372.25,282.13 372.41,286.62 372.58,280.89 372.74,285.21 372.91,282.76 373.08,284.30 373.24,286.15 373.41,285.14 373.57,289.98 373.74,286.66 373.91,286.85 374.07,286.07 374.24,285.00 374.40,283.98 374.57,284.46 374.74,283.78 374.90,286.99 375.07,288.93 375.24,285.42 375.40,290.10 375.57,284.02 375.73,288.11 375.90,290.30 376.07,292.51 376.23,287.14 376.40,287.99 376.56,293.23 376.73,289.03 376.90,294.49 377.06,290.65 377.23,292.23 377.40,291.80 377.56,295.67 377.73,291.41 377.89,291.70 378.06,291.70 378.23,294.52 378.39,295.18 378.56,292.61 378.72,290.80 378.89,289.45 379.06,290.81 379.22,288.83 379.39,287.95 379.55,288.08 379.72,287.25 379.89,290.13 380.05,290.73 380.22,290.73 380.39,288.12 380.55,287.47 380.72,292.94 380.88,291.26 381.05,292.03 381.22,290.19 381.38,296.61 381.55,292.69 381.71,291.29 381.88,290.49 382.05,294.90 382.21,294.68 382.38,292.27 382.55,292.22 382.71,297.80 382.88,293.80 383.04,299.98 383.21,301.15 383.38,301.87 383.54,301.83 383.71,302.20 383.87,301.82 384.04,301.92 384.21,297.86 384.37,299.71 384.54,305.13 384.70,304.84 384.87,301.74 385.04,302.86 385.20,304.26 385.37,304.31 385.54,301.69 385.70,303.01 385.87,300.74 386.03,305.07 386.20,303.50 386.37,302.13 386.53,298.52 386.70,298.02 386.86,295.97 387.03,296.14 387.20,297.08 387.36,300.78 387.53,303.26 387.69,298.14 387.86,298.41 388.03,305.51 388.19,306.12 388.36,304.79 388.53,303.24 388.69,300.61 388.86,302.59 389.02,301.19 389.19,300.10 389.36,304.92 389.52,304.39 389.69,300.03 389.85,303.65 390.02,304.96 390.19,305.13 390.35,305.81 390.52,305.05 390.69,304.66 390.85,306.79 391.02,306.82 391.18,307.71 391.35,310.24 391.52,306.38 391.68,310.74 391.85,310.15 392.01,309.53 392.18,307.86 392.35,305.49 392.51,308.58 392.68,305.79 392.84,305.95 393.01,304.75 393.18,299.52 393.34,300.54 393.51,303.76 393.68,296.66 393.84,299.32 394.01,296.10 394.17,302.81 394.34,297.62 394.51,300.50 394.67,301.77 394.84,303.47 395.00,301.27 395.17,303.21 395.34,306.00 395.50,309.27 395.67,312.52 395.84,315.37 396.00,319.90 396.17,319.90 396.33,319.90 396.50,318.07 396.67,314.25 396.83,316.94 397.00,313.62 397.16,312.25 397.33,306.54 397.50,307.27 397.66,305.21 397.83,305.16 397.99,298.27 398.16,295.10 398.33,298.81 398.49,295.63 398.66,293.60 398.83,293.32 398.99,297.02 399.16,299.23 399.32,294.46 399.49,294.46 399.66,296.44 399.82,291.64 399.99,292.57 400.15,292.88 400.32,291.95 400.49,294.71 400.65,287.51 400.82,286.41 400.99,292.03 401.15,287.37 401.32,288.71 401.48,290.34 401.65,289.18 401.82,292.80 401.98,291.35 402.15,291.63 402.31,289.01 402.48,290.04 402.65,293.68 402.81,291.49 402.98,290.65 403.14,290.40 403.31,287.42 403.48,287.29 403.64,286.71 403.81,287.30 403.98,291.03 404.14,291.18 404.31,291.73 404.47,292.88 404.64,296.74 404.81,296.24 404.97,291.70 405.14,292.24 405.30,295.90 405.47,297.25 405.64,294.61 405.80,292.64 405.97,298.71 406.14,294.92 406.30,298.15 406.47,297.76 406.63,296.25 406.80,297.59 406.97,292.54 407.13,296.54 407.30,292.93 407.46,290.58 407.63,288.58 407.80,289.93 407.96,291.46 408.13,285.35 408.29,283.58 408.46,289.49 408.63,282.63 408.79,284.46 408.96,284.39 409.13,285.36 409.29,286.29 409.46,282.66 409.62,280.08 409.79,285.37 409.96,280.82 410.12,279.31 410.29,276.31 410.45,282.59 410.62,279.98 410.79,281.66 410.95,280.55 411.12,276.22 411.28,281.74 411.45,280.33 411.62,277.10 411.78,277.74 411.95,276.27 412.12,282.54 412.28,283.55 412.45,283.09 412.61,281.88 412.78,281.38 412.95,286.37 413.11,283.57 413.28,286.93 413.44,282.21 413.61,285.14 413.78,288.21 413.94,283.13 414.11,285.42 414.28,282.75 414.44,283.54 414.61,280.17 414.77,283.74 414.94,278.05 415.11,284.62 415.27,281.76 415.44,283.47 415.60,277.60 415.77,285.00 415.94,283.73 416.10,283.66 416.27,286.01 416.43,280.45 416.60,281.35 416.77,283.07 416.93,283.73 417.10,285.10 417.27,284.99 417.43,283.26 417.60,281.79 417.76,280.42 417.93,285.11 418.10,281.16 418.26,283.26 418.43,287.33 418.59,288.91 418.76,289.57 418.93,283.05 419.09,288.46 419.26,290.24 419.43,286.37 419.59,289.39 419.76,285.22 419.92,287.52 420.09,286.01 420.26,288.07 420.42,287.60 420.59,289.63 420.75,289.56 420.92,286.81 421.09,290.66 421.25,290.35 421.42,283.61 421.58,286.64 421.75,284.38 421.92,285.30 422.08,282.30 422.25,281.88 422.42,285.75 422.58,281.62 422.75,285.17 422.91,283.75 423.08,284.78" fill="none" stroke="#ff0000" stroke-width="1.25" stroke-linejoin="round"/>
<polyline points="462.10,288.49 462.27,285.23 462.43,284.60 462.60,285.93 462.77,282.42 462.93,287.00 463.10,288.08 463.27,289.10 463.43,285.96 463.60,286.12 463.77,286.93 463.93,289.21 464.10,293.77 464.27,291.52 464.43,293.59 464.60,293.03 464.76,295.14 464.93,290.59 465.10,294.08 465.26,291.90 465.43,288.82 465.60,293.73 465.76,292.58 465.93,291.86 466.10,292.16 466.26,287.18 466.43,286.16 466.60,284.80 466.76,281.27 466.93,283.74 467.10,283.47 467.26,281.60 467.43,282.18 467.60,285.04 467.76,285.07 467.93,287.16 468.10,286.35 468.26,286.57 468.43,286.00 468.60,287.91 468.76,285.17 468.93,287.32 469.10,287.37 469.26,287.73 469.43,284.38 469.59,290.07 469.76,283.88 469.93,290.53 470.09,287.89 470.26,291.12 470.43,288.49 470.59,287.76 470.76,291.12 470.93,291.68 471.09,288.42 471.26,291.76 471.43,293.44 471.59,294.44 471.76,289.98 471.93,290.39 472.09,292.18 472.26,289.79 472.43,291.32 472.59,285.53 472.76,283.33 472.93,283.67 473.09,283.16 473.26,287.03 473.43,281.41 473.59,284.09 473.76,282.41 473.93,283.91 474.09,283.38 474.26,284.11 474.42,284.76 474.59,285.57 474.76,287.67 474.92,287.69 475.09,282.85 475.26,283.77 475.42,287.76 475.59,288.96 475.76,283.96 475.92,290.71 476.09,287.07 476.26,287.09 476.42,289.87 476.59,286.86 476.76,289.02 476.92,286.87 477.09,289.53 477.26,291.01 477.42,294.85 477.59,289.40 477.76,295.18 477.92,294.04 478.09,291.10 478.26,290.34 478.42,287.97 478.59,286.65 478.76,285.77 478.92,285.40 479.09,287.04 479.25,283.39 479.42,286.84 479.59,285.45 479.75,280.71 479.92,283.36 480.09,281.87 480.25,287.56 480.42,285.14 480.59,288.35 480.75,284.77 480.92,282.98 481.09,286.27 481.25,288.91 481.42,286.48 481.59,288.01 481.75,285.74 481.92,283.42 482.09,282.62 482.25,288.32 482.42,290.02 482.59,291.37 482.75,290.18 482.92,291.29 483.09,292.17 483.25,287.70 483.42,292.52 483.59,293.93 483.75,294.32 483.92,290.52 484.08,292.96 484.25,293.43 484.42,290.78 484.58,291.02 484.75,291.50 484.92,289.05 485.08,290.12 485.25,288.12 485.42,285.12 485.58,288.52 485.75,284.98 485.92,285.08 486.08,285.58 486.25,284.61 486.42,284.05 486.58,284.21 486.75,284.30 486.92,286.03 487.08,290.65 487.25,288.93 487.42,285.65 487.58,289.15 487.75,285.58 487.92,289.29 488.08,283.25 488.25,288.43 488.42,286.82 488.58,289.73 488.75,290.12 488.91,288.51 489.08,288.72 489.25,286.77 489.41,291.99 489.58,287.69 489.75,292.63 489.91,291.74 490.08,288.08 490.25,291.54 490.41,293.86 490.58,292.61 490.75,289.82 490.91,289.12 491.08,293.96 491.25,289.92 491.41,289.79 491.58,290.67 491.75,287.03 491.91,286.98 492.08,283.01 492.25,287.92 492.41,284.65 492.58,285.67 492.75,285.93 492.91,286.25 493.08,282.70 493.25,284.78 493.41,287.08 493.58,287.44 493.75,286.57 493.91,282.90 494.08,285.12 494.24,282.43 494.41,287.91 494.58,285.90 494.74,284.98 494.91,284.77 495.08,290.42 495.24,288.69 495.41,285.91 495.58,288.04 495.74,291.68 495.91,290.16 496.08,290.05 496.24,294.21 496.41,291.65 496.58,291.73 496.74,288.72 496.91,291.94 497.08,291.98 497.24,294.67 497.41,294.09 497.58,289.79 497.74,287.07 497.91,288.67 498.08,284.78 498.24,287.10 498.41,285.15 498.58,283.16 498.74,284.94 498.91,284.24 499.07,282.95 499.24,287.57 499.41,284.65 499.57,283.02 499.74,284.18 499.91,287.51 500.07,285.22 500.24,288.65 500.41,284.28 500.57,284.25 500.74,288.16 500.91,287.17 501.07,286.12 501.24,286.32 501.41,287.12 501.57,286.85 501.74,286.91 501.91,290.09 502.07,293.72 502.24,288.48 502.41,294.20 502.57,291.42 502.74,290.52 502.91,290.22 503.07,292.41 503.24,291.55 503.41,288.74 503.57,289.47 503.74,292.05 503.90,286.15 504.07,286.51 504.24,287.74 504.40,286.73 504.57,284.69 504.74,283.71 504.90,281.25 505.07,284.23 505.24,282.85 505.40,286.01 505.57,285.72 505.74,287.23 505.90,286.91 506.07,284.81 506.24,288.24 506.40,286.27 506.57,284.21 506.74,289.17 506.90,286.18 507.07,283.80 507.24,285.25 507.40,284.70 507.57,289.32 507.74,287.09 507.90,289.88 508.07,292.20 508.24,287.81 508.40,291.94 508.57,289.52 508.73,289.50 508.90,289.70 509.07,293.67 509.23,290.45 509.40,294.72 509.57,291.56 509.73,295.90 509.90,289.65 510.07,293.84 510.23,288.25 510.40,287.29 510.57,290.12 510.73,285.23 510.90,283.15 511.07,281.96 511.23,280.60 511.40,286.18 511.57,285.09 511.73,285.85 511.90,284.46 512.07,288.37 512.23,285.86 512.40,288.40 512.57,288.56 512.73,284.36 512.90,285.68 513.07,283.95 513.23,284.73 513.40,283.42 513.56,286.46 513.73,290.58 513.90,284.17 514.06,290.26 514.23,286.43 514.40,291.26 514.56,289.34 514.73,291.40 514.90,289.50 515.06,293.99 515.23,294.44 515.40,292.17 515.56,289.71 515.73,292.86 515.90,295.58 516.06,289.41 516.23,294.98 516.40,292.58 516.56,289.66 516.73,290.31 516.90,285.82 517.06,286.68 517.23,283.14 517.40,287.38 517.56,281.58 517.73,281.23 517.90,286.05 518.06,286.86 518.23,282.81 518.39,286.65 518.56,287.13 518.73,285.75 518.89,285.98 519.06,283.97 519.23,285.03 519.39,284.82 519.56,286.58 519.73,286.22 519.89,284.11 520.06,284.31 520.23,286.63 520.39,287.45 520.56,289.87 520.73,288.94 520.89,291.39 521.06,289.69 521.23,293.13 521.39,292.18 521.56,292.33 521.73,291.75 521.89,290.80 522.06,286.59 522.23,284.06 522.39,283.24 522.56,285.52 522.73,285.37 522.89,285.03 523.06,282.29 523.22,282.75 523.39,283.72 523.56,282.87 523.72,281.31 523.89,282.09 524.06,278.47 524.22,280.45 524.39,277.35 524.56,280.06 524.72,278.33 524.89,275.44 525.06,278.27 525.22,278.33 525.39,274.57 525.56,274.32 525.72,275.16 525.89,276.28 526.06,275.17 526.22,274.12 526.39,271.53 526.56,274.18 526.72,271.53 526.89,270.55 527.06,269.09 527.22,269.12 527.39,269.58 527.56,268.52 527.72,267.59 527.89,266.33 528.05,265.74 528.22,265.89 528.39,261.46 528.55,261.53 528.72,258.80 528.89,258.48 529.05,256.27 529.22,252.35 529.39,254.80 529.55,250.56 529.72,250.68 529.89,245.71 530.05,244.51 530.22,242.69 530.39,240.90 530.55,241.19 530.72,238.74 530.89,235.24 531.05,235.36 531.22,233.76 531.39,235.01 531.55,237.11 531.72,237.68 531.89,238.44 532.05,239.75 532.22,237.16 532.39,234.59 532.55,231.91 532.72,228.23 532.88,227.62 533.05,225.07 533.22,222.20 533.38,219.72 533.55,217.51 533.72,217.01 533.88,216.11 534.05,214.13 534.22,215.12 534.38,211.07 534.55,211.80 534.72,207.68 534.88,206.35 535.05,206.00 535.22,203.35 535.38,205.69 535.55,203.15 535.72,198.47 535.88,196.78 536.05,194.58 536.22,187.73 536.38,187.06 536.55,188.18 536.72,193.43 536.88,194.92 537.05,200.20 537.22,200.84 537.38,203.03 537.55,205.11 537.71,207.38 537.88,208.01 538.05,211.85 538.21,211.51 538.38,214.62 538.55,217.03 538.71,217.22 538.88,217.13 539.05,221.06 539.21,220.00 539.38,223.60 539.55,224.92 539.71,228.57 539.88,230.05 540.05,229.85 540.21,231.54 540.38,239.69 540.55,243.38 540.71,248.03 540.88,253.62 541.05,258.63 541.21,266.33 541.38,267.14 541.55,271.85 541.71,276.04 541.88,277.27 542.05,278.50 542.21,282.03 542.38,282.99 542.54,280.56 542.71,282.50 542.88,285.26 543.04,286.44 543.21,286.78 543.38,286.98 543.54,283.82 543.71,284.78 543.88,287.15 544.04,287.19 544.21,286.85 544.38,283.61 544.54,282.55 544.71,289.44 544.88,289.20 545.04,285.23 545.21,289.60 545.38,287.59 545.54,286.84 545.71,288.54 545.88,291.46 546.04,291.30 546.21,289.98 546.38,293.08 546.54,287.85 546.71,293.30 546.88,289.22 547.04,294.20 547.21,291.99 547.38,290.14 547.54,290.99 547.71,294.22 547.87,292.82 548.04,290.90 548.21,288.83 548.37,284.35 548.54,287.44 548.71,286.42 548.87,284.17 549.04,286.32 549.21,281.95 549.37,288.06 549.54,283.17 549.71,282.45 549.87,287.26 550.04,284.48 550.21,284.80 550.37,284.36 550.54,284.97 550.71,285.37 550.87,287.29 551.04,286.18 551.21,288.46 551.37,284.82 551.54,286.22 551.71,290.31 551.87,290.72 552.04,289.70 552.21,291.47 552.37,291.90 552.54,288.30 552.70,292.06 552.87,294.63 553.04,288.98 553.20,289.06 553.37,290.26 553.54,293.36 553.70,289.67 553.87,290.07 554.04,291.37 554.20,290.07 554.37,288.57 554.54,288.40 554.70,284.78 554.87,283.62 555.04,283.19 555.20,282.83 555.37,283.96 555.54,285.00 555.70,280.70 555.87,284.11 556.04,282.26 556.20,287.72 556.37,288.54 556.54,284.75 556.70,285.29 556.87,286.70 557.04,285.64 557.20,282.62 557.37,284.35 557.53,285.29 557.70,287.64 557.87,288.79 558.03,287.77 558.20,288.94 558.37,286.90 558.53,285.49 558.70,286.88 558.87,291.37 559.03,291.63 559.20,289.79 559.37,288.37 559.53,292.72 559.70,293.16 559.87,292.09 560.03,289.96 560.20,292.13 560.37,294.91 560.53,289.50 560.70,286.97 560.87,287.20 561.03,290.60 561.20,287.76 561.37,284.92 561.53,284.63 561.70,287.41 561.87,285.88 562.03,285.19 562.20,284.88 562.36,281.81 562.53,284.11 562.70,285.77 562.86,289.57 563.03,289.25 563.20,283.70 563.36,285.29 563.53,284.26 563.70,288.20 563.86,282.44 564.03,286.11 564.20,286.11 564.36,285.89 564.53,286.86 564.70,286.34 564.86,290.71 565.03,292.27 565.20,289.97 565.36,287.92 565.53,288.47 565.70,291.69 565.86,289.69 566.03,289.65 566.20,289.80 566.36,288.78 566.53,292.34 566.70,290.10 566.86,287.95 567.03,291.59 567.19,285.29 567.36,288.50 567.53,285.19 567.69,287.91 567.86,286.91 568.03,287.34 568.19,283.54 568.36,288.30 568.53,285.40 568.69,284.19 568.86,288.14 569.03,288.94 569.19,283.57 569.36,288.76 569.53,285.70 569.69,286.35 569.86,282.98 570.03,284.84 570.19,286.04 570.36,287.88 570.53,284.40 570.69,288.87 570.86,286.15 571.03,287.79 571.19,289.37 571.36,286.69 571.53,289.70 571.69,290.27 571.86,290.20 572.02,294.37 572.19,292.66 572.36,295.98 572.52,295.09 572.69,295.98 572.86,291.77 573.02,292.92 573.19,293.06 573.36,289.93 573.52,284.74 573.69,289.75 573.86,288.23 574.02,281.90 574.19,285.82 574.36,282.28 574.52,286.81 574.69,287.59 574.86,284.24 575.02,283.69 575.19,288.13 575.36,286.57 575.52,288.60 575.69,283.85 575.86,288.53 576.02,285.09 576.19,282.38 576.36,287.61 576.52,284.15 576.69,286.19 576.85,283.98 577.02,284.58 577.19,287.71 577.35,288.64 577.52,286.86 577.69,287.70 577.85,290.84 578.02,287.02 578.19,290.50 578.35,292.89 578.52,292.45 578.69,292.95 578.85,292.64 579.02,293.89 579.19,292.90 579.35,288.74 579.52,287.63 579.69,292.13 579.85,290.48 580.02,288.50 580.19,288.25 580.35,287.22 580.52,284.73 580.69,284.87 580.85,287.26 581.02,284.54 581.19,285.12 581.35,282.10 581.52,283.57 581.68,285.47 581.85,286.75 582.02,289.71 582.18,285.90 582.35,283.65 582.52,283.24 582.68,283.41 582.85,284.90 583.02,287.94 583.18,289.57 583.35,289.60 583.52,288.98 583.68,291.50 583.85,290.84 584.02,286.46 584.18,288.59 584.35,289.53 584.52,293.89 584.68,291.87 584.85,292.41 585.02,289.65 585.18,291.81 585.35,294.34 585.52,294.41 585.68,294.86 585.85,290.99 586.02,288.82 586.18,289.06 586.35,283.93 586.51,283.97 586.68,284.30 586.85,284.86 587.01,282.91 587.18,282.93 587.35,283.04 587.51,286.62 587.68,286.62 587.85,288.18 588.01,289.07 588.18,288.07 588.35,289.20 588.51,289.22 588.68,288.25 588.85,289.39 589.01,287.63 589.18,291.72 589.35,289.44 589.51,289.25 589.68,292.94 589.85,292.13 590.01,298.87 590.18,298.73 590.35,300.76 590.51,298.24 590.68,299.54 590.85,299.45 591.01,302.20 591.18,304.45 591.34,299.78 591.51,298.68 591.68,304.40 591.84,300.68 592.01,303.33 592.18,300.06 592.34,300.59 592.51,298.55 592.68,296.13 592.84,300.22 593.01,295.32 593.18,299.49 593.34,295.21 593.51,299.97 593.68,300.23 593.84,299.00 594.01,300.93 594.18,297.00 594.34,302.82 594.51,300.49 594.68,298.88 594.84,297.19 595.01,295.58 595.18,298.70 595.34,301.16 595.51,301.21 595.68,298.61 595.84,302.42 596.01,298.14 596.17,298.42 596.34,299.46 596.51,297.96 596.67,301.99 596.84,298.61 597.01,304.38 597.17,304.28 597.34,302.59 597.51,300.28 597.67,306.73 597.84,300.90 598.01,304.54 598.17,300.64 598.34,300.23 598.51,299.12 598.67,300.80 598.84,302.77 599.01,300.61 599.17,299.58 599.34,296.69 599.51,298.60 599.67,297.49 599.84,298.33 600.01,296.63 600.17,300.09 600.34,299.03 600.51,295.80 600.67,300.36 600.84,298.85 601.00,296.52 601.17,296.72 601.34,298.22 601.50,301.08 601.67,295.67 601.84,295.63 602.00,296.97 602.17,297.55 602.34,297.46 602.50,298.24 602.67,302.00 602.84,303.21 603.00,303.29 603.17,305.91 603.34,306.15 603.50,302.86 603.67,302.96 603.84,303.53 604.00,304.72 604.17,307.73 604.34,306.24 604.50,301.99 604.67,301.38 604.84,305.00 605.00,303.43 605.17,303.64 605.34,301.36 605.50,299.77 605.67,300.26 605.84,295.57 606.00,301.48 606.17,299.09 606.33,301.99 606.50,300.59 606.67,298.31 606.83,303.48 607.00,300.22 607.17,300.34 607.33,300.04 607.50,300.31 607.67,299.29 607.83,301.95 608.00,302.06 608.17,298.37 608.33,303.20 608.50,299.02 608.67,299.21 608.83,302.31 609.00,304.74 609.17,304.28 609.33,304.25 609.50,303.18 609.67,301.99 609.83,305.98 610.00,308.04 610.17,307.75 610.33,303.39 610.50,309.01 610.67,308.65 610.83,309.79 611.00,305.21 611.16,305.68 611.33,301.96 611.50,302.35 611.66,301.11 611.83,299.92 612.00,300.93 612.16,301.87 612.33,303.99 612.50,301.48 612.66,304.19 612.83,303.20 613.00,302.50 613.16,301.79 613.33,303.36 613.50,304.71 613.66,300.78 613.83,303.76 614.00,303.19 614.16,306.29 614.33,311.74 614.50,311.44 614.66,318.20 614.83,319.90 615.00,319.90 615.16,319.90 615.33,318.48 615.50,310.86 615.66,308.68 615.83,302.29 615.99,304.27 616.16,304.85 616.33,303.08 616.49,305.00 616.66,302.28 616.83,302.81 616.99,301.18 617.16,303.45 617.33,300.63 617.49,298.76 617.66,294.81 617.83,293.23 617.99,294.05 618.16,294.51 618.33,291.70 618.49,289.81 618.66,290.98 618.83,293.29 618.99,289.52 619.16,289.27 619.33,285.64 619.49,286.80 619.66,283.64 619.83,288.91 619.99,283.29 620.16,285.48 620.33,282.39 620.49,279.59 620.66,278.96 620.82,284.53 620.99,280.33 621.16,286.01 621.32,285.67 621.49,286.50 621.66,281.48 621.82,288.08 621.99,283.46 622.16,285.41 622.32,284.56 622.49,289.28 622.66,287.17 622.82,286.66 622.99,288.77 623.16,286.35 623.32,290.32 623.49,289.81 623.66,285.55 623.82,286.99 623.99,281.72 624.16,282.67 624.32,279.28 624.49,278.86 624.66,279.15 624.82,276.82 624.99,282.08 625.16,279.93 625.32,283.78 625.49,280.36 625.65,280.13 625.82,280.01 625.99,282.63 626.15,279.93 626.32,283.92 626.49,284.20 626.65,281.27 626.82,279.84 626.99,286.05 627.15,282.94 627.32,283.61 627.49,287.15 627.65,287.13 627.82,282.54 627.99,282.15 628.15,285.27 628.32,287.83 628.49,282.58 628.65,287.05 628.82,289.62 628.99,285.25 629.15,285.98 629.32,286.44 629.49,288.67 629.65,289.56 629.82,289.98 629.99,286.81 630.15,287.92 630.32,284.12 630.48,281.61 630.65,281.17 630.82,285.89 630.98,280.68 631.15,284.59 631.32,282.43 631.48,282.75 631.65,281.41 631.82,285.62 631.98,284.75 632.15,280.13 632.32,286.83 632.48,284.77 632.65,283.51" fill="none" stroke="#0000ff" stroke-width="1.25" stroke-linejoin="round"/>
<rect x="43.5" y="182.3" width="170.70" height="137.30" fill="none" stroke="#000" stroke-width="1.4"/>
<text x="22.28" y="322.57" font-size="8.20" font-weight="bold" fill="#000" transform="scale(1.1700,1)">-0.5</text>
<line x1="43.5" y1="289.80" x2="46.1" y2="289.80" stroke="#000" stroke-width="1.2"/>
<text x="25.02" y="292.77" font-size="8.20" font-weight="bold" fill="#000" transform="scale(1.1700,1)">0.0</text>
<line x1="43.5" y1="260.00" x2="46.1" y2="260.00" stroke="#000" stroke-width="1.2"/>
<text x="25.01" y="262.97" font-size="8.20" font-weight="bold" fill="#000" transform="scale(1.1700,1)">0.5</text>
<line x1="43.5" y1="230.20" x2="46.1" y2="230.20" stroke="#000" stroke-width="1.2"/>
<text x="25.02" y="233.17" font-size="8.20" font-weight="bold" fill="#000" transform="scale(1.1700,1)">1.0</text>
<line x1="43.5" y1="200.40" x2="46.1" y2="200.40" stroke="#000" stroke-width="1.2"/>
<text x="25.01" y="203.35" font-size="8.20" font-weight="bold" fill="#000" transform="scale(1.1700,1)">1.5</text>
<text x="33.99" y="329.65" font-size="7.90" font-weight="bold" fill="#000" transform="scale(1.1200,1)">0.0</text>
<line x1="86.25" y1="319.6" x2="86.25" y2="317.0" stroke="#000" stroke-width="1.2"/>
<text x="72.13" y="329.65" font-size="7.90" font-weight="bold" fill="#000" transform="scale(1.1200,1)">0.1</text>
<line x1="128.90" y1="319.6" x2="128.90" y2="317.0" stroke="#000" stroke-width="1.2"/>
<text x="110.17" y="329.65" font-size="7.90" font-weight="bold" fill="#000" transform="scale(1.1200,1)">0.2</text>
<line x1="171.55" y1="319.6" x2="171.55" y2="317.0" stroke="#000" stroke-width="1.2"/>
<text x="148.22" y="329.65" font-size="7.90" font-weight="bold" fill="#000" transform="scale(1.1200,1)">0.3</text>
<line x1="214.20" y1="319.6" x2="214.20" y2="317.0" stroke="#000" stroke-width="1.2"/>
<text x="186.24" y="329.65" font-size="7.90" font-weight="bold" fill="#000" transform="scale(1.1200,1)">0.4</text>
<text x="101.35" y="340.56" font-size="10.90" font-weight="bold" fill="#000" transform="scale(1.0700,1)">Time (s)</text>
<text x="45.84" y="199.03" font-size="11.00" font-weight="bold" fill="#000" transform="scale(1.0902,1)">(I)</text>
<text x="0" y="0" font-size="9.84" font-weight="bold" fill="#000" transform="translate(20.83,273.33) rotate(-90) scale(1.1709,1)">Voltage (V)</text>
<rect x="252.5" y="182.3" width="171.00" height="137.30" fill="none" stroke="#000" stroke-width="1.4"/>
<text x="200.91" y="322.57" font-size="8.20" font-weight="bold" fill="#000" transform="scale(1.1700,1)">-0.5</text>
<line x1="252.5" y1="289.80" x2="255.1" y2="289.80" stroke="#000" stroke-width="1.2"/>
<text x="203.65" y="292.77" font-size="8.20" font-weight="bold" fill="#000" transform="scale(1.1700,1)">0.0</text>
<line x1="252.5" y1="260.00" x2="255.1" y2="260.00" stroke="#000" stroke-width="1.2"/>
<text x="203.64" y="262.97" font-size="8.20" font-weight="bold" fill="#000" transform="scale(1.1700,1)">0.5</text>
<line x1="252.5" y1="230.20" x2="255.1" y2="230.20" stroke="#000" stroke-width="1.2"/>
<text x="203.65" y="233.17" font-size="8.20" font-weight="bold" fill="#000" transform="scale(1.1700,1)">1.0</text>
<line x1="252.5" y1="200.40" x2="255.1" y2="200.40" stroke="#000" stroke-width="1.2"/>
<text x="203.64" y="203.35" font-size="8.20" font-weight="bold" fill="#000" transform="scale(1.1700,1)">1.5</text>
<text x="220.78" y="329.65" font-size="7.90" font-weight="bold" fill="#000" transform="scale(1.1200,1)">0.0</text>
<line x1="295.37" y1="319.6" x2="295.37" y2="317.0" stroke="#000" stroke-width="1.2"/>
<text x="258.84" y="329.65" font-size="7.90" font-weight="bold" fill="#000" transform="scale(1.1200,1)">0.1</text>
<line x1="337.94" y1="319.6" x2="337.94" y2="317.0" stroke="#000" stroke-width="1.2"/>
<text x="296.81" y="329.65" font-size="7.90" font-weight="bold" fill="#000" transform="scale(1.1200,1)">0.2</text>
<line x1="380.51" y1="319.6" x2="380.51" y2="317.0" stroke="#000" stroke-width="1.2"/>
<text x="334.79" y="329.65" font-size="7.90" font-weight="bold" fill="#000" transform="scale(1.1200,1)">0.3</text>
<line x1="423.08" y1="319.6" x2="423.08" y2="317.0" stroke="#000" stroke-width="1.2"/>
<text x="372.74" y="329.65" font-size="7.90" font-weight="bold" fill="#000" transform="scale(1.1200,1)">0.4</text>
<text x="296.82" y="340.56" font-size="10.90" font-weight="bold" fill="#000" transform="scale(1.0700,1)">Time (s)</text>
<text x="233.04" y="199.03" font-size="11.00" font-weight="bold" fill="#000" transform="scale(1.1125,1)">(II)</text>
<text x="0" y="0" font-size="9.84" font-weight="bold" fill="#000" transform="translate(229.83,273.33) rotate(-90) scale(1.1709,1)">Voltage (V)</text>
<rect x="461.9" y="182.3" width="170.90" height="137.30" fill="none" stroke="#000" stroke-width="1.4"/>
<text x="379.88" y="322.57" font-size="8.20" font-weight="bold" fill="#000" transform="scale(1.1700,1)">-0.5</text>
<line x1="461.9" y1="289.80" x2="464.5" y2="289.80" stroke="#000" stroke-width="1.2"/>
<text x="382.63" y="292.77" font-size="8.20" font-weight="bold" fill="#000" transform="scale(1.1700,1)">0.0</text>
<line x1="461.9" y1="260.00" x2="464.5" y2="260.00" stroke="#000" stroke-width="1.2"/>
<text x="382.61" y="262.97" font-size="8.20" font-weight="bold" fill="#000" transform="scale(1.1700,1)">0.5</text>
<line x1="461.9" y1="230.20" x2="464.5" y2="230.20" stroke="#000" stroke-width="1.2"/>
<text x="382.63" y="233.17" font-size="8.20" font-weight="bold" fill="#000" transform="scale(1.1700,1)">1.0</text>
<line x1="461.9" y1="200.40" x2="464.5" y2="200.40" stroke="#000" stroke-width="1.2"/>
<text x="382.61" y="203.35" font-size="8.20" font-weight="bold" fill="#000" transform="scale(1.1700,1)">1.5</text>
<text x="407.65" y="329.65" font-size="7.90" font-weight="bold" fill="#000" transform="scale(1.1200,1)">0.0</text>
<line x1="500.00" y1="319.6" x2="500.00" y2="317.0" stroke="#000" stroke-width="1.2"/>
<text x="441.55" y="329.65" font-size="7.90" font-weight="bold" fill="#000" transform="scale(1.1200,1)">0.1</text>
<line x1="537.90" y1="319.6" x2="537.90" y2="317.0" stroke="#000" stroke-width="1.2"/>
<text x="475.35" y="329.65" font-size="7.90" font-weight="bold" fill="#000" transform="scale(1.1200,1)">0.2</text>
<line x1="575.80" y1="319.6" x2="575.80" y2="317.0" stroke="#000" stroke-width="1.2"/>
<text x="509.15" y="329.65" font-size="7.90" font-weight="bold" fill="#000" transform="scale(1.1200,1)">0.3</text>
<line x1="613.70" y1="319.6" x2="613.70" y2="317.0" stroke="#000" stroke-width="1.2"/>
<text x="542.93" y="329.65" font-size="7.90" font-weight="bold" fill="#000" transform="scale(1.1200,1)">0.4</text>
<text x="492.48" y="340.56" font-size="10.90" font-weight="bold" fill="#000" transform="scale(1.0700,1)">Time (s)</text>
<text x="427.05" y="199.03" font-size="11.00" font-weight="bold" fill="#000" transform="scale(1.0989,1)">(III)</text>
<text x="0" y="0" font-size="9.84" font-weight="bold" fill="#000" transform="translate(439.23,273.33) rotate(-90) scale(1.1709,1)">Voltage (V)</text>
<defs>
<linearGradient id="metal" x1="0" y1="0" x2="0" y2="1"><stop offset="0" stop-color="#8e9296"/><stop offset="0.25" stop-color="#b9babc"/><stop offset="1" stop-color="#c2c2c2"/></linearGradient>
<linearGradient id="dark" x1="0" y1="0" x2="1" y2="1"><stop offset="0" stop-color="#434a54"/><stop offset="1" stop-color="#50575f"/></linearGradient>
<linearGradient id="dark3" x1="0" y1="0" x2="1" y2="1"><stop offset="0" stop-color="#4f565f"/><stop offset="1" stop-color="#5c636b"/></linearGradient>
<linearGradient id="dark2" x1="0" y1="0" x2="1" y2="1"><stop offset="0" stop-color="#353a42"/><stop offset="1" stop-color="#3d424a"/></linearGradient>
<linearGradient id="skinv" x1="0" y1="0" x2="0" y2="1"><stop offset="0" stop-color="#dcab9a"/><stop offset="1" stop-color="#e4bba9"/></linearGradient>
<linearGradient id="padg" x1="0" y1="0" x2="0" y2="1"><stop offset="0" stop-color="#ebe8e0"/><stop offset="1" stop-color="#e2ded4"/></linearGradient>
</defs>
<clipPath id="ci163"><rect x="163.5" y="185.8" width="44.40" height="61.00"/></clipPath>
<g clip-path="url(#ci163)">
<rect x="163.5" y="185.8" width="44.40" height="33.80" fill="url(#dark)"/>
<rect x="163.5" y="219.6" width="44.40" height="27.20" fill="url(#metal)"/>
<path d="M163.5,190 Q185,184 207.9,196" stroke="#2b3036" stroke-width="1" fill="none"/>
<path d="M199.5,186 Q201,196 201.5,205" stroke="#1d2024" stroke-width="2.2" fill="none"/>
<rect x="166.8" y="207.0" width="8.40" height="3.80" fill="#efeeea"/>
<path d="M199.2,207.8 L205.8,205.6 L206.3,207.6 L199.7,209.8 Z" fill="#e8e8e6"/>
<rect x="175.4" y="199.3" width="22.20" height="18.60" fill="url(#padg)" stroke="#c8a857" stroke-width="1.0"/>
<path d="M185.0,211 Q185.2,208.6 187.9,208.6 Q190.6,208.6 190.9,211 L192.2,229 Q193.5,238 194.8,247 L164.5,247 Q164.5,242 167.5,238 Q172,234.5 177,233.5 Q181,229 184.2,229 Z" fill="url(#skinv)"/>
<path d="M179,229 Q182,227 184.2,229.5" stroke="#b98c7c" stroke-width="1.2" fill="none" opacity="0.7"/>
</g>
<clipPath id="ci373"><rect x="373.1" y="185.8" width="44.40" height="61.00"/></clipPath>
<g clip-path="url(#ci373)">
<rect x="373.1" y="185.8" width="44.40" height="37.00" fill="url(#dark2)"/>
<rect x="373.1" y="222.8" width="44.40" height="5.8" fill="#cfd1d3"/>
<rect x="373.1" y="228.6" width="44.40" height="18.20" fill="#85878a"/>
<path d="M412,186 Q411.5,196 410.5,205.5" stroke="#1d2024" stroke-width="2.2" fill="none"/>
<rect x="373.6" y="206.4" width="9.40" height="5.00" fill="#efeeea"/>
<path d="M406.7,206 L412.2,205.2 L412.5,209.8 L406.9,210.6 Z" fill="#e5e3dc"/>
<rect x="383.0" y="196.0" width="24.70" height="25.70" fill="url(#padg)" stroke="#c8a857" stroke-width="1.0"/>
<path d="M387.3,204.5 Q387.6,201.4 390.2,201.4 Q392.9,201.4 393.1,204.5 L393.6,229 L395.3,229 L395.3,208.6 Q395.6,205.5 398.1,205.5 Q400.7,205.5 401,208.6 L402.2,232 Q406,238 409.5,247 L377.5,247 Q379,240 382,236 Q384.5,233 386.7,231 Z" fill="url(#skinv)"/>
<path d="M394.3,212 L394.5,236" stroke="#c08f7f" stroke-width="0.9" fill="none" opacity="0.8"/>
</g>
<clipPath id="ci584"><rect x="584.9" y="185.8" width="43.30" height="60.90"/></clipPath>
<g clip-path="url(#ci584)">
<rect x="584.9" y="185.8" width="43.30" height="37.60" fill="url(#dark3)"/>
<rect x="584.9" y="223.4" width="43.30" height="23.30" fill="#c4c5c6"/>
<path d="M584.9,197 Q600,186 628.2,196 M590.5,186 L591.5,222 M595,186 Q597,200 596,210 M621,186 Q622,198 619.5,210" stroke="#1f2327" stroke-width="1.3" fill="none"/>
<rect x="585.6" y="213.6" width="8.40" height="2.60" fill="#efeeea"/>
<rect x="617.8" y="211.8" width="9.80" height="3.20" fill="#efeeea"/>
<rect x="593.8" y="205.4" width="24.6" height="16.3" fill="#e3d8bd" stroke="#cdb46a" stroke-width="1"/>
<path d="M595.9,216.5 Q596.2,213.5 599.3,213.5 Q602.4,213.5 602.7,216.5 L603.3,225 L603.6,225 L603.6,214 Q604,210.8 607,210.8 Q610,210.8 610.4,214 L610.6,225 L610.6,225 Q610.7,212.7 613.8,212.7 Q617,212.7 617.2,216 L617.8,228 Q618.5,226.5 621.5,226.5 Q624.5,226.8 624.8,230 L625.3,247 L597,247 L596.2,236 Z" fill="url(#skinv)"/>
<path d="M603.4,222 L603.6,244 M610.6,222 L610.8,244 M617.6,230 L617.9,246" stroke="#bf8e7e" stroke-width="0.8" fill="none" opacity="0.8"/>
</g>
</svg>
</body></html>
